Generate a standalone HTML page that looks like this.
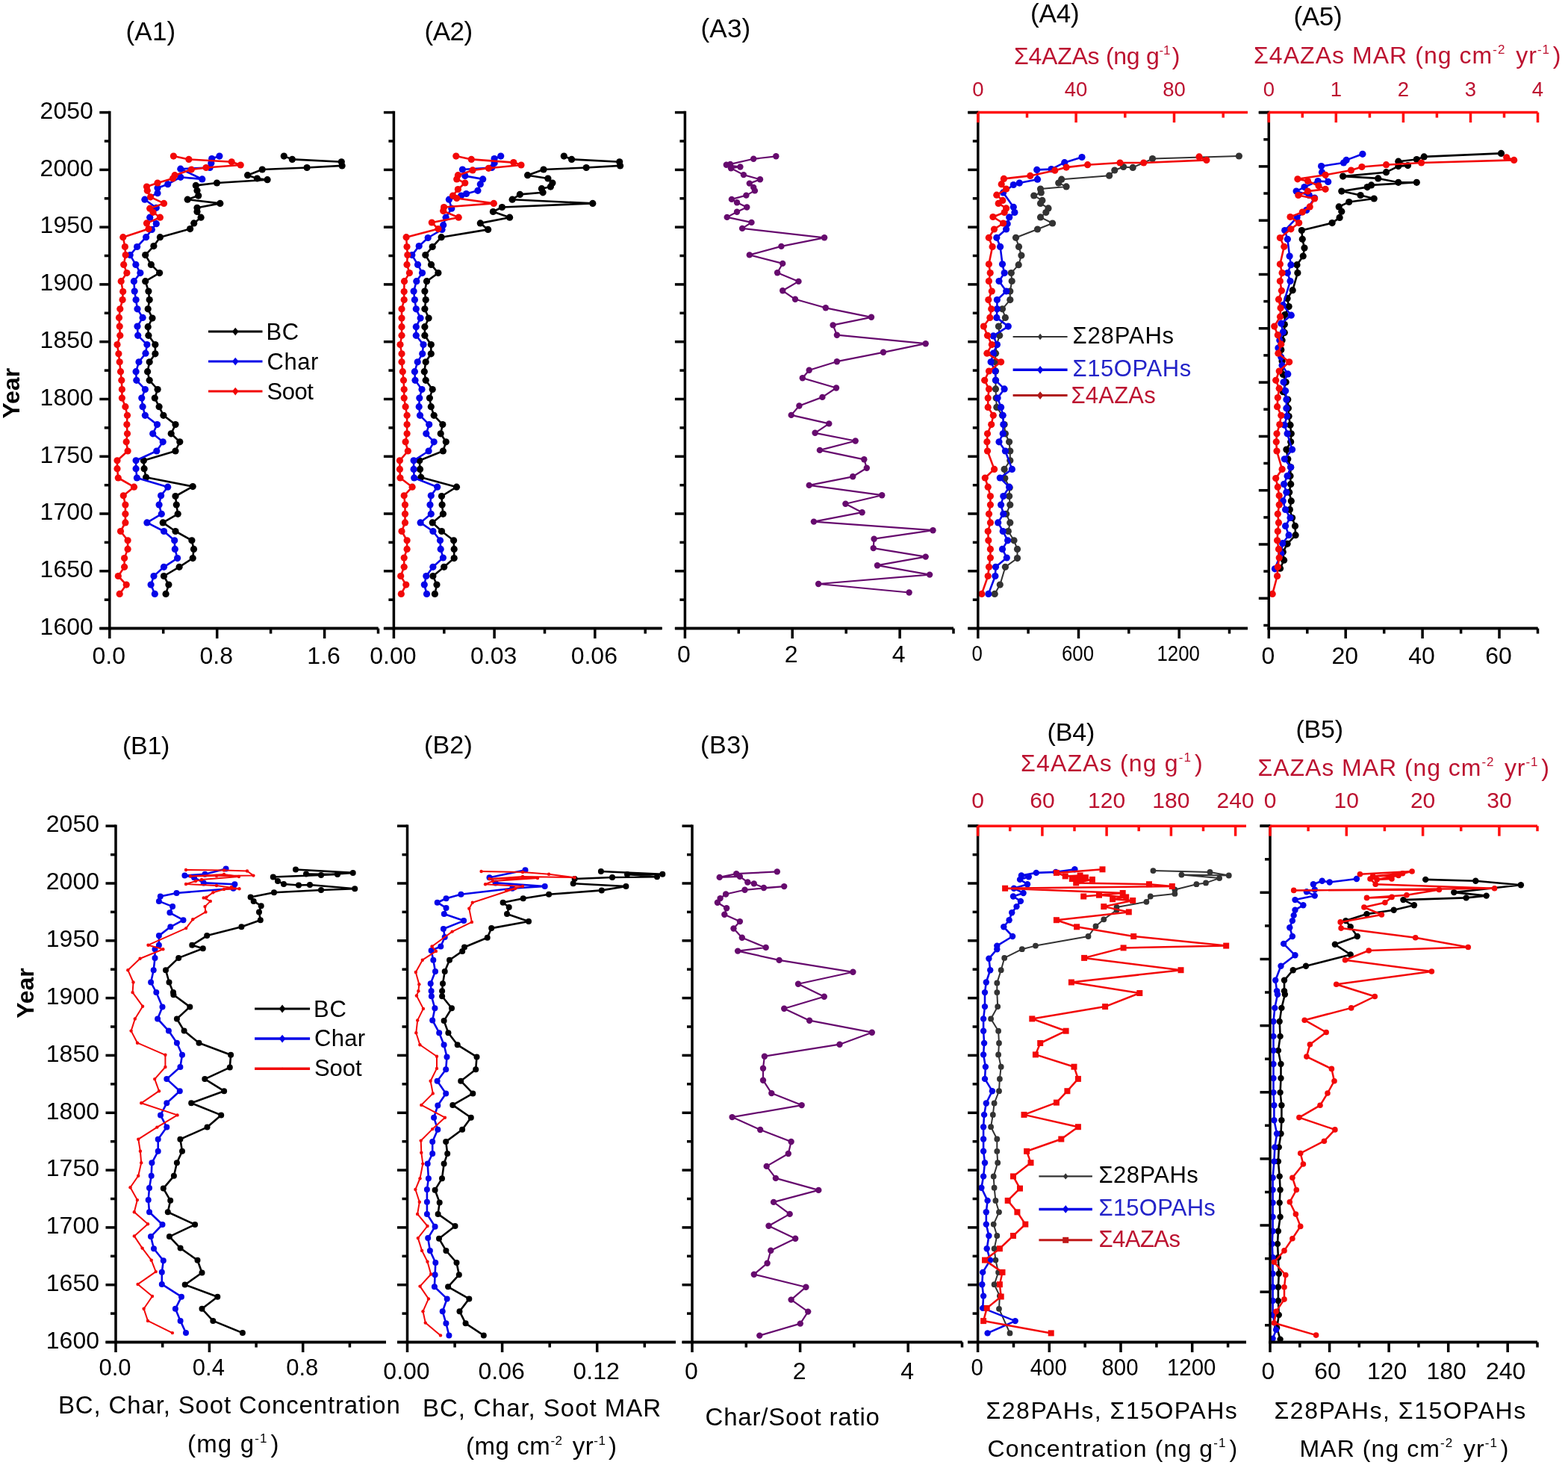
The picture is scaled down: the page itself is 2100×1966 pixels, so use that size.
<!DOCTYPE html>
<html><head><meta charset="utf-8"><title>Figure</title>
<style>html,body{margin:0;padding:0;background:#fff;} svg{display:block;}</style></head>
<body><svg width="2100" height="1966" viewBox="0 0 2100 1966" font-family="'Liberation Sans', Arial, sans-serif">
<rect width="2100" height="1966" fill="#fff"/>
<polyline points="380.3,209.1 391.4,213.4 457.3,216.8 458.1,221.9 411.1,224.5 351.2,227.0 331.6,234.7 344.4,239.0 358.1,240.7 290.5,245.0 262.3,248.4 264.0,255.3 265.7,262.1 251.2,267.2 294.8,272.4 264.0,278.3 264.0,283.5 269.1,291.2 259.7,298.9 254.6,306.6 214.4,317.7 205.9,329.6 194.7,341.6 202.4,354.4 213.6,365.6 194.7,376.7 198.9,390.0 200.2,401.6 198.2,413.8 204.0,426.1 198.2,437.7 198.9,449.3 207.9,461.6 207.9,473.8 200.2,484.8 197.6,497.7 200.2,509.3 211.1,521.5 207.3,533.1 213.1,544.7 218.9,556.3 235.0,568.6 229.2,580.8 240.8,591.8 235.0,604.0 192.4,616.8 193.1,627.7 195.6,639.3 258.2,651.6 235.0,664.5 236.3,676.1 238.2,688.3 218.2,699.9 235.0,711.5 256.9,723.8 259.5,735.4 258.2,747.6 240.1,759.3 219.5,771.5 225.9,783.1 222.1,795.4" fill="none" stroke="#000000" stroke-width="2.6" stroke-linejoin="round"/>
<circle cx="380.3" cy="209.1" r="4.6" fill="#000000"/>
<circle cx="391.4" cy="213.4" r="4.6" fill="#000000"/>
<circle cx="457.3" cy="216.8" r="4.6" fill="#000000"/>
<circle cx="458.1" cy="221.9" r="4.6" fill="#000000"/>
<circle cx="411.1" cy="224.5" r="4.6" fill="#000000"/>
<circle cx="351.2" cy="227.0" r="4.6" fill="#000000"/>
<circle cx="331.6" cy="234.7" r="4.6" fill="#000000"/>
<circle cx="344.4" cy="239.0" r="4.6" fill="#000000"/>
<circle cx="358.1" cy="240.7" r="4.6" fill="#000000"/>
<circle cx="290.5" cy="245.0" r="4.6" fill="#000000"/>
<circle cx="262.3" cy="248.4" r="4.6" fill="#000000"/>
<circle cx="264.0" cy="255.3" r="4.6" fill="#000000"/>
<circle cx="265.7" cy="262.1" r="4.6" fill="#000000"/>
<circle cx="251.2" cy="267.2" r="4.6" fill="#000000"/>
<circle cx="294.8" cy="272.4" r="4.6" fill="#000000"/>
<circle cx="264.0" cy="278.3" r="4.6" fill="#000000"/>
<circle cx="264.0" cy="283.5" r="4.6" fill="#000000"/>
<circle cx="269.1" cy="291.2" r="4.6" fill="#000000"/>
<circle cx="259.7" cy="298.9" r="4.6" fill="#000000"/>
<circle cx="254.6" cy="306.6" r="4.6" fill="#000000"/>
<circle cx="214.4" cy="317.7" r="4.6" fill="#000000"/>
<circle cx="205.9" cy="329.6" r="4.6" fill="#000000"/>
<circle cx="194.7" cy="341.6" r="4.6" fill="#000000"/>
<circle cx="202.4" cy="354.4" r="4.6" fill="#000000"/>
<circle cx="213.6" cy="365.6" r="4.6" fill="#000000"/>
<circle cx="194.7" cy="376.7" r="4.6" fill="#000000"/>
<circle cx="198.9" cy="390.0" r="4.6" fill="#000000"/>
<circle cx="200.2" cy="401.6" r="4.6" fill="#000000"/>
<circle cx="198.2" cy="413.8" r="4.6" fill="#000000"/>
<circle cx="204.0" cy="426.1" r="4.6" fill="#000000"/>
<circle cx="198.2" cy="437.7" r="4.6" fill="#000000"/>
<circle cx="198.9" cy="449.3" r="4.6" fill="#000000"/>
<circle cx="207.9" cy="461.6" r="4.6" fill="#000000"/>
<circle cx="207.9" cy="473.8" r="4.6" fill="#000000"/>
<circle cx="200.2" cy="484.8" r="4.6" fill="#000000"/>
<circle cx="197.6" cy="497.7" r="4.6" fill="#000000"/>
<circle cx="200.2" cy="509.3" r="4.6" fill="#000000"/>
<circle cx="211.1" cy="521.5" r="4.6" fill="#000000"/>
<circle cx="207.3" cy="533.1" r="4.6" fill="#000000"/>
<circle cx="213.1" cy="544.7" r="4.6" fill="#000000"/>
<circle cx="218.9" cy="556.3" r="4.6" fill="#000000"/>
<circle cx="235.0" cy="568.6" r="4.6" fill="#000000"/>
<circle cx="229.2" cy="580.8" r="4.6" fill="#000000"/>
<circle cx="240.8" cy="591.8" r="4.6" fill="#000000"/>
<circle cx="235.0" cy="604.0" r="4.6" fill="#000000"/>
<circle cx="192.4" cy="616.8" r="4.6" fill="#000000"/>
<circle cx="193.1" cy="627.7" r="4.6" fill="#000000"/>
<circle cx="195.6" cy="639.3" r="4.6" fill="#000000"/>
<circle cx="258.2" cy="651.6" r="4.6" fill="#000000"/>
<circle cx="235.0" cy="664.5" r="4.6" fill="#000000"/>
<circle cx="236.3" cy="676.1" r="4.6" fill="#000000"/>
<circle cx="238.2" cy="688.3" r="4.6" fill="#000000"/>
<circle cx="218.2" cy="699.9" r="4.6" fill="#000000"/>
<circle cx="235.0" cy="711.5" r="4.6" fill="#000000"/>
<circle cx="256.9" cy="723.8" r="4.6" fill="#000000"/>
<circle cx="259.5" cy="735.4" r="4.6" fill="#000000"/>
<circle cx="258.2" cy="747.6" r="4.6" fill="#000000"/>
<circle cx="240.1" cy="759.3" r="4.6" fill="#000000"/>
<circle cx="219.5" cy="771.5" r="4.6" fill="#000000"/>
<circle cx="225.9" cy="783.1" r="4.6" fill="#000000"/>
<circle cx="222.1" cy="795.4" r="4.6" fill="#000000"/>
<polyline points="293.9,209.1 283.7,212.5 282.8,218.5 281.1,224.5 241.8,226.2 270.8,239.9 241.8,237.3 224.7,246.7 211.0,251.8 211.0,258.7 193.9,267.2 209.3,278.3 200.7,291.2 209.3,299.7 203.3,307.4 195.6,317.7 183.6,330.5 174.2,341.6 181.9,354.4 187.9,365.6 179.4,376.7 180.2,390.0 182.1,401.6 184.0,413.8 191.1,425.4 184.0,437.1 184.7,449.3 196.9,461.6 195.0,473.2 186.0,484.8 182.1,497.7 182.8,509.3 194.4,521.5 189.8,533.1 191.1,544.7 194.4,556.3 210.5,568.6 204.7,580.8 218.2,591.8 209.8,604.0 182.1,616.8 182.1,627.7 183.4,640.0 224.7,652.2 215.6,663.8 213.1,676.1 216.3,688.3 196.9,699.9 219.5,711.5 233.7,723.8 234.3,735.4 237.6,747.6 219.5,759.3 206.0,771.5 202.1,783.1 207.3,795.4" fill="none" stroke="#0505e8" stroke-width="2.6" stroke-linejoin="round"/>
<circle cx="293.9" cy="209.1" r="4.6" fill="#0505e8"/>
<circle cx="283.7" cy="212.5" r="4.6" fill="#0505e8"/>
<circle cx="282.8" cy="218.5" r="4.6" fill="#0505e8"/>
<circle cx="281.1" cy="224.5" r="4.6" fill="#0505e8"/>
<circle cx="241.8" cy="226.2" r="4.6" fill="#0505e8"/>
<circle cx="270.8" cy="239.9" r="4.6" fill="#0505e8"/>
<circle cx="241.8" cy="237.3" r="4.6" fill="#0505e8"/>
<circle cx="224.7" cy="246.7" r="4.6" fill="#0505e8"/>
<circle cx="211.0" cy="251.8" r="4.6" fill="#0505e8"/>
<circle cx="211.0" cy="258.7" r="4.6" fill="#0505e8"/>
<circle cx="193.9" cy="267.2" r="4.6" fill="#0505e8"/>
<circle cx="209.3" cy="278.3" r="4.6" fill="#0505e8"/>
<circle cx="200.7" cy="291.2" r="4.6" fill="#0505e8"/>
<circle cx="209.3" cy="299.7" r="4.6" fill="#0505e8"/>
<circle cx="203.3" cy="307.4" r="4.6" fill="#0505e8"/>
<circle cx="195.6" cy="317.7" r="4.6" fill="#0505e8"/>
<circle cx="183.6" cy="330.5" r="4.6" fill="#0505e8"/>
<circle cx="174.2" cy="341.6" r="4.6" fill="#0505e8"/>
<circle cx="181.9" cy="354.4" r="4.6" fill="#0505e8"/>
<circle cx="187.9" cy="365.6" r="4.6" fill="#0505e8"/>
<circle cx="179.4" cy="376.7" r="4.6" fill="#0505e8"/>
<circle cx="180.2" cy="390.0" r="4.6" fill="#0505e8"/>
<circle cx="182.1" cy="401.6" r="4.6" fill="#0505e8"/>
<circle cx="184.0" cy="413.8" r="4.6" fill="#0505e8"/>
<circle cx="191.1" cy="425.4" r="4.6" fill="#0505e8"/>
<circle cx="184.0" cy="437.1" r="4.6" fill="#0505e8"/>
<circle cx="184.7" cy="449.3" r="4.6" fill="#0505e8"/>
<circle cx="196.9" cy="461.6" r="4.6" fill="#0505e8"/>
<circle cx="195.0" cy="473.2" r="4.6" fill="#0505e8"/>
<circle cx="186.0" cy="484.8" r="4.6" fill="#0505e8"/>
<circle cx="182.1" cy="497.7" r="4.6" fill="#0505e8"/>
<circle cx="182.8" cy="509.3" r="4.6" fill="#0505e8"/>
<circle cx="194.4" cy="521.5" r="4.6" fill="#0505e8"/>
<circle cx="189.8" cy="533.1" r="4.6" fill="#0505e8"/>
<circle cx="191.1" cy="544.7" r="4.6" fill="#0505e8"/>
<circle cx="194.4" cy="556.3" r="4.6" fill="#0505e8"/>
<circle cx="210.5" cy="568.6" r="4.6" fill="#0505e8"/>
<circle cx="204.7" cy="580.8" r="4.6" fill="#0505e8"/>
<circle cx="218.2" cy="591.8" r="4.6" fill="#0505e8"/>
<circle cx="209.8" cy="604.0" r="4.6" fill="#0505e8"/>
<circle cx="182.1" cy="616.8" r="4.6" fill="#0505e8"/>
<circle cx="182.1" cy="627.7" r="4.6" fill="#0505e8"/>
<circle cx="183.4" cy="640.0" r="4.6" fill="#0505e8"/>
<circle cx="224.7" cy="652.2" r="4.6" fill="#0505e8"/>
<circle cx="215.6" cy="663.8" r="4.6" fill="#0505e8"/>
<circle cx="213.1" cy="676.1" r="4.6" fill="#0505e8"/>
<circle cx="216.3" cy="688.3" r="4.6" fill="#0505e8"/>
<circle cx="196.9" cy="699.9" r="4.6" fill="#0505e8"/>
<circle cx="219.5" cy="711.5" r="4.6" fill="#0505e8"/>
<circle cx="233.7" cy="723.8" r="4.6" fill="#0505e8"/>
<circle cx="234.3" cy="735.4" r="4.6" fill="#0505e8"/>
<circle cx="237.6" cy="747.6" r="4.6" fill="#0505e8"/>
<circle cx="219.5" cy="759.3" r="4.6" fill="#0505e8"/>
<circle cx="206.0" cy="771.5" r="4.6" fill="#0505e8"/>
<circle cx="202.1" cy="783.1" r="4.6" fill="#0505e8"/>
<circle cx="207.3" cy="795.4" r="4.6" fill="#0505e8"/>
<polyline points="232.4,209.1 252.9,213.4 310.2,216.8 322.2,221.0 276.0,224.5 256.3,227.0 234.1,234.7 231.5,239.0 211.0,245.0 196.5,250.1 197.3,255.3 201.6,263.8 219.5,272.4 200.7,279.2 205.0,284.3 214.4,291.2 196.5,298.9 199.0,306.6 164.8,317.7 167.4,330.5 168.2,341.6 165.7,354.4 169.9,365.6 162.2,376.7 164.7,390.6 164.1,401.6 160.8,413.8 159.5,425.4 160.2,437.1 160.8,449.3 157.0,461.6 158.9,473.8 160.2,484.8 161.5,497.7 162.8,509.3 163.4,521.5 163.4,533.1 167.9,544.7 170.5,556.3 169.9,568.6 170.5,580.8 169.2,591.8 171.1,604.0 157.0,616.8 157.0,627.7 158.3,640.0 179.5,652.2 165.3,663.8 167.9,676.1 167.9,688.3 167.9,699.9 161.5,711.5 171.1,723.8 171.1,735.4 166.6,747.6 166.6,759.3 158.3,771.5 169.2,783.1 160.2,795.4" fill="none" stroke="#f20808" stroke-width="2.6" stroke-linejoin="round"/>
<circle cx="232.4" cy="209.1" r="4.6" fill="#f20808"/>
<circle cx="252.9" cy="213.4" r="4.6" fill="#f20808"/>
<circle cx="310.2" cy="216.8" r="4.6" fill="#f20808"/>
<circle cx="322.2" cy="221.0" r="4.6" fill="#f20808"/>
<circle cx="276.0" cy="224.5" r="4.6" fill="#f20808"/>
<circle cx="256.3" cy="227.0" r="4.6" fill="#f20808"/>
<circle cx="234.1" cy="234.7" r="4.6" fill="#f20808"/>
<circle cx="231.5" cy="239.0" r="4.6" fill="#f20808"/>
<circle cx="211.0" cy="245.0" r="4.6" fill="#f20808"/>
<circle cx="196.5" cy="250.1" r="4.6" fill="#f20808"/>
<circle cx="197.3" cy="255.3" r="4.6" fill="#f20808"/>
<circle cx="201.6" cy="263.8" r="4.6" fill="#f20808"/>
<circle cx="219.5" cy="272.4" r="4.6" fill="#f20808"/>
<circle cx="200.7" cy="279.2" r="4.6" fill="#f20808"/>
<circle cx="205.0" cy="284.3" r="4.6" fill="#f20808"/>
<circle cx="214.4" cy="291.2" r="4.6" fill="#f20808"/>
<circle cx="196.5" cy="298.9" r="4.6" fill="#f20808"/>
<circle cx="199.0" cy="306.6" r="4.6" fill="#f20808"/>
<circle cx="164.8" cy="317.7" r="4.6" fill="#f20808"/>
<circle cx="167.4" cy="330.5" r="4.6" fill="#f20808"/>
<circle cx="168.2" cy="341.6" r="4.6" fill="#f20808"/>
<circle cx="165.7" cy="354.4" r="4.6" fill="#f20808"/>
<circle cx="169.9" cy="365.6" r="4.6" fill="#f20808"/>
<circle cx="162.2" cy="376.7" r="4.6" fill="#f20808"/>
<circle cx="164.7" cy="390.6" r="4.6" fill="#f20808"/>
<circle cx="164.1" cy="401.6" r="4.6" fill="#f20808"/>
<circle cx="160.8" cy="413.8" r="4.6" fill="#f20808"/>
<circle cx="159.5" cy="425.4" r="4.6" fill="#f20808"/>
<circle cx="160.2" cy="437.1" r="4.6" fill="#f20808"/>
<circle cx="160.8" cy="449.3" r="4.6" fill="#f20808"/>
<circle cx="157.0" cy="461.6" r="4.6" fill="#f20808"/>
<circle cx="158.9" cy="473.8" r="4.6" fill="#f20808"/>
<circle cx="160.2" cy="484.8" r="4.6" fill="#f20808"/>
<circle cx="161.5" cy="497.7" r="4.6" fill="#f20808"/>
<circle cx="162.8" cy="509.3" r="4.6" fill="#f20808"/>
<circle cx="163.4" cy="521.5" r="4.6" fill="#f20808"/>
<circle cx="163.4" cy="533.1" r="4.6" fill="#f20808"/>
<circle cx="167.9" cy="544.7" r="4.6" fill="#f20808"/>
<circle cx="170.5" cy="556.3" r="4.6" fill="#f20808"/>
<circle cx="169.9" cy="568.6" r="4.6" fill="#f20808"/>
<circle cx="170.5" cy="580.8" r="4.6" fill="#f20808"/>
<circle cx="169.2" cy="591.8" r="4.6" fill="#f20808"/>
<circle cx="171.1" cy="604.0" r="4.6" fill="#f20808"/>
<circle cx="157.0" cy="616.8" r="4.6" fill="#f20808"/>
<circle cx="157.0" cy="627.7" r="4.6" fill="#f20808"/>
<circle cx="158.3" cy="640.0" r="4.6" fill="#f20808"/>
<circle cx="179.5" cy="652.2" r="4.6" fill="#f20808"/>
<circle cx="165.3" cy="663.8" r="4.6" fill="#f20808"/>
<circle cx="167.9" cy="676.1" r="4.6" fill="#f20808"/>
<circle cx="167.9" cy="688.3" r="4.6" fill="#f20808"/>
<circle cx="167.9" cy="699.9" r="4.6" fill="#f20808"/>
<circle cx="161.5" cy="711.5" r="4.6" fill="#f20808"/>
<circle cx="171.1" cy="723.8" r="4.6" fill="#f20808"/>
<circle cx="171.1" cy="735.4" r="4.6" fill="#f20808"/>
<circle cx="166.6" cy="747.6" r="4.6" fill="#f20808"/>
<circle cx="166.6" cy="759.3" r="4.6" fill="#f20808"/>
<circle cx="158.3" cy="771.5" r="4.6" fill="#f20808"/>
<circle cx="169.2" cy="783.1" r="4.6" fill="#f20808"/>
<circle cx="160.2" cy="795.4" r="4.6" fill="#f20808"/>
<polyline points="755.3,209.1 765.6,213.4 829.7,216.8 830.6,221.9 785.2,224.5 728.0,227.0 706.6,234.7 733.9,239.0 739.9,245.0 737.4,250.1 725.4,252.7 727.1,257.8 696.3,260.4 686.1,267.2 793.8,272.4 672.4,277.5 660.4,283.5 682.6,291.2 643.3,298.9 653.6,307.4 591.1,317.7 579.2,330.5 569.8,341.6 577.5,354.4 586.9,365.6 571.5,376.7 568.9,390.0 570.2,401.6 568.9,413.8 574.1,426.1 568.9,437.7 568.9,449.3 577.3,461.6 577.3,473.8 570.2,484.8 568.3,497.7 570.2,509.3 579.2,521.5 575.4,533.1 577.3,544.7 581.2,556.3 592.8,568.6 590.2,580.8 597.3,591.8 593.4,604.0 561.8,616.8 562.5,628.4 563.8,639.3 611.5,652.2 591.5,664.5 592.1,676.1 593.4,688.3 579.2,699.9 591.5,711.5 607.6,723.8 608.2,735.4 608.2,747.6 594.7,759.3 579.9,771.5 585.0,783.1 582.4,795.4" fill="none" stroke="#000000" stroke-width="2.6" stroke-linejoin="round"/>
<circle cx="755.3" cy="209.1" r="4.6" fill="#000000"/>
<circle cx="765.6" cy="213.4" r="4.6" fill="#000000"/>
<circle cx="829.7" cy="216.8" r="4.6" fill="#000000"/>
<circle cx="830.6" cy="221.9" r="4.6" fill="#000000"/>
<circle cx="785.2" cy="224.5" r="4.6" fill="#000000"/>
<circle cx="728.0" cy="227.0" r="4.6" fill="#000000"/>
<circle cx="706.6" cy="234.7" r="4.6" fill="#000000"/>
<circle cx="733.9" cy="239.0" r="4.6" fill="#000000"/>
<circle cx="739.9" cy="245.0" r="4.6" fill="#000000"/>
<circle cx="737.4" cy="250.1" r="4.6" fill="#000000"/>
<circle cx="725.4" cy="252.7" r="4.6" fill="#000000"/>
<circle cx="727.1" cy="257.8" r="4.6" fill="#000000"/>
<circle cx="696.3" cy="260.4" r="4.6" fill="#000000"/>
<circle cx="686.1" cy="267.2" r="4.6" fill="#000000"/>
<circle cx="793.8" cy="272.4" r="4.6" fill="#000000"/>
<circle cx="672.4" cy="277.5" r="4.6" fill="#000000"/>
<circle cx="660.4" cy="283.5" r="4.6" fill="#000000"/>
<circle cx="682.6" cy="291.2" r="4.6" fill="#000000"/>
<circle cx="643.3" cy="298.9" r="4.6" fill="#000000"/>
<circle cx="653.6" cy="307.4" r="4.6" fill="#000000"/>
<circle cx="591.1" cy="317.7" r="4.6" fill="#000000"/>
<circle cx="579.2" cy="330.5" r="4.6" fill="#000000"/>
<circle cx="569.8" cy="341.6" r="4.6" fill="#000000"/>
<circle cx="577.5" cy="354.4" r="4.6" fill="#000000"/>
<circle cx="586.9" cy="365.6" r="4.6" fill="#000000"/>
<circle cx="571.5" cy="376.7" r="4.6" fill="#000000"/>
<circle cx="568.9" cy="390.0" r="4.6" fill="#000000"/>
<circle cx="570.2" cy="401.6" r="4.6" fill="#000000"/>
<circle cx="568.9" cy="413.8" r="4.6" fill="#000000"/>
<circle cx="574.1" cy="426.1" r="4.6" fill="#000000"/>
<circle cx="568.9" cy="437.7" r="4.6" fill="#000000"/>
<circle cx="568.9" cy="449.3" r="4.6" fill="#000000"/>
<circle cx="577.3" cy="461.6" r="4.6" fill="#000000"/>
<circle cx="577.3" cy="473.8" r="4.6" fill="#000000"/>
<circle cx="570.2" cy="484.8" r="4.6" fill="#000000"/>
<circle cx="568.3" cy="497.7" r="4.6" fill="#000000"/>
<circle cx="570.2" cy="509.3" r="4.6" fill="#000000"/>
<circle cx="579.2" cy="521.5" r="4.6" fill="#000000"/>
<circle cx="575.4" cy="533.1" r="4.6" fill="#000000"/>
<circle cx="577.3" cy="544.7" r="4.6" fill="#000000"/>
<circle cx="581.2" cy="556.3" r="4.6" fill="#000000"/>
<circle cx="592.8" cy="568.6" r="4.6" fill="#000000"/>
<circle cx="590.2" cy="580.8" r="4.6" fill="#000000"/>
<circle cx="597.3" cy="591.8" r="4.6" fill="#000000"/>
<circle cx="593.4" cy="604.0" r="4.6" fill="#000000"/>
<circle cx="561.8" cy="616.8" r="4.6" fill="#000000"/>
<circle cx="562.5" cy="628.4" r="4.6" fill="#000000"/>
<circle cx="563.8" cy="639.3" r="4.6" fill="#000000"/>
<circle cx="611.5" cy="652.2" r="4.6" fill="#000000"/>
<circle cx="591.5" cy="664.5" r="4.6" fill="#000000"/>
<circle cx="592.1" cy="676.1" r="4.6" fill="#000000"/>
<circle cx="593.4" cy="688.3" r="4.6" fill="#000000"/>
<circle cx="579.2" cy="699.9" r="4.6" fill="#000000"/>
<circle cx="591.5" cy="711.5" r="4.6" fill="#000000"/>
<circle cx="607.6" cy="723.8" r="4.6" fill="#000000"/>
<circle cx="608.2" cy="735.4" r="4.6" fill="#000000"/>
<circle cx="608.2" cy="747.6" r="4.6" fill="#000000"/>
<circle cx="594.7" cy="759.3" r="4.6" fill="#000000"/>
<circle cx="579.9" cy="771.5" r="4.6" fill="#000000"/>
<circle cx="585.0" cy="783.1" r="4.6" fill="#000000"/>
<circle cx="582.4" cy="795.4" r="4.6" fill="#000000"/>
<polyline points="670.7,209.1 662.1,212.5 662.1,218.5 658.7,224.5 619.4,227.0 622.8,235.6 646.7,239.9 643.3,246.7 639.9,255.3 624.5,259.5 617.6,262.1 601.4,267.2 604.8,279.2 597.1,291.2 593.7,301.4 592.0,307.4 573.2,318.5 561.2,329.6 551.8,341.6 559.5,354.4 565.5,365.6 557.8,376.7 554.1,390.0 555.4,401.6 557.3,413.8 563.1,426.1 557.3,437.7 557.3,449.3 567.0,461.6 565.7,473.8 559.2,484.8 555.4,497.7 556.0,509.3 565.0,521.5 561.8,533.1 561.2,544.7 562.5,556.3 574.7,568.6 570.8,580.8 581.2,591.8 574.1,604.0 554.1,616.8 554.1,628.4 554.7,640.0 585.7,652.2 577.3,663.8 576.0,676.1 577.3,688.3 563.1,699.9 579.9,711.5 589.5,723.8 590.2,735.4 593.4,747.0 579.9,759.3 570.8,771.5 568.3,783.1 571.5,795.4" fill="none" stroke="#0505e8" stroke-width="2.6" stroke-linejoin="round"/>
<circle cx="670.7" cy="209.1" r="4.6" fill="#0505e8"/>
<circle cx="662.1" cy="212.5" r="4.6" fill="#0505e8"/>
<circle cx="662.1" cy="218.5" r="4.6" fill="#0505e8"/>
<circle cx="658.7" cy="224.5" r="4.6" fill="#0505e8"/>
<circle cx="619.4" cy="227.0" r="4.6" fill="#0505e8"/>
<circle cx="622.8" cy="235.6" r="4.6" fill="#0505e8"/>
<circle cx="646.7" cy="239.9" r="4.6" fill="#0505e8"/>
<circle cx="643.3" cy="246.7" r="4.6" fill="#0505e8"/>
<circle cx="639.9" cy="255.3" r="4.6" fill="#0505e8"/>
<circle cx="624.5" cy="259.5" r="4.6" fill="#0505e8"/>
<circle cx="617.6" cy="262.1" r="4.6" fill="#0505e8"/>
<circle cx="601.4" cy="267.2" r="4.6" fill="#0505e8"/>
<circle cx="604.8" cy="279.2" r="4.6" fill="#0505e8"/>
<circle cx="597.1" cy="291.2" r="4.6" fill="#0505e8"/>
<circle cx="593.7" cy="301.4" r="4.6" fill="#0505e8"/>
<circle cx="592.0" cy="307.4" r="4.6" fill="#0505e8"/>
<circle cx="573.2" cy="318.5" r="4.6" fill="#0505e8"/>
<circle cx="561.2" cy="329.6" r="4.6" fill="#0505e8"/>
<circle cx="551.8" cy="341.6" r="4.6" fill="#0505e8"/>
<circle cx="559.5" cy="354.4" r="4.6" fill="#0505e8"/>
<circle cx="565.5" cy="365.6" r="4.6" fill="#0505e8"/>
<circle cx="557.8" cy="376.7" r="4.6" fill="#0505e8"/>
<circle cx="554.1" cy="390.0" r="4.6" fill="#0505e8"/>
<circle cx="555.4" cy="401.6" r="4.6" fill="#0505e8"/>
<circle cx="557.3" cy="413.8" r="4.6" fill="#0505e8"/>
<circle cx="563.1" cy="426.1" r="4.6" fill="#0505e8"/>
<circle cx="557.3" cy="437.7" r="4.6" fill="#0505e8"/>
<circle cx="557.3" cy="449.3" r="4.6" fill="#0505e8"/>
<circle cx="567.0" cy="461.6" r="4.6" fill="#0505e8"/>
<circle cx="565.7" cy="473.8" r="4.6" fill="#0505e8"/>
<circle cx="559.2" cy="484.8" r="4.6" fill="#0505e8"/>
<circle cx="555.4" cy="497.7" r="4.6" fill="#0505e8"/>
<circle cx="556.0" cy="509.3" r="4.6" fill="#0505e8"/>
<circle cx="565.0" cy="521.5" r="4.6" fill="#0505e8"/>
<circle cx="561.8" cy="533.1" r="4.6" fill="#0505e8"/>
<circle cx="561.2" cy="544.7" r="4.6" fill="#0505e8"/>
<circle cx="562.5" cy="556.3" r="4.6" fill="#0505e8"/>
<circle cx="574.7" cy="568.6" r="4.6" fill="#0505e8"/>
<circle cx="570.8" cy="580.8" r="4.6" fill="#0505e8"/>
<circle cx="581.2" cy="591.8" r="4.6" fill="#0505e8"/>
<circle cx="574.1" cy="604.0" r="4.6" fill="#0505e8"/>
<circle cx="554.1" cy="616.8" r="4.6" fill="#0505e8"/>
<circle cx="554.1" cy="628.4" r="4.6" fill="#0505e8"/>
<circle cx="554.7" cy="640.0" r="4.6" fill="#0505e8"/>
<circle cx="585.7" cy="652.2" r="4.6" fill="#0505e8"/>
<circle cx="577.3" cy="663.8" r="4.6" fill="#0505e8"/>
<circle cx="576.0" cy="676.1" r="4.6" fill="#0505e8"/>
<circle cx="577.3" cy="688.3" r="4.6" fill="#0505e8"/>
<circle cx="563.1" cy="699.9" r="4.6" fill="#0505e8"/>
<circle cx="579.9" cy="711.5" r="4.6" fill="#0505e8"/>
<circle cx="589.5" cy="723.8" r="4.6" fill="#0505e8"/>
<circle cx="590.2" cy="735.4" r="4.6" fill="#0505e8"/>
<circle cx="593.4" cy="747.0" r="4.6" fill="#0505e8"/>
<circle cx="579.9" cy="759.3" r="4.6" fill="#0505e8"/>
<circle cx="570.8" cy="771.5" r="4.6" fill="#0505e8"/>
<circle cx="568.3" cy="783.1" r="4.6" fill="#0505e8"/>
<circle cx="571.5" cy="795.4" r="4.6" fill="#0505e8"/>
<polyline points="610.8,209.1 631.3,213.4 687.8,217.6 698.0,221.0 654.4,225.3 633.0,227.9 613.4,234.7 611.7,239.9 622.8,245.0 613.4,253.5 606.5,262.1 611.7,265.5 661.3,272.4 594.6,277.5 593.7,282.6 614.2,291.2 578.3,298.0 586.9,306.6 544.1,317.7 545.0,330.5 545.8,341.6 545.0,354.4 548.4,365.6 541.5,376.7 541.2,390.6 541.2,401.6 538.0,413.8 538.0,426.1 538.0,437.7 538.0,449.3 536.0,461.6 538.0,473.8 538.0,484.8 539.3,497.7 540.5,509.3 541.2,521.5 541.2,533.1 543.1,544.7 545.1,556.3 545.1,568.6 545.1,580.8 543.1,591.8 546.3,604.0 535.4,616.8 535.4,628.4 536.0,640.0 552.1,652.2 541.2,663.8 542.5,676.1 542.5,688.3 542.5,699.9 538.0,711.5 545.1,723.8 545.1,735.4 541.2,747.0 541.2,759.3 536.7,771.5 543.8,783.1 537.3,795.4" fill="none" stroke="#f20808" stroke-width="2.6" stroke-linejoin="round"/>
<circle cx="610.8" cy="209.1" r="4.6" fill="#f20808"/>
<circle cx="631.3" cy="213.4" r="4.6" fill="#f20808"/>
<circle cx="687.8" cy="217.6" r="4.6" fill="#f20808"/>
<circle cx="698.0" cy="221.0" r="4.6" fill="#f20808"/>
<circle cx="654.4" cy="225.3" r="4.6" fill="#f20808"/>
<circle cx="633.0" cy="227.9" r="4.6" fill="#f20808"/>
<circle cx="613.4" cy="234.7" r="4.6" fill="#f20808"/>
<circle cx="611.7" cy="239.9" r="4.6" fill="#f20808"/>
<circle cx="622.8" cy="245.0" r="4.6" fill="#f20808"/>
<circle cx="613.4" cy="253.5" r="4.6" fill="#f20808"/>
<circle cx="606.5" cy="262.1" r="4.6" fill="#f20808"/>
<circle cx="611.7" cy="265.5" r="4.6" fill="#f20808"/>
<circle cx="661.3" cy="272.4" r="4.6" fill="#f20808"/>
<circle cx="594.6" cy="277.5" r="4.6" fill="#f20808"/>
<circle cx="593.7" cy="282.6" r="4.6" fill="#f20808"/>
<circle cx="614.2" cy="291.2" r="4.6" fill="#f20808"/>
<circle cx="578.3" cy="298.0" r="4.6" fill="#f20808"/>
<circle cx="586.9" cy="306.6" r="4.6" fill="#f20808"/>
<circle cx="544.1" cy="317.7" r="4.6" fill="#f20808"/>
<circle cx="545.0" cy="330.5" r="4.6" fill="#f20808"/>
<circle cx="545.8" cy="341.6" r="4.6" fill="#f20808"/>
<circle cx="545.0" cy="354.4" r="4.6" fill="#f20808"/>
<circle cx="548.4" cy="365.6" r="4.6" fill="#f20808"/>
<circle cx="541.5" cy="376.7" r="4.6" fill="#f20808"/>
<circle cx="541.2" cy="390.6" r="4.6" fill="#f20808"/>
<circle cx="541.2" cy="401.6" r="4.6" fill="#f20808"/>
<circle cx="538.0" cy="413.8" r="4.6" fill="#f20808"/>
<circle cx="538.0" cy="426.1" r="4.6" fill="#f20808"/>
<circle cx="538.0" cy="437.7" r="4.6" fill="#f20808"/>
<circle cx="538.0" cy="449.3" r="4.6" fill="#f20808"/>
<circle cx="536.0" cy="461.6" r="4.6" fill="#f20808"/>
<circle cx="538.0" cy="473.8" r="4.6" fill="#f20808"/>
<circle cx="538.0" cy="484.8" r="4.6" fill="#f20808"/>
<circle cx="539.3" cy="497.7" r="4.6" fill="#f20808"/>
<circle cx="540.5" cy="509.3" r="4.6" fill="#f20808"/>
<circle cx="541.2" cy="521.5" r="4.6" fill="#f20808"/>
<circle cx="541.2" cy="533.1" r="4.6" fill="#f20808"/>
<circle cx="543.1" cy="544.7" r="4.6" fill="#f20808"/>
<circle cx="545.1" cy="556.3" r="4.6" fill="#f20808"/>
<circle cx="545.1" cy="568.6" r="4.6" fill="#f20808"/>
<circle cx="545.1" cy="580.8" r="4.6" fill="#f20808"/>
<circle cx="543.1" cy="591.8" r="4.6" fill="#f20808"/>
<circle cx="546.3" cy="604.0" r="4.6" fill="#f20808"/>
<circle cx="535.4" cy="616.8" r="4.6" fill="#f20808"/>
<circle cx="535.4" cy="628.4" r="4.6" fill="#f20808"/>
<circle cx="536.0" cy="640.0" r="4.6" fill="#f20808"/>
<circle cx="552.1" cy="652.2" r="4.6" fill="#f20808"/>
<circle cx="541.2" cy="663.8" r="4.6" fill="#f20808"/>
<circle cx="542.5" cy="676.1" r="4.6" fill="#f20808"/>
<circle cx="542.5" cy="688.3" r="4.6" fill="#f20808"/>
<circle cx="542.5" cy="699.9" r="4.6" fill="#f20808"/>
<circle cx="538.0" cy="711.5" r="4.6" fill="#f20808"/>
<circle cx="545.1" cy="723.8" r="4.6" fill="#f20808"/>
<circle cx="545.1" cy="735.4" r="4.6" fill="#f20808"/>
<circle cx="541.2" cy="747.0" r="4.6" fill="#f20808"/>
<circle cx="541.2" cy="759.3" r="4.6" fill="#f20808"/>
<circle cx="536.7" cy="771.5" r="4.6" fill="#f20808"/>
<circle cx="543.8" cy="783.1" r="4.6" fill="#f20808"/>
<circle cx="537.3" cy="795.4" r="4.6" fill="#f20808"/>
<polyline points="1039.3,209.3 1009.2,212.8 978.1,219.9 972.8,220.8 991.4,223.5 979.0,225.2 995.9,234.1 1018.0,240.3 1003.8,245.6 1009.2,250.9 1010.9,255.4 999.4,261.6 979.9,266.9 987.0,271.3 1000.3,277.5 987.0,283.8 973.7,290.9 1006.5,297.9 994.1,305.9 1104.1,318.3 1046.4,329.9 1003.8,341.4 1048.2,352.9 1041.1,365.3 1069.5,376.9 1048.2,389.3 1065.0,400.8 1105.8,412.3 1167.0,424.8 1115.6,435.4 1120.9,448.7 1239.7,460.2 1183.0,471.8 1120.9,484.2 1083.7,495.7 1074.8,506.3 1120.0,519.5 1101.4,531.9 1070.4,543.5 1059.7,555.9 1110.3,567.4 1091.6,579.8 1145.7,590.5 1097.9,602.9 1157.3,615.3 1160.8,626.8 1142.2,638.3 1083.7,649.9 1181.2,663.2 1132.4,674.7 1154.6,686.2 1089.9,698.6 1249.5,710.2 1170.6,721.7 1169.7,734.1 1239.7,745.6 1175.0,757.2 1245.1,769.6 1096.1,782.0 1217.6,793.5" fill="none" stroke="#660a6e" stroke-width="2.2" stroke-linejoin="round"/>
<circle cx="1039.3" cy="209.3" r="4.2" fill="#660a6e"/>
<circle cx="1009.2" cy="212.8" r="4.2" fill="#660a6e"/>
<circle cx="978.1" cy="219.9" r="4.2" fill="#660a6e"/>
<circle cx="972.8" cy="220.8" r="4.2" fill="#660a6e"/>
<circle cx="991.4" cy="223.5" r="4.2" fill="#660a6e"/>
<circle cx="979.0" cy="225.2" r="4.2" fill="#660a6e"/>
<circle cx="995.9" cy="234.1" r="4.2" fill="#660a6e"/>
<circle cx="1018.0" cy="240.3" r="4.2" fill="#660a6e"/>
<circle cx="1003.8" cy="245.6" r="4.2" fill="#660a6e"/>
<circle cx="1009.2" cy="250.9" r="4.2" fill="#660a6e"/>
<circle cx="1010.9" cy="255.4" r="4.2" fill="#660a6e"/>
<circle cx="999.4" cy="261.6" r="4.2" fill="#660a6e"/>
<circle cx="979.9" cy="266.9" r="4.2" fill="#660a6e"/>
<circle cx="987.0" cy="271.3" r="4.2" fill="#660a6e"/>
<circle cx="1000.3" cy="277.5" r="4.2" fill="#660a6e"/>
<circle cx="987.0" cy="283.8" r="4.2" fill="#660a6e"/>
<circle cx="973.7" cy="290.9" r="4.2" fill="#660a6e"/>
<circle cx="1006.5" cy="297.9" r="4.2" fill="#660a6e"/>
<circle cx="994.1" cy="305.9" r="4.2" fill="#660a6e"/>
<circle cx="1104.1" cy="318.3" r="4.2" fill="#660a6e"/>
<circle cx="1046.4" cy="329.9" r="4.2" fill="#660a6e"/>
<circle cx="1003.8" cy="341.4" r="4.2" fill="#660a6e"/>
<circle cx="1048.2" cy="352.9" r="4.2" fill="#660a6e"/>
<circle cx="1041.1" cy="365.3" r="4.2" fill="#660a6e"/>
<circle cx="1069.5" cy="376.9" r="4.2" fill="#660a6e"/>
<circle cx="1048.2" cy="389.3" r="4.2" fill="#660a6e"/>
<circle cx="1065.0" cy="400.8" r="4.2" fill="#660a6e"/>
<circle cx="1105.8" cy="412.3" r="4.2" fill="#660a6e"/>
<circle cx="1167.0" cy="424.8" r="4.2" fill="#660a6e"/>
<circle cx="1115.6" cy="435.4" r="4.2" fill="#660a6e"/>
<circle cx="1120.9" cy="448.7" r="4.2" fill="#660a6e"/>
<circle cx="1239.7" cy="460.2" r="4.2" fill="#660a6e"/>
<circle cx="1183.0" cy="471.8" r="4.2" fill="#660a6e"/>
<circle cx="1120.9" cy="484.2" r="4.2" fill="#660a6e"/>
<circle cx="1083.7" cy="495.7" r="4.2" fill="#660a6e"/>
<circle cx="1074.8" cy="506.3" r="4.2" fill="#660a6e"/>
<circle cx="1120.0" cy="519.5" r="4.2" fill="#660a6e"/>
<circle cx="1101.4" cy="531.9" r="4.2" fill="#660a6e"/>
<circle cx="1070.4" cy="543.5" r="4.2" fill="#660a6e"/>
<circle cx="1059.7" cy="555.9" r="4.2" fill="#660a6e"/>
<circle cx="1110.3" cy="567.4" r="4.2" fill="#660a6e"/>
<circle cx="1091.6" cy="579.8" r="4.2" fill="#660a6e"/>
<circle cx="1145.7" cy="590.5" r="4.2" fill="#660a6e"/>
<circle cx="1097.9" cy="602.9" r="4.2" fill="#660a6e"/>
<circle cx="1157.3" cy="615.3" r="4.2" fill="#660a6e"/>
<circle cx="1160.8" cy="626.8" r="4.2" fill="#660a6e"/>
<circle cx="1142.2" cy="638.3" r="4.2" fill="#660a6e"/>
<circle cx="1083.7" cy="649.9" r="4.2" fill="#660a6e"/>
<circle cx="1181.2" cy="663.2" r="4.2" fill="#660a6e"/>
<circle cx="1132.4" cy="674.7" r="4.2" fill="#660a6e"/>
<circle cx="1154.6" cy="686.2" r="4.2" fill="#660a6e"/>
<circle cx="1089.9" cy="698.6" r="4.2" fill="#660a6e"/>
<circle cx="1249.5" cy="710.2" r="4.2" fill="#660a6e"/>
<circle cx="1170.6" cy="721.7" r="4.2" fill="#660a6e"/>
<circle cx="1169.7" cy="734.1" r="4.2" fill="#660a6e"/>
<circle cx="1239.7" cy="745.6" r="4.2" fill="#660a6e"/>
<circle cx="1175.0" cy="757.2" r="4.2" fill="#660a6e"/>
<circle cx="1245.1" cy="769.6" r="4.2" fill="#660a6e"/>
<circle cx="1096.1" cy="782.0" r="4.2" fill="#660a6e"/>
<circle cx="1217.6" cy="793.5" r="4.2" fill="#660a6e"/>
<polyline points="1659.4,209.0 1543.5,212.6 1517.2,224.4 1504.6,223.5 1492.8,228.0 1485.6,235.2 1421.7,240.2 1417.7,245.1 1428.1,249.9 1393.5,253.1 1394.3,257.9 1384.7,262.0 1395.9,268.4 1393.5,272.4 1404.0,278.9 1400.8,284.5 1393.5,290.9 1409.6,299.0 1389.5,307.0 1360.5,318.3 1364.5,330.4 1367.9,342.1 1364.2,354.7 1354.3,365.6 1355.2,376.5 1352.8,390.0 1352.8,401.6 1342.5,413.8 1346.4,425.4 1337.4,437.1 1338.7,449.3 1334.8,461.6 1333.5,473.2 1332.9,484.8 1333.5,497.0 1333.5,509.3 1333.5,520.9 1334.1,533.1 1334.8,545.4 1342.5,556.3 1345.1,568.6 1346.4,580.8 1351.6,591.8 1352.8,604.0 1352.8,616.8 1345.1,628.4 1345.8,640.6 1352.2,652.9 1351.6,664.5 1352.8,676.1 1347.7,688.3 1352.8,699.9 1350.3,711.5 1358.0,723.8 1362.5,735.4 1362.5,747.6 1346.4,759.3 1339.3,783.1 1332.2,795.4" fill="none" stroke="#333333" stroke-width="2.0" stroke-linejoin="round"/>
<circle cx="1659.4" cy="209.0" r="4.6" fill="#333333"/>
<circle cx="1543.5" cy="212.6" r="4.6" fill="#333333"/>
<circle cx="1517.2" cy="224.4" r="4.6" fill="#333333"/>
<circle cx="1504.6" cy="223.5" r="4.6" fill="#333333"/>
<circle cx="1492.8" cy="228.0" r="4.6" fill="#333333"/>
<circle cx="1485.6" cy="235.2" r="4.6" fill="#333333"/>
<circle cx="1421.7" cy="240.2" r="4.6" fill="#333333"/>
<circle cx="1417.7" cy="245.1" r="4.6" fill="#333333"/>
<circle cx="1428.1" cy="249.9" r="4.6" fill="#333333"/>
<circle cx="1393.5" cy="253.1" r="4.6" fill="#333333"/>
<circle cx="1394.3" cy="257.9" r="4.6" fill="#333333"/>
<circle cx="1384.7" cy="262.0" r="4.6" fill="#333333"/>
<circle cx="1395.9" cy="268.4" r="4.6" fill="#333333"/>
<circle cx="1393.5" cy="272.4" r="4.6" fill="#333333"/>
<circle cx="1404.0" cy="278.9" r="4.6" fill="#333333"/>
<circle cx="1400.8" cy="284.5" r="4.6" fill="#333333"/>
<circle cx="1393.5" cy="290.9" r="4.6" fill="#333333"/>
<circle cx="1409.6" cy="299.0" r="4.6" fill="#333333"/>
<circle cx="1389.5" cy="307.0" r="4.6" fill="#333333"/>
<circle cx="1360.5" cy="318.3" r="4.6" fill="#333333"/>
<circle cx="1364.5" cy="330.4" r="4.6" fill="#333333"/>
<circle cx="1367.9" cy="342.1" r="4.6" fill="#333333"/>
<circle cx="1364.2" cy="354.7" r="4.6" fill="#333333"/>
<circle cx="1354.3" cy="365.6" r="4.6" fill="#333333"/>
<circle cx="1355.2" cy="376.5" r="4.6" fill="#333333"/>
<circle cx="1352.8" cy="390.0" r="4.6" fill="#333333"/>
<circle cx="1352.8" cy="401.6" r="4.6" fill="#333333"/>
<circle cx="1342.5" cy="413.8" r="4.6" fill="#333333"/>
<circle cx="1346.4" cy="425.4" r="4.6" fill="#333333"/>
<circle cx="1337.4" cy="437.1" r="4.6" fill="#333333"/>
<circle cx="1338.7" cy="449.3" r="4.6" fill="#333333"/>
<circle cx="1334.8" cy="461.6" r="4.6" fill="#333333"/>
<circle cx="1333.5" cy="473.2" r="4.6" fill="#333333"/>
<circle cx="1332.9" cy="484.8" r="4.6" fill="#333333"/>
<circle cx="1333.5" cy="497.0" r="4.6" fill="#333333"/>
<circle cx="1333.5" cy="509.3" r="4.6" fill="#333333"/>
<circle cx="1333.5" cy="520.9" r="4.6" fill="#333333"/>
<circle cx="1334.1" cy="533.1" r="4.6" fill="#333333"/>
<circle cx="1334.8" cy="545.4" r="4.6" fill="#333333"/>
<circle cx="1342.5" cy="556.3" r="4.6" fill="#333333"/>
<circle cx="1345.1" cy="568.6" r="4.6" fill="#333333"/>
<circle cx="1346.4" cy="580.8" r="4.6" fill="#333333"/>
<circle cx="1351.6" cy="591.8" r="4.6" fill="#333333"/>
<circle cx="1352.8" cy="604.0" r="4.6" fill="#333333"/>
<circle cx="1352.8" cy="616.8" r="4.6" fill="#333333"/>
<circle cx="1345.1" cy="628.4" r="4.6" fill="#333333"/>
<circle cx="1345.8" cy="640.6" r="4.6" fill="#333333"/>
<circle cx="1352.2" cy="652.9" r="4.6" fill="#333333"/>
<circle cx="1351.6" cy="664.5" r="4.6" fill="#333333"/>
<circle cx="1352.8" cy="676.1" r="4.6" fill="#333333"/>
<circle cx="1347.7" cy="688.3" r="4.6" fill="#333333"/>
<circle cx="1352.8" cy="699.9" r="4.6" fill="#333333"/>
<circle cx="1350.3" cy="711.5" r="4.6" fill="#333333"/>
<circle cx="1358.0" cy="723.8" r="4.6" fill="#333333"/>
<circle cx="1362.5" cy="735.4" r="4.6" fill="#333333"/>
<circle cx="1362.5" cy="747.6" r="4.6" fill="#333333"/>
<circle cx="1346.4" cy="759.3" r="4.6" fill="#333333"/>
<circle cx="1339.3" cy="783.1" r="4.6" fill="#333333"/>
<circle cx="1332.2" cy="795.4" r="4.6" fill="#333333"/>
<polyline points="1449.0,210.5 1425.7,217.7 1408.0,226.6 1388.7,227.4 1389.5,240.2 1365.3,245.1 1357.3,247.5 1343.6,257.9 1357.3,277.3 1358.9,284.5 1351.7,290.9 1349.2,299.8 1347.6,307.0 1334.8,318.3 1339.6,330.4 1342.5,353.8 1345.2,365.6 1338.0,376.5 1347.7,390.0 1335.4,401.6 1335.4,413.8 1334.8,425.4 1350.3,437.1 1330.3,449.9 1335.4,461.6 1330.3,473.2 1327.1,484.8 1332.9,497.0 1333.5,509.3 1345.1,520.9 1336.1,533.1 1340.6,545.4 1343.2,556.3 1343.8,568.6 1343.2,580.8 1338.0,591.8 1346.4,604.0 1355.4,628.4 1339.3,640.0 1351.6,652.2 1343.8,664.5 1340.6,676.1 1343.8,688.3 1336.7,699.9 1343.2,711.5 1349.6,723.8 1342.5,735.4 1348.3,747.0 1333.5,759.3 1332.9,771.5 1323.8,795.4" fill="none" stroke="#0505e8" stroke-width="2.6" stroke-linejoin="round"/>
<circle cx="1449.0" cy="210.5" r="4.6" fill="#0505e8"/>
<circle cx="1425.7" cy="217.7" r="4.6" fill="#0505e8"/>
<circle cx="1408.0" cy="226.6" r="4.6" fill="#0505e8"/>
<circle cx="1388.7" cy="227.4" r="4.6" fill="#0505e8"/>
<circle cx="1389.5" cy="240.2" r="4.6" fill="#0505e8"/>
<circle cx="1365.3" cy="245.1" r="4.6" fill="#0505e8"/>
<circle cx="1357.3" cy="247.5" r="4.6" fill="#0505e8"/>
<circle cx="1343.6" cy="257.9" r="4.6" fill="#0505e8"/>
<circle cx="1357.3" cy="277.3" r="4.6" fill="#0505e8"/>
<circle cx="1358.9" cy="284.5" r="4.6" fill="#0505e8"/>
<circle cx="1351.7" cy="290.9" r="4.6" fill="#0505e8"/>
<circle cx="1349.2" cy="299.8" r="4.6" fill="#0505e8"/>
<circle cx="1347.6" cy="307.0" r="4.6" fill="#0505e8"/>
<circle cx="1334.8" cy="318.3" r="4.6" fill="#0505e8"/>
<circle cx="1339.6" cy="330.4" r="4.6" fill="#0505e8"/>
<circle cx="1342.5" cy="353.8" r="4.6" fill="#0505e8"/>
<circle cx="1345.2" cy="365.6" r="4.6" fill="#0505e8"/>
<circle cx="1338.0" cy="376.5" r="4.6" fill="#0505e8"/>
<circle cx="1347.7" cy="390.0" r="4.6" fill="#0505e8"/>
<circle cx="1335.4" cy="401.6" r="4.6" fill="#0505e8"/>
<circle cx="1335.4" cy="413.8" r="4.6" fill="#0505e8"/>
<circle cx="1334.8" cy="425.4" r="4.6" fill="#0505e8"/>
<circle cx="1350.3" cy="437.1" r="4.6" fill="#0505e8"/>
<circle cx="1330.3" cy="449.9" r="4.6" fill="#0505e8"/>
<circle cx="1335.4" cy="461.6" r="4.6" fill="#0505e8"/>
<circle cx="1330.3" cy="473.2" r="4.6" fill="#0505e8"/>
<circle cx="1327.1" cy="484.8" r="4.6" fill="#0505e8"/>
<circle cx="1332.9" cy="497.0" r="4.6" fill="#0505e8"/>
<circle cx="1333.5" cy="509.3" r="4.6" fill="#0505e8"/>
<circle cx="1345.1" cy="520.9" r="4.6" fill="#0505e8"/>
<circle cx="1336.1" cy="533.1" r="4.6" fill="#0505e8"/>
<circle cx="1340.6" cy="545.4" r="4.6" fill="#0505e8"/>
<circle cx="1343.2" cy="556.3" r="4.6" fill="#0505e8"/>
<circle cx="1343.8" cy="568.6" r="4.6" fill="#0505e8"/>
<circle cx="1343.2" cy="580.8" r="4.6" fill="#0505e8"/>
<circle cx="1338.0" cy="591.8" r="4.6" fill="#0505e8"/>
<circle cx="1346.4" cy="604.0" r="4.6" fill="#0505e8"/>
<circle cx="1355.4" cy="628.4" r="4.6" fill="#0505e8"/>
<circle cx="1339.3" cy="640.0" r="4.6" fill="#0505e8"/>
<circle cx="1351.6" cy="652.2" r="4.6" fill="#0505e8"/>
<circle cx="1343.8" cy="664.5" r="4.6" fill="#0505e8"/>
<circle cx="1340.6" cy="676.1" r="4.6" fill="#0505e8"/>
<circle cx="1343.8" cy="688.3" r="4.6" fill="#0505e8"/>
<circle cx="1336.7" cy="699.9" r="4.6" fill="#0505e8"/>
<circle cx="1343.2" cy="711.5" r="4.6" fill="#0505e8"/>
<circle cx="1349.6" cy="723.8" r="4.6" fill="#0505e8"/>
<circle cx="1342.5" cy="735.4" r="4.6" fill="#0505e8"/>
<circle cx="1348.3" cy="747.0" r="4.6" fill="#0505e8"/>
<circle cx="1333.5" cy="759.3" r="4.6" fill="#0505e8"/>
<circle cx="1332.9" cy="771.5" r="4.6" fill="#0505e8"/>
<circle cx="1323.8" cy="795.4" r="4.6" fill="#0505e8"/>
<polyline points="1606.0,209.9 1615.9,214.4 1531.7,218.0 1500.0,218.0 1456.6,220.7 1428.1,224.1 1412.8,228.2 1379.8,235.4 1344.4,239.4 1341.2,246.7 1347.6,253.1 1334.8,261.2 1342.8,268.4 1337.2,272.4 1347.6,278.9 1345.2,284.5 1329.9,290.5 1343.6,299.0 1331.5,307.0 1324.3,318.3 1329.1,330.4 1324.4,353.8 1326.2,365.6 1324.4,376.5 1328.3,390.0 1323.8,401.6 1327.7,413.8 1325.8,425.4 1317.4,437.1 1322.5,449.3 1328.3,461.6 1321.9,473.2 1340.6,484.8 1324.5,497.0 1318.7,509.3 1324.5,520.9 1323.2,533.1 1323.2,545.4 1330.3,556.3 1327.7,568.6 1322.5,580.8 1321.9,591.8 1322.5,604.0 1331.6,628.4 1319.3,640.0 1323.2,652.2 1326.4,664.5 1326.4,676.1 1324.5,688.3 1326.4,699.9 1323.2,711.5 1323.8,723.8 1326.4,735.4 1326.4,747.0 1324.5,759.3 1323.2,771.5 1314.8,795.4" fill="none" stroke="#f20808" stroke-width="2.6" stroke-linejoin="round"/>
<circle cx="1606.0" cy="209.9" r="4.6" fill="#f20808"/>
<circle cx="1615.9" cy="214.4" r="4.6" fill="#f20808"/>
<circle cx="1531.7" cy="218.0" r="4.6" fill="#f20808"/>
<circle cx="1500.0" cy="218.0" r="4.6" fill="#f20808"/>
<circle cx="1456.6" cy="220.7" r="4.6" fill="#f20808"/>
<circle cx="1428.1" cy="224.1" r="4.6" fill="#f20808"/>
<circle cx="1412.8" cy="228.2" r="4.6" fill="#f20808"/>
<circle cx="1379.8" cy="235.4" r="4.6" fill="#f20808"/>
<circle cx="1344.4" cy="239.4" r="4.6" fill="#f20808"/>
<circle cx="1341.2" cy="246.7" r="4.6" fill="#f20808"/>
<circle cx="1347.6" cy="253.1" r="4.6" fill="#f20808"/>
<circle cx="1334.8" cy="261.2" r="4.6" fill="#f20808"/>
<circle cx="1342.8" cy="268.4" r="4.6" fill="#f20808"/>
<circle cx="1337.2" cy="272.4" r="4.6" fill="#f20808"/>
<circle cx="1347.6" cy="278.9" r="4.6" fill="#f20808"/>
<circle cx="1345.2" cy="284.5" r="4.6" fill="#f20808"/>
<circle cx="1329.9" cy="290.5" r="4.6" fill="#f20808"/>
<circle cx="1343.6" cy="299.0" r="4.6" fill="#f20808"/>
<circle cx="1331.5" cy="307.0" r="4.6" fill="#f20808"/>
<circle cx="1324.3" cy="318.3" r="4.6" fill="#f20808"/>
<circle cx="1329.1" cy="330.4" r="4.6" fill="#f20808"/>
<circle cx="1324.4" cy="353.8" r="4.6" fill="#f20808"/>
<circle cx="1326.2" cy="365.6" r="4.6" fill="#f20808"/>
<circle cx="1324.4" cy="376.5" r="4.6" fill="#f20808"/>
<circle cx="1328.3" cy="390.0" r="4.6" fill="#f20808"/>
<circle cx="1323.8" cy="401.6" r="4.6" fill="#f20808"/>
<circle cx="1327.7" cy="413.8" r="4.6" fill="#f20808"/>
<circle cx="1325.8" cy="425.4" r="4.6" fill="#f20808"/>
<circle cx="1317.4" cy="437.1" r="4.6" fill="#f20808"/>
<circle cx="1322.5" cy="449.3" r="4.6" fill="#f20808"/>
<circle cx="1328.3" cy="461.6" r="4.6" fill="#f20808"/>
<circle cx="1321.9" cy="473.2" r="4.6" fill="#f20808"/>
<circle cx="1340.6" cy="484.8" r="4.6" fill="#f20808"/>
<circle cx="1324.5" cy="497.0" r="4.6" fill="#f20808"/>
<circle cx="1318.7" cy="509.3" r="4.6" fill="#f20808"/>
<circle cx="1324.5" cy="520.9" r="4.6" fill="#f20808"/>
<circle cx="1323.2" cy="533.1" r="4.6" fill="#f20808"/>
<circle cx="1323.2" cy="545.4" r="4.6" fill="#f20808"/>
<circle cx="1330.3" cy="556.3" r="4.6" fill="#f20808"/>
<circle cx="1327.7" cy="568.6" r="4.6" fill="#f20808"/>
<circle cx="1322.5" cy="580.8" r="4.6" fill="#f20808"/>
<circle cx="1321.9" cy="591.8" r="4.6" fill="#f20808"/>
<circle cx="1322.5" cy="604.0" r="4.6" fill="#f20808"/>
<circle cx="1331.6" cy="628.4" r="4.6" fill="#f20808"/>
<circle cx="1319.3" cy="640.0" r="4.6" fill="#f20808"/>
<circle cx="1323.2" cy="652.2" r="4.6" fill="#f20808"/>
<circle cx="1326.4" cy="664.5" r="4.6" fill="#f20808"/>
<circle cx="1326.4" cy="676.1" r="4.6" fill="#f20808"/>
<circle cx="1324.5" cy="688.3" r="4.6" fill="#f20808"/>
<circle cx="1326.4" cy="699.9" r="4.6" fill="#f20808"/>
<circle cx="1323.2" cy="711.5" r="4.6" fill="#f20808"/>
<circle cx="1323.8" cy="723.8" r="4.6" fill="#f20808"/>
<circle cx="1326.4" cy="735.4" r="4.6" fill="#f20808"/>
<circle cx="1326.4" cy="747.0" r="4.6" fill="#f20808"/>
<circle cx="1324.5" cy="759.3" r="4.6" fill="#f20808"/>
<circle cx="1323.2" cy="771.5" r="4.6" fill="#f20808"/>
<circle cx="1314.8" cy="795.4" r="4.6" fill="#f20808"/>
<polyline points="2010.5,205.4 1907.2,209.9 1897.3,213.5 1872.8,216.2 1885.5,221.6 1872.8,222.6 1856.5,230.7 1798.6,236.1 1845.7,238.9 1872.8,244.3 1897.3,244.3 1836.6,247.9 1831.2,250.6 1796.8,256.1 1822.1,261.5 1840.2,266.0 1806.7,270.5 1793.2,276.9 1796.8,283.2 1794.1,291.4 1784.1,298.6 1743.4,308.6 1744.3,320.3 1747.0,332.1 1745.2,343.0 1737.0,354.7 1737.9,365.6 1731.2,388.7 1724.1,399.7 1726.1,410.6 1720.9,421.6 1720.3,434.5 1720.3,445.4 1717.1,455.8 1715.8,468.6 1717.1,483.5 1718.3,501.5 1722.2,511.8 1718.3,524.7 1724.8,535.1 1725.4,546.7 1726.1,557.6 1728.0,569.2 1729.3,580.8 1728.7,591.8 1722.9,602.1 1724.8,614.8 1728.7,625.8 1728.0,637.4 1728.7,648.4 1726.7,659.3 1729.3,670.9 1727.4,682.5 1730.6,693.5 1734.5,704.4 1735.1,716.7 1724.1,728.3 1718.3,739.3 1719.6,750.2 1714.5,761.2" fill="none" stroke="#000000" stroke-width="2.6" stroke-linejoin="round"/>
<circle cx="2010.5" cy="205.4" r="4.6" fill="#000000"/>
<circle cx="1907.2" cy="209.9" r="4.6" fill="#000000"/>
<circle cx="1897.3" cy="213.5" r="4.6" fill="#000000"/>
<circle cx="1872.8" cy="216.2" r="4.6" fill="#000000"/>
<circle cx="1885.5" cy="221.6" r="4.6" fill="#000000"/>
<circle cx="1872.8" cy="222.6" r="4.6" fill="#000000"/>
<circle cx="1856.5" cy="230.7" r="4.6" fill="#000000"/>
<circle cx="1798.6" cy="236.1" r="4.6" fill="#000000"/>
<circle cx="1845.7" cy="238.9" r="4.6" fill="#000000"/>
<circle cx="1872.8" cy="244.3" r="4.6" fill="#000000"/>
<circle cx="1897.3" cy="244.3" r="4.6" fill="#000000"/>
<circle cx="1836.6" cy="247.9" r="4.6" fill="#000000"/>
<circle cx="1831.2" cy="250.6" r="4.6" fill="#000000"/>
<circle cx="1796.8" cy="256.1" r="4.6" fill="#000000"/>
<circle cx="1822.1" cy="261.5" r="4.6" fill="#000000"/>
<circle cx="1840.2" cy="266.0" r="4.6" fill="#000000"/>
<circle cx="1806.7" cy="270.5" r="4.6" fill="#000000"/>
<circle cx="1793.2" cy="276.9" r="4.6" fill="#000000"/>
<circle cx="1796.8" cy="283.2" r="4.6" fill="#000000"/>
<circle cx="1794.1" cy="291.4" r="4.6" fill="#000000"/>
<circle cx="1784.1" cy="298.6" r="4.6" fill="#000000"/>
<circle cx="1743.4" cy="308.6" r="4.6" fill="#000000"/>
<circle cx="1744.3" cy="320.3" r="4.6" fill="#000000"/>
<circle cx="1747.0" cy="332.1" r="4.6" fill="#000000"/>
<circle cx="1745.2" cy="343.0" r="4.6" fill="#000000"/>
<circle cx="1737.0" cy="354.7" r="4.6" fill="#000000"/>
<circle cx="1737.9" cy="365.6" r="4.6" fill="#000000"/>
<circle cx="1731.2" cy="388.7" r="4.6" fill="#000000"/>
<circle cx="1724.1" cy="399.7" r="4.6" fill="#000000"/>
<circle cx="1726.1" cy="410.6" r="4.6" fill="#000000"/>
<circle cx="1720.9" cy="421.6" r="4.6" fill="#000000"/>
<circle cx="1720.3" cy="434.5" r="4.6" fill="#000000"/>
<circle cx="1720.3" cy="445.4" r="4.6" fill="#000000"/>
<circle cx="1717.1" cy="455.8" r="4.6" fill="#000000"/>
<circle cx="1715.8" cy="468.6" r="4.6" fill="#000000"/>
<circle cx="1717.1" cy="483.5" r="4.6" fill="#000000"/>
<circle cx="1718.3" cy="501.5" r="4.6" fill="#000000"/>
<circle cx="1722.2" cy="511.8" r="4.6" fill="#000000"/>
<circle cx="1718.3" cy="524.7" r="4.6" fill="#000000"/>
<circle cx="1724.8" cy="535.1" r="4.6" fill="#000000"/>
<circle cx="1725.4" cy="546.7" r="4.6" fill="#000000"/>
<circle cx="1726.1" cy="557.6" r="4.6" fill="#000000"/>
<circle cx="1728.0" cy="569.2" r="4.6" fill="#000000"/>
<circle cx="1729.3" cy="580.8" r="4.6" fill="#000000"/>
<circle cx="1728.7" cy="591.8" r="4.6" fill="#000000"/>
<circle cx="1722.9" cy="602.1" r="4.6" fill="#000000"/>
<circle cx="1724.8" cy="614.8" r="4.6" fill="#000000"/>
<circle cx="1728.7" cy="625.8" r="4.6" fill="#000000"/>
<circle cx="1728.0" cy="637.4" r="4.6" fill="#000000"/>
<circle cx="1728.7" cy="648.4" r="4.6" fill="#000000"/>
<circle cx="1726.7" cy="659.3" r="4.6" fill="#000000"/>
<circle cx="1729.3" cy="670.9" r="4.6" fill="#000000"/>
<circle cx="1727.4" cy="682.5" r="4.6" fill="#000000"/>
<circle cx="1730.6" cy="693.5" r="4.6" fill="#000000"/>
<circle cx="1734.5" cy="704.4" r="4.6" fill="#000000"/>
<circle cx="1735.1" cy="716.7" r="4.6" fill="#000000"/>
<circle cx="1724.1" cy="728.3" r="4.6" fill="#000000"/>
<circle cx="1718.3" cy="739.3" r="4.6" fill="#000000"/>
<circle cx="1719.6" cy="750.2" r="4.6" fill="#000000"/>
<circle cx="1714.5" cy="761.2" r="4.6" fill="#000000"/>
<polyline points="1824.9,206.3 1803.1,214.4 1799.5,218.0 1769.6,222.6 1770.5,230.7 1778.7,243.4 1765.1,242.5 1747.0,250.6 1736.1,256.1 1753.3,261.5 1760.6,265.1 1749.7,281.4 1737.0,291.4 1720.7,308.6 1724.4,320.3 1727.1,343.0 1728.9,354.7 1724.4,365.6 1728.0,376.5 1718.3,408.7 1729.3,422.2 1715.8,433.2 1718.3,444.8 1713.8,455.8 1711.9,466.1 1715.8,478.3 1717.1,489.3 1724.8,500.9 1719.0,511.8 1721.6,523.4 1722.9,535.1 1722.9,546.7 1723.5,557.6 1720.3,569.2 1724.1,580.8 1730.6,602.1 1720.3,614.8 1728.7,625.8 1724.1,637.4 1719.6,648.4 1722.9,659.3 1718.3,670.9 1721.6,682.5 1728.0,693.5 1721.6,704.4 1726.1,716.7 1717.7,727.7 1715.8,741.2 1707.4,761.8" fill="none" stroke="#0505e8" stroke-width="2.6" stroke-linejoin="round"/>
<circle cx="1824.9" cy="206.3" r="4.6" fill="#0505e8"/>
<circle cx="1803.1" cy="214.4" r="4.6" fill="#0505e8"/>
<circle cx="1799.5" cy="218.0" r="4.6" fill="#0505e8"/>
<circle cx="1769.6" cy="222.6" r="4.6" fill="#0505e8"/>
<circle cx="1770.5" cy="230.7" r="4.6" fill="#0505e8"/>
<circle cx="1778.7" cy="243.4" r="4.6" fill="#0505e8"/>
<circle cx="1765.1" cy="242.5" r="4.6" fill="#0505e8"/>
<circle cx="1747.0" cy="250.6" r="4.6" fill="#0505e8"/>
<circle cx="1736.1" cy="256.1" r="4.6" fill="#0505e8"/>
<circle cx="1753.3" cy="261.5" r="4.6" fill="#0505e8"/>
<circle cx="1760.6" cy="265.1" r="4.6" fill="#0505e8"/>
<circle cx="1749.7" cy="281.4" r="4.6" fill="#0505e8"/>
<circle cx="1737.0" cy="291.4" r="4.6" fill="#0505e8"/>
<circle cx="1720.7" cy="308.6" r="4.6" fill="#0505e8"/>
<circle cx="1724.4" cy="320.3" r="4.6" fill="#0505e8"/>
<circle cx="1727.1" cy="343.0" r="4.6" fill="#0505e8"/>
<circle cx="1728.9" cy="354.7" r="4.6" fill="#0505e8"/>
<circle cx="1724.4" cy="365.6" r="4.6" fill="#0505e8"/>
<circle cx="1728.0" cy="376.5" r="4.6" fill="#0505e8"/>
<circle cx="1718.3" cy="408.7" r="4.6" fill="#0505e8"/>
<circle cx="1729.3" cy="422.2" r="4.6" fill="#0505e8"/>
<circle cx="1715.8" cy="433.2" r="4.6" fill="#0505e8"/>
<circle cx="1718.3" cy="444.8" r="4.6" fill="#0505e8"/>
<circle cx="1713.8" cy="455.8" r="4.6" fill="#0505e8"/>
<circle cx="1711.9" cy="466.1" r="4.6" fill="#0505e8"/>
<circle cx="1715.8" cy="478.3" r="4.6" fill="#0505e8"/>
<circle cx="1717.1" cy="489.3" r="4.6" fill="#0505e8"/>
<circle cx="1724.8" cy="500.9" r="4.6" fill="#0505e8"/>
<circle cx="1719.0" cy="511.8" r="4.6" fill="#0505e8"/>
<circle cx="1721.6" cy="523.4" r="4.6" fill="#0505e8"/>
<circle cx="1722.9" cy="535.1" r="4.6" fill="#0505e8"/>
<circle cx="1722.9" cy="546.7" r="4.6" fill="#0505e8"/>
<circle cx="1723.5" cy="557.6" r="4.6" fill="#0505e8"/>
<circle cx="1720.3" cy="569.2" r="4.6" fill="#0505e8"/>
<circle cx="1724.1" cy="580.8" r="4.6" fill="#0505e8"/>
<circle cx="1730.6" cy="602.1" r="4.6" fill="#0505e8"/>
<circle cx="1720.3" cy="614.8" r="4.6" fill="#0505e8"/>
<circle cx="1728.7" cy="625.8" r="4.6" fill="#0505e8"/>
<circle cx="1724.1" cy="637.4" r="4.6" fill="#0505e8"/>
<circle cx="1719.6" cy="648.4" r="4.6" fill="#0505e8"/>
<circle cx="1722.9" cy="659.3" r="4.6" fill="#0505e8"/>
<circle cx="1718.3" cy="670.9" r="4.6" fill="#0505e8"/>
<circle cx="1721.6" cy="682.5" r="4.6" fill="#0505e8"/>
<circle cx="1728.0" cy="693.5" r="4.6" fill="#0505e8"/>
<circle cx="1721.6" cy="704.4" r="4.6" fill="#0505e8"/>
<circle cx="1726.1" cy="716.7" r="4.6" fill="#0505e8"/>
<circle cx="1717.7" cy="727.7" r="4.6" fill="#0505e8"/>
<circle cx="1715.8" cy="741.2" r="4.6" fill="#0505e8"/>
<circle cx="1707.4" cy="761.8" r="4.6" fill="#0505e8"/>
<polyline points="2017.7,210.8 2027.7,214.4 1903.6,218.0 1856.5,220.7 1823.9,223.5 1809.5,228.0 1775.1,234.3 1737.9,239.8 1751.5,242.5 1766.0,248.8 1775.1,253.3 1751.5,256.1 1738.8,261.5 1760.6,266.0 1754.2,276.9 1744.3,284.1 1728.0,290.5 1739.7,298.6 1728.9,306.8 1714.4,318.5 1719.8,330.3 1714.4,353.8 1717.1,365.6 1714.4,376.5 1716.4,389.3 1712.5,400.9 1715.1,412.6 1714.5,424.2 1706.7,437.1 1711.3,448.7 1715.8,460.9 1711.9,473.2 1726.7,484.8 1713.2,497.0 1708.7,509.3 1713.2,520.2 1711.3,532.5 1710.6,544.7 1715.8,556.3 1713.8,568.6 1710.0,580.8 1709.3,591.8 1710.0,604.0 1717.1,628.4 1708.7,640.6 1711.3,652.2 1713.2,663.8 1713.2,676.1 1711.3,688.3 1712.5,699.9 1711.3,711.5 1710.6,723.8 1712.5,735.4 1713.2,747.0 1711.3,759.3 1710.6,771.5 1704.2,795.4" fill="none" stroke="#f20808" stroke-width="2.6" stroke-linejoin="round"/>
<circle cx="2017.7" cy="210.8" r="4.6" fill="#f20808"/>
<circle cx="2027.7" cy="214.4" r="4.6" fill="#f20808"/>
<circle cx="1903.6" cy="218.0" r="4.6" fill="#f20808"/>
<circle cx="1856.5" cy="220.7" r="4.6" fill="#f20808"/>
<circle cx="1823.9" cy="223.5" r="4.6" fill="#f20808"/>
<circle cx="1809.5" cy="228.0" r="4.6" fill="#f20808"/>
<circle cx="1775.1" cy="234.3" r="4.6" fill="#f20808"/>
<circle cx="1737.9" cy="239.8" r="4.6" fill="#f20808"/>
<circle cx="1751.5" cy="242.5" r="4.6" fill="#f20808"/>
<circle cx="1766.0" cy="248.8" r="4.6" fill="#f20808"/>
<circle cx="1775.1" cy="253.3" r="4.6" fill="#f20808"/>
<circle cx="1751.5" cy="256.1" r="4.6" fill="#f20808"/>
<circle cx="1738.8" cy="261.5" r="4.6" fill="#f20808"/>
<circle cx="1760.6" cy="266.0" r="4.6" fill="#f20808"/>
<circle cx="1754.2" cy="276.9" r="4.6" fill="#f20808"/>
<circle cx="1744.3" cy="284.1" r="4.6" fill="#f20808"/>
<circle cx="1728.0" cy="290.5" r="4.6" fill="#f20808"/>
<circle cx="1739.7" cy="298.6" r="4.6" fill="#f20808"/>
<circle cx="1728.9" cy="306.8" r="4.6" fill="#f20808"/>
<circle cx="1714.4" cy="318.5" r="4.6" fill="#f20808"/>
<circle cx="1719.8" cy="330.3" r="4.6" fill="#f20808"/>
<circle cx="1714.4" cy="353.8" r="4.6" fill="#f20808"/>
<circle cx="1717.1" cy="365.6" r="4.6" fill="#f20808"/>
<circle cx="1714.4" cy="376.5" r="4.6" fill="#f20808"/>
<circle cx="1716.4" cy="389.3" r="4.6" fill="#f20808"/>
<circle cx="1712.5" cy="400.9" r="4.6" fill="#f20808"/>
<circle cx="1715.1" cy="412.6" r="4.6" fill="#f20808"/>
<circle cx="1714.5" cy="424.2" r="4.6" fill="#f20808"/>
<circle cx="1706.7" cy="437.1" r="4.6" fill="#f20808"/>
<circle cx="1711.3" cy="448.7" r="4.6" fill="#f20808"/>
<circle cx="1715.8" cy="460.9" r="4.6" fill="#f20808"/>
<circle cx="1711.9" cy="473.2" r="4.6" fill="#f20808"/>
<circle cx="1726.7" cy="484.8" r="4.6" fill="#f20808"/>
<circle cx="1713.2" cy="497.0" r="4.6" fill="#f20808"/>
<circle cx="1708.7" cy="509.3" r="4.6" fill="#f20808"/>
<circle cx="1713.2" cy="520.2" r="4.6" fill="#f20808"/>
<circle cx="1711.3" cy="532.5" r="4.6" fill="#f20808"/>
<circle cx="1710.6" cy="544.7" r="4.6" fill="#f20808"/>
<circle cx="1715.8" cy="556.3" r="4.6" fill="#f20808"/>
<circle cx="1713.8" cy="568.6" r="4.6" fill="#f20808"/>
<circle cx="1710.0" cy="580.8" r="4.6" fill="#f20808"/>
<circle cx="1709.3" cy="591.8" r="4.6" fill="#f20808"/>
<circle cx="1710.0" cy="604.0" r="4.6" fill="#f20808"/>
<circle cx="1717.1" cy="628.4" r="4.6" fill="#f20808"/>
<circle cx="1708.7" cy="640.6" r="4.6" fill="#f20808"/>
<circle cx="1711.3" cy="652.2" r="4.6" fill="#f20808"/>
<circle cx="1713.2" cy="663.8" r="4.6" fill="#f20808"/>
<circle cx="1713.2" cy="676.1" r="4.6" fill="#f20808"/>
<circle cx="1711.3" cy="688.3" r="4.6" fill="#f20808"/>
<circle cx="1712.5" cy="699.9" r="4.6" fill="#f20808"/>
<circle cx="1711.3" cy="711.5" r="4.6" fill="#f20808"/>
<circle cx="1710.6" cy="723.8" r="4.6" fill="#f20808"/>
<circle cx="1712.5" cy="735.4" r="4.6" fill="#f20808"/>
<circle cx="1713.2" cy="747.0" r="4.6" fill="#f20808"/>
<circle cx="1711.3" cy="759.3" r="4.6" fill="#f20808"/>
<circle cx="1710.6" cy="771.5" r="4.6" fill="#f20808"/>
<circle cx="1704.2" cy="795.4" r="4.6" fill="#f20808"/>
<polyline points="396.0,1164.5 472.7,1168.9 430.0,1172.0 410.0,1170.5 452.0,1171.0 365.8,1174.5 372.0,1180.0 380.0,1184.0 400.0,1185.5 415.0,1185.0 475.2,1190.2 430.0,1192.0 367.0,1195.3 335.6,1201.6 339.7,1206.9 349.7,1213.2 347.0,1221.4 348.8,1232.2 323.4,1241.3 277.2,1253.1 257.3,1265.7 271.8,1270.3 239.2,1282.9 222.0,1299.2 226.5,1315.5 232.0,1329.1 232.4,1332.3 254.3,1348.4 236.9,1364.5 246.6,1380.6 266.5,1396.7 309.1,1412.8 307.8,1429.6 274.3,1445.1 300.1,1461.2 256.2,1477.3 296.2,1493.4 277.5,1509.6 241.4,1525.7 244.0,1541.8 236.9,1557.3 232.9,1574.8 218.8,1591.6 228.2,1607.8 224.8,1623.2 261.1,1640.0 226.9,1656.1 241.6,1671.6 264.5,1687.7 270.5,1704.5 247.7,1720.6 291.3,1736.7 270.5,1752.8 285.3,1768.9 324.9,1785.1" fill="none" stroke="#000000" stroke-width="2.6" stroke-linejoin="round"/>
<circle cx="396.0" cy="1164.5" r="4.0" fill="#000000"/>
<circle cx="472.7" cy="1168.9" r="4.0" fill="#000000"/>
<circle cx="430.0" cy="1172.0" r="4.0" fill="#000000"/>
<circle cx="410.0" cy="1170.5" r="4.0" fill="#000000"/>
<circle cx="452.0" cy="1171.0" r="4.0" fill="#000000"/>
<circle cx="365.8" cy="1174.5" r="4.0" fill="#000000"/>
<circle cx="372.0" cy="1180.0" r="4.0" fill="#000000"/>
<circle cx="380.0" cy="1184.0" r="4.0" fill="#000000"/>
<circle cx="400.0" cy="1185.5" r="4.0" fill="#000000"/>
<circle cx="415.0" cy="1185.0" r="4.0" fill="#000000"/>
<circle cx="475.2" cy="1190.2" r="4.0" fill="#000000"/>
<circle cx="430.0" cy="1192.0" r="4.0" fill="#000000"/>
<circle cx="367.0" cy="1195.3" r="4.0" fill="#000000"/>
<circle cx="335.6" cy="1201.6" r="4.0" fill="#000000"/>
<circle cx="339.7" cy="1206.9" r="4.0" fill="#000000"/>
<circle cx="349.7" cy="1213.2" r="4.0" fill="#000000"/>
<circle cx="347.0" cy="1221.4" r="4.0" fill="#000000"/>
<circle cx="348.8" cy="1232.2" r="4.0" fill="#000000"/>
<circle cx="323.4" cy="1241.3" r="4.0" fill="#000000"/>
<circle cx="277.2" cy="1253.1" r="4.0" fill="#000000"/>
<circle cx="257.3" cy="1265.7" r="4.0" fill="#000000"/>
<circle cx="271.8" cy="1270.3" r="4.0" fill="#000000"/>
<circle cx="239.2" cy="1282.9" r="4.0" fill="#000000"/>
<circle cx="222.0" cy="1299.2" r="4.0" fill="#000000"/>
<circle cx="226.5" cy="1315.5" r="4.0" fill="#000000"/>
<circle cx="232.0" cy="1329.1" r="4.0" fill="#000000"/>
<circle cx="232.4" cy="1332.3" r="4.0" fill="#000000"/>
<circle cx="254.3" cy="1348.4" r="4.0" fill="#000000"/>
<circle cx="236.9" cy="1364.5" r="4.0" fill="#000000"/>
<circle cx="246.6" cy="1380.6" r="4.0" fill="#000000"/>
<circle cx="266.5" cy="1396.7" r="4.0" fill="#000000"/>
<circle cx="309.1" cy="1412.8" r="4.0" fill="#000000"/>
<circle cx="307.8" cy="1429.6" r="4.0" fill="#000000"/>
<circle cx="274.3" cy="1445.1" r="4.0" fill="#000000"/>
<circle cx="300.1" cy="1461.2" r="4.0" fill="#000000"/>
<circle cx="256.2" cy="1477.3" r="4.0" fill="#000000"/>
<circle cx="296.2" cy="1493.4" r="4.0" fill="#000000"/>
<circle cx="277.5" cy="1509.6" r="4.0" fill="#000000"/>
<circle cx="241.4" cy="1525.7" r="4.0" fill="#000000"/>
<circle cx="244.0" cy="1541.8" r="4.0" fill="#000000"/>
<circle cx="236.9" cy="1557.3" r="4.0" fill="#000000"/>
<circle cx="232.9" cy="1574.8" r="4.0" fill="#000000"/>
<circle cx="218.8" cy="1591.6" r="4.0" fill="#000000"/>
<circle cx="228.2" cy="1607.8" r="4.0" fill="#000000"/>
<circle cx="224.8" cy="1623.2" r="4.0" fill="#000000"/>
<circle cx="261.1" cy="1640.0" r="4.0" fill="#000000"/>
<circle cx="226.9" cy="1656.1" r="4.0" fill="#000000"/>
<circle cx="241.6" cy="1671.6" r="4.0" fill="#000000"/>
<circle cx="264.5" cy="1687.7" r="4.0" fill="#000000"/>
<circle cx="270.5" cy="1704.5" r="4.0" fill="#000000"/>
<circle cx="247.7" cy="1720.6" r="4.0" fill="#000000"/>
<circle cx="291.3" cy="1736.7" r="4.0" fill="#000000"/>
<circle cx="270.5" cy="1752.8" r="4.0" fill="#000000"/>
<circle cx="285.3" cy="1768.9" r="4.0" fill="#000000"/>
<circle cx="324.9" cy="1785.1" r="4.0" fill="#000000"/>
<polyline points="302.6,1163.4 274.5,1170.7 247.4,1172.5 260.0,1175.2 272.7,1182.4 314.4,1184.2 312.5,1189.7 236.5,1196.0 214.8,1200.5 212.9,1206.9 231.1,1214.1 227.4,1222.3 245.5,1232.2 228.3,1241.3 212.9,1253.1 212.9,1265.7 207.5,1271.2 207.5,1282.9 205.7,1299.2 202.1,1315.5 209.3,1329.1 217.5,1348.4 211.1,1364.5 225.9,1380.6 236.9,1396.7 244.0,1412.8 241.4,1429.0 223.3,1445.1 240.8,1461.2 223.3,1477.3 215.0,1493.4 223.3,1509.6 211.7,1525.7 211.7,1541.8 203.4,1557.3 202.7,1574.8 200.0,1591.0 198.7,1607.1 200.0,1623.2 217.5,1640.0 202.0,1656.1 206.0,1672.2 218.8,1688.3 216.8,1703.8 216.8,1719.9 243.0,1736.7 234.9,1752.8 241.6,1768.9 249.0,1785.1" fill="none" stroke="#0505e8" stroke-width="2.6" stroke-linejoin="round"/>
<circle cx="302.6" cy="1163.4" r="4.0" fill="#0505e8"/>
<circle cx="274.5" cy="1170.7" r="4.0" fill="#0505e8"/>
<circle cx="247.4" cy="1172.5" r="4.0" fill="#0505e8"/>
<circle cx="260.0" cy="1175.2" r="4.0" fill="#0505e8"/>
<circle cx="272.7" cy="1182.4" r="4.0" fill="#0505e8"/>
<circle cx="314.4" cy="1184.2" r="4.0" fill="#0505e8"/>
<circle cx="312.5" cy="1189.7" r="4.0" fill="#0505e8"/>
<circle cx="236.5" cy="1196.0" r="4.0" fill="#0505e8"/>
<circle cx="214.8" cy="1200.5" r="4.0" fill="#0505e8"/>
<circle cx="212.9" cy="1206.9" r="4.0" fill="#0505e8"/>
<circle cx="231.1" cy="1214.1" r="4.0" fill="#0505e8"/>
<circle cx="227.4" cy="1222.3" r="4.0" fill="#0505e8"/>
<circle cx="245.5" cy="1232.2" r="4.0" fill="#0505e8"/>
<circle cx="228.3" cy="1241.3" r="4.0" fill="#0505e8"/>
<circle cx="212.9" cy="1253.1" r="4.0" fill="#0505e8"/>
<circle cx="212.9" cy="1265.7" r="4.0" fill="#0505e8"/>
<circle cx="207.5" cy="1271.2" r="4.0" fill="#0505e8"/>
<circle cx="207.5" cy="1282.9" r="4.0" fill="#0505e8"/>
<circle cx="205.7" cy="1299.2" r="4.0" fill="#0505e8"/>
<circle cx="202.1" cy="1315.5" r="4.0" fill="#0505e8"/>
<circle cx="209.3" cy="1329.1" r="4.0" fill="#0505e8"/>
<circle cx="217.5" cy="1348.4" r="4.0" fill="#0505e8"/>
<circle cx="211.1" cy="1364.5" r="4.0" fill="#0505e8"/>
<circle cx="225.9" cy="1380.6" r="4.0" fill="#0505e8"/>
<circle cx="236.9" cy="1396.7" r="4.0" fill="#0505e8"/>
<circle cx="244.0" cy="1412.8" r="4.0" fill="#0505e8"/>
<circle cx="241.4" cy="1429.0" r="4.0" fill="#0505e8"/>
<circle cx="223.3" cy="1445.1" r="4.0" fill="#0505e8"/>
<circle cx="240.8" cy="1461.2" r="4.0" fill="#0505e8"/>
<circle cx="223.3" cy="1477.3" r="4.0" fill="#0505e8"/>
<circle cx="215.0" cy="1493.4" r="4.0" fill="#0505e8"/>
<circle cx="223.3" cy="1509.6" r="4.0" fill="#0505e8"/>
<circle cx="211.7" cy="1525.7" r="4.0" fill="#0505e8"/>
<circle cx="211.7" cy="1541.8" r="4.0" fill="#0505e8"/>
<circle cx="203.4" cy="1557.3" r="4.0" fill="#0505e8"/>
<circle cx="202.7" cy="1574.8" r="4.0" fill="#0505e8"/>
<circle cx="200.0" cy="1591.0" r="4.0" fill="#0505e8"/>
<circle cx="198.7" cy="1607.1" r="4.0" fill="#0505e8"/>
<circle cx="200.0" cy="1623.2" r="4.0" fill="#0505e8"/>
<circle cx="217.5" cy="1640.0" r="4.0" fill="#0505e8"/>
<circle cx="202.0" cy="1656.1" r="4.0" fill="#0505e8"/>
<circle cx="206.0" cy="1672.2" r="4.0" fill="#0505e8"/>
<circle cx="218.8" cy="1688.3" r="4.0" fill="#0505e8"/>
<circle cx="216.8" cy="1703.8" r="4.0" fill="#0505e8"/>
<circle cx="216.8" cy="1719.9" r="4.0" fill="#0505e8"/>
<circle cx="243.0" cy="1736.7" r="4.0" fill="#0505e8"/>
<circle cx="234.9" cy="1752.8" r="4.0" fill="#0505e8"/>
<circle cx="241.6" cy="1768.9" r="4.0" fill="#0505e8"/>
<circle cx="249.0" cy="1785.1" r="4.0" fill="#0505e8"/>
<polyline points="249.0,1165.0 300.0,1165.5 331.0,1166.5 339.4,1172.6 290.0,1173.0 255.0,1173.5 300.0,1171.0 320.0,1174.0 270.0,1178.0 262.0,1180.0 249.0,1184.0 290.0,1186.0 320.5,1190.2 300.0,1191.0 310.0,1188.0 285.3,1195.3 276.5,1201.6 272.7,1202.4 281.8,1206.9 274.5,1214.1 275.4,1221.4 258.2,1231.3 249.2,1243.1 198.5,1265.7 218.4,1271.2 187.6,1283.8 171.3,1299.2 178.5,1315.5 177.6,1329.1 191.1,1347.7 180.8,1364.5 175.6,1380.6 184.0,1396.7 221.4,1412.8 221.4,1429.0 207.2,1445.1 213.0,1461.2 189.2,1477.3 237.5,1493.4 210.4,1509.6 185.3,1525.7 187.9,1541.8 189.2,1557.3 185.2,1574.8 174.5,1590.3 183.9,1607.1 179.8,1623.2 198.0,1639.3 179.8,1655.4 190.6,1671.6 202.7,1687.7 208.7,1703.1 184.6,1719.9 204.0,1736.0 192.6,1752.8 198.0,1768.9 230.9,1785.1" fill="none" stroke="#f20808" stroke-width="2.0" stroke-linejoin="round"/>
<circle cx="249.0" cy="1165.0" r="2.2" fill="#f20808"/>
<circle cx="300.0" cy="1165.5" r="2.2" fill="#f20808"/>
<circle cx="331.0" cy="1166.5" r="2.2" fill="#f20808"/>
<circle cx="339.4" cy="1172.6" r="2.2" fill="#f20808"/>
<circle cx="290.0" cy="1173.0" r="2.2" fill="#f20808"/>
<circle cx="255.0" cy="1173.5" r="2.2" fill="#f20808"/>
<circle cx="300.0" cy="1171.0" r="2.2" fill="#f20808"/>
<circle cx="320.0" cy="1174.0" r="2.2" fill="#f20808"/>
<circle cx="270.0" cy="1178.0" r="2.2" fill="#f20808"/>
<circle cx="262.0" cy="1180.0" r="2.2" fill="#f20808"/>
<circle cx="249.0" cy="1184.0" r="2.2" fill="#f20808"/>
<circle cx="290.0" cy="1186.0" r="2.2" fill="#f20808"/>
<circle cx="320.5" cy="1190.2" r="2.2" fill="#f20808"/>
<circle cx="300.0" cy="1191.0" r="2.2" fill="#f20808"/>
<circle cx="310.0" cy="1188.0" r="2.2" fill="#f20808"/>
<circle cx="285.3" cy="1195.3" r="2.2" fill="#f20808"/>
<circle cx="276.5" cy="1201.6" r="2.2" fill="#f20808"/>
<circle cx="272.7" cy="1202.4" r="2.2" fill="#f20808"/>
<circle cx="281.8" cy="1206.9" r="2.2" fill="#f20808"/>
<circle cx="274.5" cy="1214.1" r="2.2" fill="#f20808"/>
<circle cx="275.4" cy="1221.4" r="2.2" fill="#f20808"/>
<circle cx="258.2" cy="1231.3" r="2.2" fill="#f20808"/>
<circle cx="249.2" cy="1243.1" r="2.2" fill="#f20808"/>
<circle cx="198.5" cy="1265.7" r="2.2" fill="#f20808"/>
<circle cx="218.4" cy="1271.2" r="2.2" fill="#f20808"/>
<circle cx="187.6" cy="1283.8" r="2.2" fill="#f20808"/>
<circle cx="171.3" cy="1299.2" r="2.2" fill="#f20808"/>
<circle cx="178.5" cy="1315.5" r="2.2" fill="#f20808"/>
<circle cx="177.6" cy="1329.1" r="2.2" fill="#f20808"/>
<circle cx="191.1" cy="1347.7" r="2.2" fill="#f20808"/>
<circle cx="180.8" cy="1364.5" r="2.2" fill="#f20808"/>
<circle cx="175.6" cy="1380.6" r="2.2" fill="#f20808"/>
<circle cx="184.0" cy="1396.7" r="2.2" fill="#f20808"/>
<circle cx="221.4" cy="1412.8" r="2.2" fill="#f20808"/>
<circle cx="221.4" cy="1429.0" r="2.2" fill="#f20808"/>
<circle cx="207.2" cy="1445.1" r="2.2" fill="#f20808"/>
<circle cx="213.0" cy="1461.2" r="2.2" fill="#f20808"/>
<circle cx="189.2" cy="1477.3" r="2.2" fill="#f20808"/>
<circle cx="237.5" cy="1493.4" r="2.2" fill="#f20808"/>
<circle cx="210.4" cy="1509.6" r="2.2" fill="#f20808"/>
<circle cx="185.3" cy="1525.7" r="2.2" fill="#f20808"/>
<circle cx="187.9" cy="1541.8" r="2.2" fill="#f20808"/>
<circle cx="189.2" cy="1557.3" r="2.2" fill="#f20808"/>
<circle cx="185.2" cy="1574.8" r="2.2" fill="#f20808"/>
<circle cx="174.5" cy="1590.3" r="2.2" fill="#f20808"/>
<circle cx="183.9" cy="1607.1" r="2.2" fill="#f20808"/>
<circle cx="179.8" cy="1623.2" r="2.2" fill="#f20808"/>
<circle cx="198.0" cy="1639.3" r="2.2" fill="#f20808"/>
<circle cx="179.8" cy="1655.4" r="2.2" fill="#f20808"/>
<circle cx="190.6" cy="1671.6" r="2.2" fill="#f20808"/>
<circle cx="202.7" cy="1687.7" r="2.2" fill="#f20808"/>
<circle cx="208.7" cy="1703.1" r="2.2" fill="#f20808"/>
<circle cx="184.6" cy="1719.9" r="2.2" fill="#f20808"/>
<circle cx="204.0" cy="1736.0" r="2.2" fill="#f20808"/>
<circle cx="192.6" cy="1752.8" r="2.2" fill="#f20808"/>
<circle cx="198.0" cy="1768.9" r="2.2" fill="#f20808"/>
<circle cx="230.9" cy="1785.1" r="2.2" fill="#f20808"/>
<polyline points="804.9,1167.0 887.3,1170.7 840.0,1171.0 880.0,1174.3 820.0,1175.0 769.6,1177.0 767.7,1183.3 838.4,1187.0 805.8,1192.4 735.1,1197.8 700.7,1203.3 673.6,1208.7 681.7,1215.0 679.0,1224.1 708.0,1234.0 658.2,1243.1 652.7,1255.8 622.0,1268.5 619.2,1273.9 602.0,1285.7 595.7,1301.0 593.0,1317.3 592.1,1327.3 592.1,1334.2 605.0,1350.3 594.6,1367.1 600.4,1383.2 612.7,1399.3 638.5,1415.4 637.2,1432.2 617.2,1447.7 633.3,1464.4 606.3,1479.9 630.8,1496.7 619.1,1512.8 597.2,1528.9 599.2,1545.0 594.6,1558.6 592.0,1578.2 582.6,1593.7 588.7,1610.4 586.6,1625.9 609.5,1642.0 588.0,1658.8 597.4,1674.9 611.5,1691.0 614.8,1707.2 600.1,1723.3 628.3,1739.4 615.5,1756.2 623.6,1772.3 647.8,1788.4" fill="none" stroke="#000000" stroke-width="2.6" stroke-linejoin="round"/>
<circle cx="804.9" cy="1167.0" r="4.0" fill="#000000"/>
<circle cx="887.3" cy="1170.7" r="4.0" fill="#000000"/>
<circle cx="840.0" cy="1171.0" r="4.0" fill="#000000"/>
<circle cx="880.0" cy="1174.3" r="4.0" fill="#000000"/>
<circle cx="820.0" cy="1175.0" r="4.0" fill="#000000"/>
<circle cx="769.6" cy="1177.0" r="4.0" fill="#000000"/>
<circle cx="767.7" cy="1183.3" r="4.0" fill="#000000"/>
<circle cx="838.4" cy="1187.0" r="4.0" fill="#000000"/>
<circle cx="805.8" cy="1192.4" r="4.0" fill="#000000"/>
<circle cx="735.1" cy="1197.8" r="4.0" fill="#000000"/>
<circle cx="700.7" cy="1203.3" r="4.0" fill="#000000"/>
<circle cx="673.6" cy="1208.7" r="4.0" fill="#000000"/>
<circle cx="681.7" cy="1215.0" r="4.0" fill="#000000"/>
<circle cx="679.0" cy="1224.1" r="4.0" fill="#000000"/>
<circle cx="708.0" cy="1234.0" r="4.0" fill="#000000"/>
<circle cx="658.2" cy="1243.1" r="4.0" fill="#000000"/>
<circle cx="652.7" cy="1255.8" r="4.0" fill="#000000"/>
<circle cx="622.0" cy="1268.5" r="4.0" fill="#000000"/>
<circle cx="619.2" cy="1273.9" r="4.0" fill="#000000"/>
<circle cx="602.0" cy="1285.7" r="4.0" fill="#000000"/>
<circle cx="595.7" cy="1301.0" r="4.0" fill="#000000"/>
<circle cx="593.0" cy="1317.3" r="4.0" fill="#000000"/>
<circle cx="592.1" cy="1327.3" r="4.0" fill="#000000"/>
<circle cx="592.1" cy="1334.2" r="4.0" fill="#000000"/>
<circle cx="605.0" cy="1350.3" r="4.0" fill="#000000"/>
<circle cx="594.6" cy="1367.1" r="4.0" fill="#000000"/>
<circle cx="600.4" cy="1383.2" r="4.0" fill="#000000"/>
<circle cx="612.7" cy="1399.3" r="4.0" fill="#000000"/>
<circle cx="638.5" cy="1415.4" r="4.0" fill="#000000"/>
<circle cx="637.2" cy="1432.2" r="4.0" fill="#000000"/>
<circle cx="617.2" cy="1447.7" r="4.0" fill="#000000"/>
<circle cx="633.3" cy="1464.4" r="4.0" fill="#000000"/>
<circle cx="606.3" cy="1479.9" r="4.0" fill="#000000"/>
<circle cx="630.8" cy="1496.7" r="4.0" fill="#000000"/>
<circle cx="619.1" cy="1512.8" r="4.0" fill="#000000"/>
<circle cx="597.2" cy="1528.9" r="4.0" fill="#000000"/>
<circle cx="599.2" cy="1545.0" r="4.0" fill="#000000"/>
<circle cx="594.6" cy="1558.6" r="4.0" fill="#000000"/>
<circle cx="592.0" cy="1578.2" r="4.0" fill="#000000"/>
<circle cx="582.6" cy="1593.7" r="4.0" fill="#000000"/>
<circle cx="588.7" cy="1610.4" r="4.0" fill="#000000"/>
<circle cx="586.6" cy="1625.9" r="4.0" fill="#000000"/>
<circle cx="609.5" cy="1642.0" r="4.0" fill="#000000"/>
<circle cx="588.0" cy="1658.8" r="4.0" fill="#000000"/>
<circle cx="597.4" cy="1674.9" r="4.0" fill="#000000"/>
<circle cx="611.5" cy="1691.0" r="4.0" fill="#000000"/>
<circle cx="614.8" cy="1707.2" r="4.0" fill="#000000"/>
<circle cx="600.1" cy="1723.3" r="4.0" fill="#000000"/>
<circle cx="628.3" cy="1739.4" r="4.0" fill="#000000"/>
<circle cx="615.5" cy="1756.2" r="4.0" fill="#000000"/>
<circle cx="623.6" cy="1772.3" r="4.0" fill="#000000"/>
<circle cx="647.8" cy="1788.4" r="4.0" fill="#000000"/>
<polyline points="703.5,1165.2 655.5,1175.2 663.6,1182.4 729.7,1187.0 686.2,1189.7 617.4,1197.8 597.5,1203.3 585.7,1208.7 597.5,1215.9 594.8,1224.1 621.1,1233.1 593.9,1244.0 595.7,1254.9 590.3,1267.5 577.6,1273.0 580.3,1285.7 583.0,1301.0 576.7,1317.3 577.6,1327.3 577.9,1334.2 582.4,1350.3 579.2,1366.4 588.2,1383.2 594.6,1399.3 598.5,1415.4 597.2,1432.2 585.6,1447.7 597.2,1464.4 586.3,1480.5 581.1,1496.7 586.3,1512.8 579.2,1528.9 579.2,1545.0 572.7,1558.6 573.9,1578.2 571.9,1593.0 571.9,1609.8 571.9,1625.9 582.6,1642.7 573.2,1658.1 575.9,1674.9 583.3,1691.0 582.6,1707.2 581.9,1723.3 598.7,1739.4 592.7,1756.2 597.4,1772.3 601.4,1788.4" fill="none" stroke="#0505e8" stroke-width="2.6" stroke-linejoin="round"/>
<circle cx="703.5" cy="1165.2" r="4.0" fill="#0505e8"/>
<circle cx="655.5" cy="1175.2" r="4.0" fill="#0505e8"/>
<circle cx="663.6" cy="1182.4" r="4.0" fill="#0505e8"/>
<circle cx="729.7" cy="1187.0" r="4.0" fill="#0505e8"/>
<circle cx="686.2" cy="1189.7" r="4.0" fill="#0505e8"/>
<circle cx="617.4" cy="1197.8" r="4.0" fill="#0505e8"/>
<circle cx="597.5" cy="1203.3" r="4.0" fill="#0505e8"/>
<circle cx="585.7" cy="1208.7" r="4.0" fill="#0505e8"/>
<circle cx="597.5" cy="1215.9" r="4.0" fill="#0505e8"/>
<circle cx="594.8" cy="1224.1" r="4.0" fill="#0505e8"/>
<circle cx="621.1" cy="1233.1" r="4.0" fill="#0505e8"/>
<circle cx="593.9" cy="1244.0" r="4.0" fill="#0505e8"/>
<circle cx="595.7" cy="1254.9" r="4.0" fill="#0505e8"/>
<circle cx="590.3" cy="1267.5" r="4.0" fill="#0505e8"/>
<circle cx="577.6" cy="1273.0" r="4.0" fill="#0505e8"/>
<circle cx="580.3" cy="1285.7" r="4.0" fill="#0505e8"/>
<circle cx="583.0" cy="1301.0" r="4.0" fill="#0505e8"/>
<circle cx="576.7" cy="1317.3" r="4.0" fill="#0505e8"/>
<circle cx="577.6" cy="1327.3" r="4.0" fill="#0505e8"/>
<circle cx="577.9" cy="1334.2" r="4.0" fill="#0505e8"/>
<circle cx="582.4" cy="1350.3" r="4.0" fill="#0505e8"/>
<circle cx="579.2" cy="1366.4" r="4.0" fill="#0505e8"/>
<circle cx="588.2" cy="1383.2" r="4.0" fill="#0505e8"/>
<circle cx="594.6" cy="1399.3" r="4.0" fill="#0505e8"/>
<circle cx="598.5" cy="1415.4" r="4.0" fill="#0505e8"/>
<circle cx="597.2" cy="1432.2" r="4.0" fill="#0505e8"/>
<circle cx="585.6" cy="1447.7" r="4.0" fill="#0505e8"/>
<circle cx="597.2" cy="1464.4" r="4.0" fill="#0505e8"/>
<circle cx="586.3" cy="1480.5" r="4.0" fill="#0505e8"/>
<circle cx="581.1" cy="1496.7" r="4.0" fill="#0505e8"/>
<circle cx="586.3" cy="1512.8" r="4.0" fill="#0505e8"/>
<circle cx="579.2" cy="1528.9" r="4.0" fill="#0505e8"/>
<circle cx="579.2" cy="1545.0" r="4.0" fill="#0505e8"/>
<circle cx="572.7" cy="1558.6" r="4.0" fill="#0505e8"/>
<circle cx="573.9" cy="1578.2" r="4.0" fill="#0505e8"/>
<circle cx="571.9" cy="1593.0" r="4.0" fill="#0505e8"/>
<circle cx="571.9" cy="1609.8" r="4.0" fill="#0505e8"/>
<circle cx="571.9" cy="1625.9" r="4.0" fill="#0505e8"/>
<circle cx="582.6" cy="1642.7" r="4.0" fill="#0505e8"/>
<circle cx="573.2" cy="1658.1" r="4.0" fill="#0505e8"/>
<circle cx="575.9" cy="1674.9" r="4.0" fill="#0505e8"/>
<circle cx="583.3" cy="1691.0" r="4.0" fill="#0505e8"/>
<circle cx="582.6" cy="1707.2" r="4.0" fill="#0505e8"/>
<circle cx="581.9" cy="1723.3" r="4.0" fill="#0505e8"/>
<circle cx="598.7" cy="1739.4" r="4.0" fill="#0505e8"/>
<circle cx="592.7" cy="1756.2" r="4.0" fill="#0505e8"/>
<circle cx="597.4" cy="1772.3" r="4.0" fill="#0505e8"/>
<circle cx="601.4" cy="1788.4" r="4.0" fill="#0505e8"/>
<polyline points="644.6,1167.0 700.0,1168.0 735.1,1170.7 769.6,1175.2 700.0,1174.0 655.5,1177.0 720.0,1176.0 660.0,1180.0 650.0,1184.2 700.0,1187.0 678.1,1192.4 690.0,1190.0 632.8,1208.7 628.3,1216.8 631.9,1234.9 605.7,1247.6 578.5,1267.5 583.9,1273.9 565.8,1285.7 556.8,1302.0 561.3,1318.2 560.4,1327.3 557.9,1333.5 566.9,1350.9 559.2,1366.4 557.3,1383.2 562.4,1399.3 585.0,1414.8 585.0,1430.9 576.6,1447.7 579.8,1464.4 564.3,1479.9 595.9,1496.7 579.2,1512.1 563.7,1527.6 564.3,1543.7 566.3,1558.6 562.5,1578.2 556.4,1593.0 561.8,1609.8 559.1,1625.9 572.5,1642.0 559.8,1658.1 565.1,1674.9 572.5,1689.7 577.2,1706.5 562.5,1722.6 573.9,1739.4 566.5,1756.2 569.8,1771.6 590.0,1788.4" fill="none" stroke="#f20808" stroke-width="2.0" stroke-linejoin="round"/>
<circle cx="644.6" cy="1167.0" r="2.2" fill="#f20808"/>
<circle cx="700.0" cy="1168.0" r="2.2" fill="#f20808"/>
<circle cx="735.1" cy="1170.7" r="2.2" fill="#f20808"/>
<circle cx="769.6" cy="1175.2" r="2.2" fill="#f20808"/>
<circle cx="700.0" cy="1174.0" r="2.2" fill="#f20808"/>
<circle cx="655.5" cy="1177.0" r="2.2" fill="#f20808"/>
<circle cx="720.0" cy="1176.0" r="2.2" fill="#f20808"/>
<circle cx="660.0" cy="1180.0" r="2.2" fill="#f20808"/>
<circle cx="650.0" cy="1184.2" r="2.2" fill="#f20808"/>
<circle cx="700.0" cy="1187.0" r="2.2" fill="#f20808"/>
<circle cx="678.1" cy="1192.4" r="2.2" fill="#f20808"/>
<circle cx="690.0" cy="1190.0" r="2.2" fill="#f20808"/>
<circle cx="632.8" cy="1208.7" r="2.2" fill="#f20808"/>
<circle cx="628.3" cy="1216.8" r="2.2" fill="#f20808"/>
<circle cx="631.9" cy="1234.9" r="2.2" fill="#f20808"/>
<circle cx="605.7" cy="1247.6" r="2.2" fill="#f20808"/>
<circle cx="578.5" cy="1267.5" r="2.2" fill="#f20808"/>
<circle cx="583.9" cy="1273.9" r="2.2" fill="#f20808"/>
<circle cx="565.8" cy="1285.7" r="2.2" fill="#f20808"/>
<circle cx="556.8" cy="1302.0" r="2.2" fill="#f20808"/>
<circle cx="561.3" cy="1318.2" r="2.2" fill="#f20808"/>
<circle cx="560.4" cy="1327.3" r="2.2" fill="#f20808"/>
<circle cx="557.9" cy="1333.5" r="2.2" fill="#f20808"/>
<circle cx="566.9" cy="1350.9" r="2.2" fill="#f20808"/>
<circle cx="559.2" cy="1366.4" r="2.2" fill="#f20808"/>
<circle cx="557.3" cy="1383.2" r="2.2" fill="#f20808"/>
<circle cx="562.4" cy="1399.3" r="2.2" fill="#f20808"/>
<circle cx="585.0" cy="1414.8" r="2.2" fill="#f20808"/>
<circle cx="585.0" cy="1430.9" r="2.2" fill="#f20808"/>
<circle cx="576.6" cy="1447.7" r="2.2" fill="#f20808"/>
<circle cx="579.8" cy="1464.4" r="2.2" fill="#f20808"/>
<circle cx="564.3" cy="1479.9" r="2.2" fill="#f20808"/>
<circle cx="595.9" cy="1496.7" r="2.2" fill="#f20808"/>
<circle cx="579.2" cy="1512.1" r="2.2" fill="#f20808"/>
<circle cx="563.7" cy="1527.6" r="2.2" fill="#f20808"/>
<circle cx="564.3" cy="1543.7" r="2.2" fill="#f20808"/>
<circle cx="566.3" cy="1558.6" r="2.2" fill="#f20808"/>
<circle cx="562.5" cy="1578.2" r="2.2" fill="#f20808"/>
<circle cx="556.4" cy="1593.0" r="2.2" fill="#f20808"/>
<circle cx="561.8" cy="1609.8" r="2.2" fill="#f20808"/>
<circle cx="559.1" cy="1625.9" r="2.2" fill="#f20808"/>
<circle cx="572.5" cy="1642.0" r="2.2" fill="#f20808"/>
<circle cx="559.8" cy="1658.1" r="2.2" fill="#f20808"/>
<circle cx="565.1" cy="1674.9" r="2.2" fill="#f20808"/>
<circle cx="572.5" cy="1689.7" r="2.2" fill="#f20808"/>
<circle cx="577.2" cy="1706.5" r="2.2" fill="#f20808"/>
<circle cx="562.5" cy="1722.6" r="2.2" fill="#f20808"/>
<circle cx="573.9" cy="1739.4" r="2.2" fill="#f20808"/>
<circle cx="566.5" cy="1756.2" r="2.2" fill="#f20808"/>
<circle cx="569.8" cy="1771.6" r="2.2" fill="#f20808"/>
<circle cx="590.0" cy="1788.4" r="2.2" fill="#f20808"/>
<polyline points="1040.8,1167.4 986.2,1170.2 963.7,1174.9 990.9,1173.9 1001.3,1181.5 1009.8,1183.4 1022.9,1189.0 1050.2,1187.1 997.5,1191.8 972.1,1197.5 964.6,1203.1 960.9,1208.7 973.1,1216.3 970.3,1224.7 990.9,1234.1 982.5,1243.5 993.8,1255.8 1025.7,1268.9 988.1,1273.6 1043.6,1285.9 1142.4,1301.8 1069.0,1317.8 1103.8,1334.8 1050.2,1350.8 1084.1,1366.7 1167.8,1382.7 1124.5,1398.7 1023.9,1414.7 1022.0,1430.7 1022.0,1446.7 1033.3,1464.1 1073.7,1480.1 980.6,1496.1 1018.2,1513.0 1059.6,1529.0 1055.8,1545.0 1026.7,1561.9 1038.9,1577.9 1096.3,1593.9 1036.1,1609.9 1057.7,1625.9 1029.5,1641.8 1065.2,1658.8 1032.3,1674.8 1027.6,1691.7 1009.8,1706.7 1079.4,1723.7 1059.6,1740.6 1082.2,1756.6 1071.8,1772.6 1017.3,1788.6" fill="none" stroke="#660a6e" stroke-width="2.2" stroke-linejoin="round"/>
<circle cx="1040.8" cy="1167.4" r="4.2" fill="#660a6e"/>
<circle cx="986.2" cy="1170.2" r="4.2" fill="#660a6e"/>
<circle cx="963.7" cy="1174.9" r="4.2" fill="#660a6e"/>
<circle cx="990.9" cy="1173.9" r="4.2" fill="#660a6e"/>
<circle cx="1001.3" cy="1181.5" r="4.2" fill="#660a6e"/>
<circle cx="1009.8" cy="1183.4" r="4.2" fill="#660a6e"/>
<circle cx="1022.9" cy="1189.0" r="4.2" fill="#660a6e"/>
<circle cx="1050.2" cy="1187.1" r="4.2" fill="#660a6e"/>
<circle cx="997.5" cy="1191.8" r="4.2" fill="#660a6e"/>
<circle cx="972.1" cy="1197.5" r="4.2" fill="#660a6e"/>
<circle cx="964.6" cy="1203.1" r="4.2" fill="#660a6e"/>
<circle cx="960.9" cy="1208.7" r="4.2" fill="#660a6e"/>
<circle cx="973.1" cy="1216.3" r="4.2" fill="#660a6e"/>
<circle cx="970.3" cy="1224.7" r="4.2" fill="#660a6e"/>
<circle cx="990.9" cy="1234.1" r="4.2" fill="#660a6e"/>
<circle cx="982.5" cy="1243.5" r="4.2" fill="#660a6e"/>
<circle cx="993.8" cy="1255.8" r="4.2" fill="#660a6e"/>
<circle cx="1025.7" cy="1268.9" r="4.2" fill="#660a6e"/>
<circle cx="988.1" cy="1273.6" r="4.2" fill="#660a6e"/>
<circle cx="1043.6" cy="1285.9" r="4.2" fill="#660a6e"/>
<circle cx="1142.4" cy="1301.8" r="4.2" fill="#660a6e"/>
<circle cx="1069.0" cy="1317.8" r="4.2" fill="#660a6e"/>
<circle cx="1103.8" cy="1334.8" r="4.2" fill="#660a6e"/>
<circle cx="1050.2" cy="1350.8" r="4.2" fill="#660a6e"/>
<circle cx="1084.1" cy="1366.7" r="4.2" fill="#660a6e"/>
<circle cx="1167.8" cy="1382.7" r="4.2" fill="#660a6e"/>
<circle cx="1124.5" cy="1398.7" r="4.2" fill="#660a6e"/>
<circle cx="1023.9" cy="1414.7" r="4.2" fill="#660a6e"/>
<circle cx="1022.0" cy="1430.7" r="4.2" fill="#660a6e"/>
<circle cx="1022.0" cy="1446.7" r="4.2" fill="#660a6e"/>
<circle cx="1033.3" cy="1464.1" r="4.2" fill="#660a6e"/>
<circle cx="1073.7" cy="1480.1" r="4.2" fill="#660a6e"/>
<circle cx="980.6" cy="1496.1" r="4.2" fill="#660a6e"/>
<circle cx="1018.2" cy="1513.0" r="4.2" fill="#660a6e"/>
<circle cx="1059.6" cy="1529.0" r="4.2" fill="#660a6e"/>
<circle cx="1055.8" cy="1545.0" r="4.2" fill="#660a6e"/>
<circle cx="1026.7" cy="1561.9" r="4.2" fill="#660a6e"/>
<circle cx="1038.9" cy="1577.9" r="4.2" fill="#660a6e"/>
<circle cx="1096.3" cy="1593.9" r="4.2" fill="#660a6e"/>
<circle cx="1036.1" cy="1609.9" r="4.2" fill="#660a6e"/>
<circle cx="1057.7" cy="1625.9" r="4.2" fill="#660a6e"/>
<circle cx="1029.5" cy="1641.8" r="4.2" fill="#660a6e"/>
<circle cx="1065.2" cy="1658.8" r="4.2" fill="#660a6e"/>
<circle cx="1032.3" cy="1674.8" r="4.2" fill="#660a6e"/>
<circle cx="1027.6" cy="1691.7" r="4.2" fill="#660a6e"/>
<circle cx="1009.8" cy="1706.7" r="4.2" fill="#660a6e"/>
<circle cx="1079.4" cy="1723.7" r="4.2" fill="#660a6e"/>
<circle cx="1059.6" cy="1740.6" r="4.2" fill="#660a6e"/>
<circle cx="1082.2" cy="1756.6" r="4.2" fill="#660a6e"/>
<circle cx="1071.8" cy="1772.6" r="4.2" fill="#660a6e"/>
<circle cx="1017.3" cy="1788.6" r="4.2" fill="#660a6e"/>
<polyline points="1544.4,1166.1 1620.5,1167.9 1645.8,1172.5 1582.4,1171.6 1633.1,1176.1 1615.0,1182.4 1602.4,1184.2 1573.4,1191.5 1573.4,1196.9 1540.8,1200.5 1535.4,1207.8 1495.5,1215.0 1495.5,1218.7 1478.3,1231.3 1467.5,1240.4 1457.5,1254.0 1386.9,1266.6 1368.8,1271.2 1345.2,1282.9 1340.7,1299.2 1335.3,1316.4 1335.3,1329.1 1336.2,1348.1 1327.1,1364.4 1337.1,1380.7 1338.0,1397.0 1337.1,1412.4 1340.7,1428.7 1338.9,1444.9 1338.0,1461.2 1331.6,1477.5 1329.8,1492.9 1327.1,1509.2 1335.3,1525.5 1335.3,1541.8 1336.2,1557.2 1330.7,1575.4 1331.6,1590.7 1333.4,1607.9 1338.0,1623.3 1330.7,1639.6 1335.3,1655.0 1331.6,1672.2 1333.4,1687.6 1337.1,1703.9 1331.6,1720.2 1338.9,1735.6 1338.0,1752.8 1352.5,1785.4" fill="none" stroke="#333333" stroke-width="2.0" stroke-linejoin="round"/>
<circle cx="1544.4" cy="1166.1" r="3.9" fill="#333333"/>
<circle cx="1620.5" cy="1167.9" r="3.9" fill="#333333"/>
<circle cx="1645.8" cy="1172.5" r="3.9" fill="#333333"/>
<circle cx="1582.4" cy="1171.6" r="3.9" fill="#333333"/>
<circle cx="1633.1" cy="1176.1" r="3.9" fill="#333333"/>
<circle cx="1615.0" cy="1182.4" r="3.9" fill="#333333"/>
<circle cx="1602.4" cy="1184.2" r="3.9" fill="#333333"/>
<circle cx="1573.4" cy="1191.5" r="3.9" fill="#333333"/>
<circle cx="1573.4" cy="1196.9" r="3.9" fill="#333333"/>
<circle cx="1540.8" cy="1200.5" r="3.9" fill="#333333"/>
<circle cx="1535.4" cy="1207.8" r="3.9" fill="#333333"/>
<circle cx="1495.5" cy="1215.0" r="3.9" fill="#333333"/>
<circle cx="1495.5" cy="1218.7" r="3.9" fill="#333333"/>
<circle cx="1478.3" cy="1231.3" r="3.9" fill="#333333"/>
<circle cx="1467.5" cy="1240.4" r="3.9" fill="#333333"/>
<circle cx="1457.5" cy="1254.0" r="3.9" fill="#333333"/>
<circle cx="1386.9" cy="1266.6" r="3.9" fill="#333333"/>
<circle cx="1368.8" cy="1271.2" r="3.9" fill="#333333"/>
<circle cx="1345.2" cy="1282.9" r="3.9" fill="#333333"/>
<circle cx="1340.7" cy="1299.2" r="3.9" fill="#333333"/>
<circle cx="1335.3" cy="1316.4" r="3.9" fill="#333333"/>
<circle cx="1335.3" cy="1329.1" r="3.9" fill="#333333"/>
<circle cx="1336.2" cy="1348.1" r="3.9" fill="#333333"/>
<circle cx="1327.1" cy="1364.4" r="3.9" fill="#333333"/>
<circle cx="1337.1" cy="1380.7" r="3.9" fill="#333333"/>
<circle cx="1338.0" cy="1397.0" r="3.9" fill="#333333"/>
<circle cx="1337.1" cy="1412.4" r="3.9" fill="#333333"/>
<circle cx="1340.7" cy="1428.7" r="3.9" fill="#333333"/>
<circle cx="1338.9" cy="1444.9" r="3.9" fill="#333333"/>
<circle cx="1338.0" cy="1461.2" r="3.9" fill="#333333"/>
<circle cx="1331.6" cy="1477.5" r="3.9" fill="#333333"/>
<circle cx="1329.8" cy="1492.9" r="3.9" fill="#333333"/>
<circle cx="1327.1" cy="1509.2" r="3.9" fill="#333333"/>
<circle cx="1335.3" cy="1525.5" r="3.9" fill="#333333"/>
<circle cx="1335.3" cy="1541.8" r="3.9" fill="#333333"/>
<circle cx="1336.2" cy="1557.2" r="3.9" fill="#333333"/>
<circle cx="1330.7" cy="1575.4" r="3.9" fill="#333333"/>
<circle cx="1331.6" cy="1590.7" r="3.9" fill="#333333"/>
<circle cx="1333.4" cy="1607.9" r="3.9" fill="#333333"/>
<circle cx="1338.0" cy="1623.3" r="3.9" fill="#333333"/>
<circle cx="1330.7" cy="1639.6" r="3.9" fill="#333333"/>
<circle cx="1335.3" cy="1655.0" r="3.9" fill="#333333"/>
<circle cx="1331.6" cy="1672.2" r="3.9" fill="#333333"/>
<circle cx="1333.4" cy="1687.6" r="3.9" fill="#333333"/>
<circle cx="1337.1" cy="1703.9" r="3.9" fill="#333333"/>
<circle cx="1331.6" cy="1720.2" r="3.9" fill="#333333"/>
<circle cx="1338.9" cy="1735.6" r="3.9" fill="#333333"/>
<circle cx="1338.0" cy="1752.8" r="3.9" fill="#333333"/>
<circle cx="1352.5" cy="1785.4" r="3.9" fill="#333333"/>
<polyline points="1439.4,1164.3 1414.0,1167.9 1387.8,1168.9 1367.9,1172.5 1377.8,1174.3 1366.0,1177.9 1376.0,1184.2 1357.9,1189.7 1370.6,1196.0 1357.0,1200.5 1366.9,1206.9 1361.5,1214.1 1355.2,1222.3 1351.6,1232.2 1344.3,1241.3 1356.1,1254.0 1335.3,1266.6 1335.3,1271.2 1324.4,1283.8 1326.2,1299.2 1320.8,1315.5 1319.0,1329.1 1319.0,1348.1 1317.1,1364.4 1317.1,1380.7 1318.1,1397.0 1317.1,1412.4 1319.9,1428.7 1319.0,1444.9 1328.9,1461.2 1320.8,1477.5 1318.1,1492.9 1317.1,1509.2 1317.1,1525.5 1317.1,1541.8 1319.0,1557.2 1317.1,1575.4 1314.4,1590.7 1322.6,1607.9 1320.8,1623.3 1320.8,1639.6 1324.4,1655.0 1321.7,1672.2 1326.2,1687.6 1316.2,1703.9 1315.3,1720.2 1317.1,1735.6 1316.2,1751.9 1359.7,1769.1 1322.6,1785.4" fill="none" stroke="#0505e8" stroke-width="2.6" stroke-linejoin="round"/>
<circle cx="1439.4" cy="1164.3" r="4.2" fill="#0505e8"/>
<circle cx="1414.0" cy="1167.9" r="4.2" fill="#0505e8"/>
<circle cx="1387.8" cy="1168.9" r="4.2" fill="#0505e8"/>
<circle cx="1367.9" cy="1172.5" r="4.2" fill="#0505e8"/>
<circle cx="1377.8" cy="1174.3" r="4.2" fill="#0505e8"/>
<circle cx="1366.0" cy="1177.9" r="4.2" fill="#0505e8"/>
<circle cx="1376.0" cy="1184.2" r="4.2" fill="#0505e8"/>
<circle cx="1357.9" cy="1189.7" r="4.2" fill="#0505e8"/>
<circle cx="1370.6" cy="1196.0" r="4.2" fill="#0505e8"/>
<circle cx="1357.0" cy="1200.5" r="4.2" fill="#0505e8"/>
<circle cx="1366.9" cy="1206.9" r="4.2" fill="#0505e8"/>
<circle cx="1361.5" cy="1214.1" r="4.2" fill="#0505e8"/>
<circle cx="1355.2" cy="1222.3" r="4.2" fill="#0505e8"/>
<circle cx="1351.6" cy="1232.2" r="4.2" fill="#0505e8"/>
<circle cx="1344.3" cy="1241.3" r="4.2" fill="#0505e8"/>
<circle cx="1356.1" cy="1254.0" r="4.2" fill="#0505e8"/>
<circle cx="1335.3" cy="1266.6" r="4.2" fill="#0505e8"/>
<circle cx="1335.3" cy="1271.2" r="4.2" fill="#0505e8"/>
<circle cx="1324.4" cy="1283.8" r="4.2" fill="#0505e8"/>
<circle cx="1326.2" cy="1299.2" r="4.2" fill="#0505e8"/>
<circle cx="1320.8" cy="1315.5" r="4.2" fill="#0505e8"/>
<circle cx="1319.0" cy="1329.1" r="4.2" fill="#0505e8"/>
<circle cx="1319.0" cy="1348.1" r="4.2" fill="#0505e8"/>
<circle cx="1317.1" cy="1364.4" r="4.2" fill="#0505e8"/>
<circle cx="1317.1" cy="1380.7" r="4.2" fill="#0505e8"/>
<circle cx="1318.1" cy="1397.0" r="4.2" fill="#0505e8"/>
<circle cx="1317.1" cy="1412.4" r="4.2" fill="#0505e8"/>
<circle cx="1319.9" cy="1428.7" r="4.2" fill="#0505e8"/>
<circle cx="1319.0" cy="1444.9" r="4.2" fill="#0505e8"/>
<circle cx="1328.9" cy="1461.2" r="4.2" fill="#0505e8"/>
<circle cx="1320.8" cy="1477.5" r="4.2" fill="#0505e8"/>
<circle cx="1318.1" cy="1492.9" r="4.2" fill="#0505e8"/>
<circle cx="1317.1" cy="1509.2" r="4.2" fill="#0505e8"/>
<circle cx="1317.1" cy="1525.5" r="4.2" fill="#0505e8"/>
<circle cx="1317.1" cy="1541.8" r="4.2" fill="#0505e8"/>
<circle cx="1319.0" cy="1557.2" r="4.2" fill="#0505e8"/>
<circle cx="1317.1" cy="1575.4" r="4.2" fill="#0505e8"/>
<circle cx="1314.4" cy="1590.7" r="4.2" fill="#0505e8"/>
<circle cx="1322.6" cy="1607.9" r="4.2" fill="#0505e8"/>
<circle cx="1320.8" cy="1623.3" r="4.2" fill="#0505e8"/>
<circle cx="1320.8" cy="1639.6" r="4.2" fill="#0505e8"/>
<circle cx="1324.4" cy="1655.0" r="4.2" fill="#0505e8"/>
<circle cx="1321.7" cy="1672.2" r="4.2" fill="#0505e8"/>
<circle cx="1326.2" cy="1687.6" r="4.2" fill="#0505e8"/>
<circle cx="1316.2" cy="1703.9" r="4.2" fill="#0505e8"/>
<circle cx="1315.3" cy="1720.2" r="4.2" fill="#0505e8"/>
<circle cx="1317.1" cy="1735.6" r="4.2" fill="#0505e8"/>
<circle cx="1316.2" cy="1751.9" r="4.2" fill="#0505e8"/>
<circle cx="1359.7" cy="1769.1" r="4.2" fill="#0505e8"/>
<circle cx="1322.6" cy="1785.4" r="4.2" fill="#0505e8"/>
<polyline points="1476.5,1164.3 1414.9,1168.9 1426.7,1173.4 1446.6,1172.5 1435.8,1177.0 1453.9,1175.2 1443.0,1179.7 1462.9,1177.9 1441.2,1182.4 1539.0,1184.2 1569.8,1187.0 1346.1,1189.7 1503.7,1196.0 1451.2,1200.5 1472.0,1198.7 1508.2,1201.4 1490.1,1204.2 1517.2,1206.0 1478.3,1214.1 1511.8,1221.4 1414.9,1232.2 1442.1,1241.3 1518.2,1254.0 1642.2,1266.6 1504.6,1269.4 1452.1,1282.9 1581.5,1299.2 1434.9,1315.5 1526.3,1330.0 1480.1,1348.1 1382.3,1364.4 1427.6,1380.7 1393.2,1397.0 1386.9,1412.4 1438.5,1428.7 1443.9,1444.9 1429.4,1461.2 1414.9,1476.6 1371.5,1492.9 1443.9,1509.2 1421.3,1525.5 1375.1,1541.8 1380.5,1557.2 1357.0,1575.4 1366.0,1591.6 1349.7,1607.9 1362.4,1623.3 1373.3,1639.6 1357.0,1655.0 1338.9,1672.2 1319.0,1687.6 1342.5,1703.9 1338.9,1720.2 1340.7,1736.5 1321.7,1751.9 1317.1,1769.1 1407.7,1785.4" fill="none" stroke="#f20808" stroke-width="2.5" stroke-linejoin="round"/>
<rect x="1472.5" y="1160.3" width="8.0" height="8.0" fill="#f20808"/>
<rect x="1410.9" y="1164.9" width="8.0" height="8.0" fill="#f20808"/>
<rect x="1422.7" y="1169.4" width="8.0" height="8.0" fill="#f20808"/>
<rect x="1442.6" y="1168.5" width="8.0" height="8.0" fill="#f20808"/>
<rect x="1431.8" y="1173.0" width="8.0" height="8.0" fill="#f20808"/>
<rect x="1449.9" y="1171.2" width="8.0" height="8.0" fill="#f20808"/>
<rect x="1439.0" y="1175.7" width="8.0" height="8.0" fill="#f20808"/>
<rect x="1458.9" y="1173.9" width="8.0" height="8.0" fill="#f20808"/>
<rect x="1437.2" y="1178.4" width="8.0" height="8.0" fill="#f20808"/>
<rect x="1535.0" y="1180.2" width="8.0" height="8.0" fill="#f20808"/>
<rect x="1565.8" y="1183.0" width="8.0" height="8.0" fill="#f20808"/>
<rect x="1342.1" y="1185.7" width="8.0" height="8.0" fill="#f20808"/>
<rect x="1499.7" y="1192.0" width="8.0" height="8.0" fill="#f20808"/>
<rect x="1447.2" y="1196.5" width="8.0" height="8.0" fill="#f20808"/>
<rect x="1468.0" y="1194.7" width="8.0" height="8.0" fill="#f20808"/>
<rect x="1504.2" y="1197.4" width="8.0" height="8.0" fill="#f20808"/>
<rect x="1486.1" y="1200.2" width="8.0" height="8.0" fill="#f20808"/>
<rect x="1513.2" y="1202.0" width="8.0" height="8.0" fill="#f20808"/>
<rect x="1474.3" y="1210.1" width="8.0" height="8.0" fill="#f20808"/>
<rect x="1507.8" y="1217.4" width="8.0" height="8.0" fill="#f20808"/>
<rect x="1410.9" y="1228.2" width="8.0" height="8.0" fill="#f20808"/>
<rect x="1438.1" y="1237.3" width="8.0" height="8.0" fill="#f20808"/>
<rect x="1514.2" y="1250.0" width="8.0" height="8.0" fill="#f20808"/>
<rect x="1638.2" y="1262.6" width="8.0" height="8.0" fill="#f20808"/>
<rect x="1500.6" y="1265.4" width="8.0" height="8.0" fill="#f20808"/>
<rect x="1448.1" y="1278.9" width="8.0" height="8.0" fill="#f20808"/>
<rect x="1577.5" y="1295.2" width="8.0" height="8.0" fill="#f20808"/>
<rect x="1430.9" y="1311.5" width="8.0" height="8.0" fill="#f20808"/>
<rect x="1522.3" y="1326.0" width="8.0" height="8.0" fill="#f20808"/>
<rect x="1476.1" y="1344.1" width="8.0" height="8.0" fill="#f20808"/>
<rect x="1378.3" y="1360.4" width="8.0" height="8.0" fill="#f20808"/>
<rect x="1423.6" y="1376.7" width="8.0" height="8.0" fill="#f20808"/>
<rect x="1389.2" y="1393.0" width="8.0" height="8.0" fill="#f20808"/>
<rect x="1382.9" y="1408.4" width="8.0" height="8.0" fill="#f20808"/>
<rect x="1434.5" y="1424.7" width="8.0" height="8.0" fill="#f20808"/>
<rect x="1439.9" y="1440.9" width="8.0" height="8.0" fill="#f20808"/>
<rect x="1425.4" y="1457.2" width="8.0" height="8.0" fill="#f20808"/>
<rect x="1410.9" y="1472.6" width="8.0" height="8.0" fill="#f20808"/>
<rect x="1367.5" y="1488.9" width="8.0" height="8.0" fill="#f20808"/>
<rect x="1439.9" y="1505.2" width="8.0" height="8.0" fill="#f20808"/>
<rect x="1417.3" y="1521.5" width="8.0" height="8.0" fill="#f20808"/>
<rect x="1371.1" y="1537.8" width="8.0" height="8.0" fill="#f20808"/>
<rect x="1376.5" y="1553.2" width="8.0" height="8.0" fill="#f20808"/>
<rect x="1353.0" y="1571.4" width="8.0" height="8.0" fill="#f20808"/>
<rect x="1362.0" y="1587.6" width="8.0" height="8.0" fill="#f20808"/>
<rect x="1345.7" y="1603.9" width="8.0" height="8.0" fill="#f20808"/>
<rect x="1358.4" y="1619.3" width="8.0" height="8.0" fill="#f20808"/>
<rect x="1369.3" y="1635.6" width="8.0" height="8.0" fill="#f20808"/>
<rect x="1353.0" y="1651.0" width="8.0" height="8.0" fill="#f20808"/>
<rect x="1334.9" y="1668.2" width="8.0" height="8.0" fill="#f20808"/>
<rect x="1315.0" y="1683.6" width="8.0" height="8.0" fill="#f20808"/>
<rect x="1338.5" y="1699.9" width="8.0" height="8.0" fill="#f20808"/>
<rect x="1334.9" y="1716.2" width="8.0" height="8.0" fill="#f20808"/>
<rect x="1336.7" y="1732.5" width="8.0" height="8.0" fill="#f20808"/>
<rect x="1317.7" y="1747.9" width="8.0" height="8.0" fill="#f20808"/>
<rect x="1313.1" y="1765.1" width="8.0" height="8.0" fill="#f20808"/>
<rect x="1403.7" y="1781.4" width="8.0" height="8.0" fill="#f20808"/>
<polyline points="1909.2,1177.9 1976.3,1179.7 2036.9,1185.2 1947.3,1195.1 1990.7,1199.6 1963.6,1202.4 1879.4,1205.1 1893.9,1212.3 1866.7,1218.7 1830.5,1224.1 1802.4,1233.1 1808.7,1241.3 1817.8,1254.0 1787.9,1264.8 1808.7,1278.4 1749.0,1293.8 1731.8,1299.2 1720.0,1312.8 1720.0,1327.3 1720.9,1331.8 1716.4,1349.9 1713.7,1368.0 1714.6,1387.9 1711.9,1406.9 1715.5,1425.0 1715.5,1444.0 1714.6,1463.1 1716.4,1480.3 1716.4,1500.2 1715.5,1518.3 1712.8,1536.4 1711.9,1555.4 1713.7,1575.4 1714.6,1593.5 1713.7,1610.7 1714.6,1629.7 1711.9,1648.7 1711.0,1665.9 1711.9,1684.0 1712.8,1705.7 1711.9,1723.8 1711.9,1742.0 1712.8,1761.0 1710.1,1778.2 1714.6,1793.6" fill="none" stroke="#000000" stroke-width="2.6" stroke-linejoin="round"/>
<circle cx="1909.2" cy="1177.9" r="4.2" fill="#000000"/>
<circle cx="1976.3" cy="1179.7" r="4.2" fill="#000000"/>
<circle cx="2036.9" cy="1185.2" r="4.2" fill="#000000"/>
<circle cx="1947.3" cy="1195.1" r="4.2" fill="#000000"/>
<circle cx="1990.7" cy="1199.6" r="4.2" fill="#000000"/>
<circle cx="1963.6" cy="1202.4" r="4.2" fill="#000000"/>
<circle cx="1879.4" cy="1205.1" r="4.2" fill="#000000"/>
<circle cx="1893.9" cy="1212.3" r="4.2" fill="#000000"/>
<circle cx="1866.7" cy="1218.7" r="4.2" fill="#000000"/>
<circle cx="1830.5" cy="1224.1" r="4.2" fill="#000000"/>
<circle cx="1802.4" cy="1233.1" r="4.2" fill="#000000"/>
<circle cx="1808.7" cy="1241.3" r="4.2" fill="#000000"/>
<circle cx="1817.8" cy="1254.0" r="4.2" fill="#000000"/>
<circle cx="1787.9" cy="1264.8" r="4.2" fill="#000000"/>
<circle cx="1808.7" cy="1278.4" r="4.2" fill="#000000"/>
<circle cx="1749.0" cy="1293.8" r="4.2" fill="#000000"/>
<circle cx="1731.8" cy="1299.2" r="4.2" fill="#000000"/>
<circle cx="1720.0" cy="1312.8" r="4.2" fill="#000000"/>
<circle cx="1720.0" cy="1327.3" r="4.2" fill="#000000"/>
<circle cx="1720.9" cy="1331.8" r="4.2" fill="#000000"/>
<circle cx="1716.4" cy="1349.9" r="4.2" fill="#000000"/>
<circle cx="1713.7" cy="1368.0" r="4.2" fill="#000000"/>
<circle cx="1714.6" cy="1387.9" r="4.2" fill="#000000"/>
<circle cx="1711.9" cy="1406.9" r="4.2" fill="#000000"/>
<circle cx="1715.5" cy="1425.0" r="4.2" fill="#000000"/>
<circle cx="1715.5" cy="1444.0" r="4.2" fill="#000000"/>
<circle cx="1714.6" cy="1463.1" r="4.2" fill="#000000"/>
<circle cx="1716.4" cy="1480.3" r="4.2" fill="#000000"/>
<circle cx="1716.4" cy="1500.2" r="4.2" fill="#000000"/>
<circle cx="1715.5" cy="1518.3" r="4.2" fill="#000000"/>
<circle cx="1712.8" cy="1536.4" r="4.2" fill="#000000"/>
<circle cx="1711.9" cy="1555.4" r="4.2" fill="#000000"/>
<circle cx="1713.7" cy="1575.4" r="4.2" fill="#000000"/>
<circle cx="1714.6" cy="1593.5" r="4.2" fill="#000000"/>
<circle cx="1713.7" cy="1610.7" r="4.2" fill="#000000"/>
<circle cx="1714.6" cy="1629.7" r="4.2" fill="#000000"/>
<circle cx="1711.9" cy="1648.7" r="4.2" fill="#000000"/>
<circle cx="1711.0" cy="1665.9" r="4.2" fill="#000000"/>
<circle cx="1711.9" cy="1684.0" r="4.2" fill="#000000"/>
<circle cx="1712.8" cy="1705.7" r="4.2" fill="#000000"/>
<circle cx="1711.9" cy="1723.8" r="4.2" fill="#000000"/>
<circle cx="1711.9" cy="1742.0" r="4.2" fill="#000000"/>
<circle cx="1712.8" cy="1761.0" r="4.2" fill="#000000"/>
<circle cx="1710.1" cy="1778.2" r="4.2" fill="#000000"/>
<circle cx="1714.6" cy="1793.6" r="4.2" fill="#000000"/>
<polyline points="1816.9,1177.0 1780.7,1181.5 1770.7,1179.7 1758.9,1184.2 1760.8,1191.5 1749.9,1194.2 1760.8,1199.6 1734.5,1205.1 1745.4,1212.3 1734.5,1218.7 1732.7,1225.9 1730.9,1233.1 1727.3,1242.2 1730.9,1254.0 1719.1,1263.9 1734.5,1279.3 1715.5,1293.8 1708.2,1312.8 1710.1,1327.3 1711.0,1331.8 1707.3,1349.9 1705.5,1368.0 1705.5,1387.9 1705.5,1406.9 1705.5,1425.0 1705.5,1444.0 1705.5,1463.1 1706.4,1480.3 1706.4,1500.2 1710.1,1518.3 1707.3,1536.4 1706.4,1555.4 1704.6,1577.2 1704.6,1593.5 1704.6,1610.7 1704.6,1629.7 1704.6,1648.7 1703.7,1665.9 1704.6,1684.0 1704.6,1705.7 1704.6,1723.8 1704.6,1742.0 1704.6,1761.0 1709.1,1780.9 1704.6,1792.7" fill="none" stroke="#0505e8" stroke-width="2.6" stroke-linejoin="round"/>
<circle cx="1816.9" cy="1177.0" r="4.2" fill="#0505e8"/>
<circle cx="1780.7" cy="1181.5" r="4.2" fill="#0505e8"/>
<circle cx="1770.7" cy="1179.7" r="4.2" fill="#0505e8"/>
<circle cx="1758.9" cy="1184.2" r="4.2" fill="#0505e8"/>
<circle cx="1760.8" cy="1191.5" r="4.2" fill="#0505e8"/>
<circle cx="1749.9" cy="1194.2" r="4.2" fill="#0505e8"/>
<circle cx="1760.8" cy="1199.6" r="4.2" fill="#0505e8"/>
<circle cx="1734.5" cy="1205.1" r="4.2" fill="#0505e8"/>
<circle cx="1745.4" cy="1212.3" r="4.2" fill="#0505e8"/>
<circle cx="1734.5" cy="1218.7" r="4.2" fill="#0505e8"/>
<circle cx="1732.7" cy="1225.9" r="4.2" fill="#0505e8"/>
<circle cx="1730.9" cy="1233.1" r="4.2" fill="#0505e8"/>
<circle cx="1727.3" cy="1242.2" r="4.2" fill="#0505e8"/>
<circle cx="1730.9" cy="1254.0" r="4.2" fill="#0505e8"/>
<circle cx="1719.1" cy="1263.9" r="4.2" fill="#0505e8"/>
<circle cx="1734.5" cy="1279.3" r="4.2" fill="#0505e8"/>
<circle cx="1715.5" cy="1293.8" r="4.2" fill="#0505e8"/>
<circle cx="1708.2" cy="1312.8" r="4.2" fill="#0505e8"/>
<circle cx="1710.1" cy="1327.3" r="4.2" fill="#0505e8"/>
<circle cx="1711.0" cy="1331.8" r="4.2" fill="#0505e8"/>
<circle cx="1707.3" cy="1349.9" r="4.2" fill="#0505e8"/>
<circle cx="1705.5" cy="1368.0" r="4.2" fill="#0505e8"/>
<circle cx="1705.5" cy="1387.9" r="4.2" fill="#0505e8"/>
<circle cx="1705.5" cy="1406.9" r="4.2" fill="#0505e8"/>
<circle cx="1705.5" cy="1425.0" r="4.2" fill="#0505e8"/>
<circle cx="1705.5" cy="1444.0" r="4.2" fill="#0505e8"/>
<circle cx="1705.5" cy="1463.1" r="4.2" fill="#0505e8"/>
<circle cx="1706.4" cy="1480.3" r="4.2" fill="#0505e8"/>
<circle cx="1706.4" cy="1500.2" r="4.2" fill="#0505e8"/>
<circle cx="1710.1" cy="1518.3" r="4.2" fill="#0505e8"/>
<circle cx="1707.3" cy="1536.4" r="4.2" fill="#0505e8"/>
<circle cx="1706.4" cy="1555.4" r="4.2" fill="#0505e8"/>
<circle cx="1704.6" cy="1577.2" r="4.2" fill="#0505e8"/>
<circle cx="1704.6" cy="1593.5" r="4.2" fill="#0505e8"/>
<circle cx="1704.6" cy="1610.7" r="4.2" fill="#0505e8"/>
<circle cx="1704.6" cy="1629.7" r="4.2" fill="#0505e8"/>
<circle cx="1704.6" cy="1648.7" r="4.2" fill="#0505e8"/>
<circle cx="1703.7" cy="1665.9" r="4.2" fill="#0505e8"/>
<circle cx="1704.6" cy="1684.0" r="4.2" fill="#0505e8"/>
<circle cx="1704.6" cy="1705.7" r="4.2" fill="#0505e8"/>
<circle cx="1704.6" cy="1723.8" r="4.2" fill="#0505e8"/>
<circle cx="1704.6" cy="1742.0" r="4.2" fill="#0505e8"/>
<circle cx="1704.6" cy="1761.0" r="4.2" fill="#0505e8"/>
<circle cx="1709.1" cy="1780.9" r="4.2" fill="#0505e8"/>
<circle cx="1704.6" cy="1792.7" r="4.2" fill="#0505e8"/>
<polyline points="1821.4,1170.7 1891.1,1167.0 1878.5,1169.8 1838.6,1173.4 1873.0,1172.5 1844.1,1177.9 1864.0,1177.0 1835.0,1177.0 1842.2,1184.2 2001.6,1189.7 1732.7,1192.4 1927.4,1191.5 1883.9,1198.7 1830.5,1202.4 1864.0,1201.4 1854.9,1208.7 1826.9,1215.0 1850.4,1225.0 1795.2,1234.9 1796.1,1243.1 1895.7,1255.8 1966.3,1268.5 1833.2,1273.0 1801.5,1285.7 1917.4,1301.0 1789.7,1318.2 1841.3,1334.5 1809.7,1349.9 1747.2,1366.2 1776.2,1382.5 1754.4,1398.8 1749.9,1415.1 1783.4,1431.4 1787.0,1447.7 1778.0,1464.0 1768.0,1480.3 1739.9,1496.6 1787.9,1512.9 1773.4,1528.2 1741.7,1544.5 1745.4,1559.0 1730.9,1577.2 1736.3,1593.5 1727.3,1609.8 1735.4,1626.1 1741.7,1642.4 1730.9,1658.7 1720.0,1674.9 1706.4,1690.3 1721.8,1707.5 1720.0,1723.8 1720.0,1740.1 1709.1,1756.4 1706.4,1771.8 1762.6,1788.1" fill="none" stroke="#f20808" stroke-width="2.5" stroke-linejoin="round"/>
<circle cx="1821.4" cy="1170.7" r="3.8" fill="#f20808"/>
<circle cx="1891.1" cy="1167.0" r="3.8" fill="#f20808"/>
<circle cx="1878.5" cy="1169.8" r="3.8" fill="#f20808"/>
<circle cx="1838.6" cy="1173.4" r="3.8" fill="#f20808"/>
<circle cx="1873.0" cy="1172.5" r="3.8" fill="#f20808"/>
<circle cx="1844.1" cy="1177.9" r="3.8" fill="#f20808"/>
<circle cx="1864.0" cy="1177.0" r="3.8" fill="#f20808"/>
<circle cx="1835.0" cy="1177.0" r="3.8" fill="#f20808"/>
<circle cx="1842.2" cy="1184.2" r="3.8" fill="#f20808"/>
<circle cx="2001.6" cy="1189.7" r="3.8" fill="#f20808"/>
<circle cx="1732.7" cy="1192.4" r="3.8" fill="#f20808"/>
<circle cx="1927.4" cy="1191.5" r="3.8" fill="#f20808"/>
<circle cx="1883.9" cy="1198.7" r="3.8" fill="#f20808"/>
<circle cx="1830.5" cy="1202.4" r="3.8" fill="#f20808"/>
<circle cx="1864.0" cy="1201.4" r="3.8" fill="#f20808"/>
<circle cx="1854.9" cy="1208.7" r="3.8" fill="#f20808"/>
<circle cx="1826.9" cy="1215.0" r="3.8" fill="#f20808"/>
<circle cx="1850.4" cy="1225.0" r="3.8" fill="#f20808"/>
<circle cx="1795.2" cy="1234.9" r="3.8" fill="#f20808"/>
<circle cx="1796.1" cy="1243.1" r="3.8" fill="#f20808"/>
<circle cx="1895.7" cy="1255.8" r="3.8" fill="#f20808"/>
<circle cx="1966.3" cy="1268.5" r="3.8" fill="#f20808"/>
<circle cx="1833.2" cy="1273.0" r="3.8" fill="#f20808"/>
<circle cx="1801.5" cy="1285.7" r="3.8" fill="#f20808"/>
<circle cx="1917.4" cy="1301.0" r="3.8" fill="#f20808"/>
<circle cx="1789.7" cy="1318.2" r="3.8" fill="#f20808"/>
<circle cx="1841.3" cy="1334.5" r="3.8" fill="#f20808"/>
<circle cx="1809.7" cy="1349.9" r="3.8" fill="#f20808"/>
<circle cx="1747.2" cy="1366.2" r="3.8" fill="#f20808"/>
<circle cx="1776.2" cy="1382.5" r="3.8" fill="#f20808"/>
<circle cx="1754.4" cy="1398.8" r="3.8" fill="#f20808"/>
<circle cx="1749.9" cy="1415.1" r="3.8" fill="#f20808"/>
<circle cx="1783.4" cy="1431.4" r="3.8" fill="#f20808"/>
<circle cx="1787.0" cy="1447.7" r="3.8" fill="#f20808"/>
<circle cx="1778.0" cy="1464.0" r="3.8" fill="#f20808"/>
<circle cx="1768.0" cy="1480.3" r="3.8" fill="#f20808"/>
<circle cx="1739.9" cy="1496.6" r="3.8" fill="#f20808"/>
<circle cx="1787.9" cy="1512.9" r="3.8" fill="#f20808"/>
<circle cx="1773.4" cy="1528.2" r="3.8" fill="#f20808"/>
<circle cx="1741.7" cy="1544.5" r="3.8" fill="#f20808"/>
<circle cx="1745.4" cy="1559.0" r="3.8" fill="#f20808"/>
<circle cx="1730.9" cy="1577.2" r="3.8" fill="#f20808"/>
<circle cx="1736.3" cy="1593.5" r="3.8" fill="#f20808"/>
<circle cx="1727.3" cy="1609.8" r="3.8" fill="#f20808"/>
<circle cx="1735.4" cy="1626.1" r="3.8" fill="#f20808"/>
<circle cx="1741.7" cy="1642.4" r="3.8" fill="#f20808"/>
<circle cx="1730.9" cy="1658.7" r="3.8" fill="#f20808"/>
<circle cx="1720.0" cy="1674.9" r="3.8" fill="#f20808"/>
<circle cx="1706.4" cy="1690.3" r="3.8" fill="#f20808"/>
<circle cx="1721.8" cy="1707.5" r="3.8" fill="#f20808"/>
<circle cx="1720.0" cy="1723.8" r="3.8" fill="#f20808"/>
<circle cx="1720.0" cy="1740.1" r="3.8" fill="#f20808"/>
<circle cx="1709.1" cy="1756.4" r="3.8" fill="#f20808"/>
<circle cx="1706.4" cy="1771.8" r="3.8" fill="#f20808"/>
<circle cx="1762.6" cy="1788.1" r="3.8" fill="#f20808"/>
<line x1="146.8" y1="148.8" x2="146.8" y2="843.4" stroke="#000" stroke-width="3.5"/>
<line x1="133.3" y1="150.6" x2="146.8" y2="150.6" stroke="#000" stroke-width="3.5"/>
<text x="124.8" y="158.8" font-size="32" text-anchor="end" fill="#000" >2050</text>
<line x1="139.8" y1="189.0" x2="146.8" y2="189.0" stroke="#000" stroke-width="3.5"/>
<line x1="133.3" y1="227.4" x2="146.8" y2="227.4" stroke="#000" stroke-width="3.5"/>
<text x="124.8" y="235.6" font-size="32" text-anchor="end" fill="#000" >2000</text>
<line x1="139.8" y1="265.8" x2="146.8" y2="265.8" stroke="#000" stroke-width="3.5"/>
<line x1="133.3" y1="304.2" x2="146.8" y2="304.2" stroke="#000" stroke-width="3.5"/>
<text x="124.8" y="312.4" font-size="32" text-anchor="end" fill="#000" >1950</text>
<line x1="139.8" y1="342.5" x2="146.8" y2="342.5" stroke="#000" stroke-width="3.5"/>
<line x1="133.3" y1="380.9" x2="146.8" y2="380.9" stroke="#000" stroke-width="3.5"/>
<text x="124.8" y="389.1" font-size="32" text-anchor="end" fill="#000" >1900</text>
<line x1="139.8" y1="419.3" x2="146.8" y2="419.3" stroke="#000" stroke-width="3.5"/>
<line x1="133.3" y1="457.7" x2="146.8" y2="457.7" stroke="#000" stroke-width="3.5"/>
<text x="124.8" y="465.9" font-size="32" text-anchor="end" fill="#000" >1850</text>
<line x1="139.8" y1="496.1" x2="146.8" y2="496.1" stroke="#000" stroke-width="3.5"/>
<line x1="133.3" y1="534.5" x2="146.8" y2="534.5" stroke="#000" stroke-width="3.5"/>
<text x="124.8" y="542.7" font-size="32" text-anchor="end" fill="#000" >1800</text>
<line x1="139.8" y1="572.9" x2="146.8" y2="572.9" stroke="#000" stroke-width="3.5"/>
<line x1="133.3" y1="611.3" x2="146.8" y2="611.3" stroke="#000" stroke-width="3.5"/>
<text x="124.8" y="619.5" font-size="32" text-anchor="end" fill="#000" >1750</text>
<line x1="139.8" y1="649.7" x2="146.8" y2="649.7" stroke="#000" stroke-width="3.5"/>
<line x1="133.3" y1="688.0" x2="146.8" y2="688.0" stroke="#000" stroke-width="3.5"/>
<text x="124.8" y="696.2" font-size="32" text-anchor="end" fill="#000" >1700</text>
<line x1="139.8" y1="726.4" x2="146.8" y2="726.4" stroke="#000" stroke-width="3.5"/>
<line x1="133.3" y1="764.8" x2="146.8" y2="764.8" stroke="#000" stroke-width="3.5"/>
<text x="124.8" y="773.0" font-size="32" text-anchor="end" fill="#000" >1650</text>
<line x1="139.8" y1="803.2" x2="146.8" y2="803.2" stroke="#000" stroke-width="3.5"/>
<line x1="133.3" y1="841.6" x2="146.8" y2="841.6" stroke="#000" stroke-width="3.5"/>
<text x="124.8" y="849.8" font-size="32" text-anchor="end" fill="#000" >1600</text>
<line x1="133.3" y1="841.6" x2="506.5" y2="841.6" stroke="#000" stroke-width="3.5"/>
<line x1="146.8" y1="841.6" x2="506.5" y2="841.6" stroke="#000" stroke-width="3.5"/>
<line x1="146.8" y1="841.6" x2="146.8" y2="855.1" stroke="#000" stroke-width="3.5"/>
<text x="145.8" y="888.7" font-size="32" text-anchor="middle" fill="#000" >0.0</text>
<line x1="218.7" y1="841.6" x2="218.7" y2="848.6" stroke="#000" stroke-width="3.5"/>
<line x1="290.7" y1="841.6" x2="290.7" y2="855.1" stroke="#000" stroke-width="3.5"/>
<text x="289.7" y="888.7" font-size="32" text-anchor="middle" fill="#000" >0.8</text>
<line x1="362.6" y1="841.6" x2="362.6" y2="848.6" stroke="#000" stroke-width="3.5"/>
<line x1="434.6" y1="841.6" x2="434.6" y2="855.1" stroke="#000" stroke-width="3.5"/>
<text x="433.6" y="888.7" font-size="32" text-anchor="middle" fill="#000" >1.6</text>
<line x1="506.5" y1="841.6" x2="506.5" y2="848.6" stroke="#000" stroke-width="3.5"/>
<line x1="527.4" y1="148.8" x2="527.4" y2="843.4" stroke="#000" stroke-width="3.5"/>
<line x1="513.9" y1="150.6" x2="527.4" y2="150.6" stroke="#000" stroke-width="3.5"/>
<line x1="520.4" y1="189.0" x2="527.4" y2="189.0" stroke="#000" stroke-width="3.5"/>
<line x1="513.9" y1="227.4" x2="527.4" y2="227.4" stroke="#000" stroke-width="3.5"/>
<line x1="520.4" y1="265.8" x2="527.4" y2="265.8" stroke="#000" stroke-width="3.5"/>
<line x1="513.9" y1="304.2" x2="527.4" y2="304.2" stroke="#000" stroke-width="3.5"/>
<line x1="520.4" y1="342.5" x2="527.4" y2="342.5" stroke="#000" stroke-width="3.5"/>
<line x1="513.9" y1="380.9" x2="527.4" y2="380.9" stroke="#000" stroke-width="3.5"/>
<line x1="520.4" y1="419.3" x2="527.4" y2="419.3" stroke="#000" stroke-width="3.5"/>
<line x1="513.9" y1="457.7" x2="527.4" y2="457.7" stroke="#000" stroke-width="3.5"/>
<line x1="520.4" y1="496.1" x2="527.4" y2="496.1" stroke="#000" stroke-width="3.5"/>
<line x1="513.9" y1="534.5" x2="527.4" y2="534.5" stroke="#000" stroke-width="3.5"/>
<line x1="520.4" y1="572.9" x2="527.4" y2="572.9" stroke="#000" stroke-width="3.5"/>
<line x1="513.9" y1="611.3" x2="527.4" y2="611.3" stroke="#000" stroke-width="3.5"/>
<line x1="520.4" y1="649.7" x2="527.4" y2="649.7" stroke="#000" stroke-width="3.5"/>
<line x1="513.9" y1="688.0" x2="527.4" y2="688.0" stroke="#000" stroke-width="3.5"/>
<line x1="520.4" y1="726.4" x2="527.4" y2="726.4" stroke="#000" stroke-width="3.5"/>
<line x1="513.9" y1="764.8" x2="527.4" y2="764.8" stroke="#000" stroke-width="3.5"/>
<line x1="520.4" y1="803.2" x2="527.4" y2="803.2" stroke="#000" stroke-width="3.5"/>
<line x1="513.9" y1="841.6" x2="527.4" y2="841.6" stroke="#000" stroke-width="3.5"/>
<line x1="513.9" y1="841.6" x2="886.6" y2="841.6" stroke="#000" stroke-width="3.5"/>
<line x1="527.4" y1="841.6" x2="886.6" y2="841.6" stroke="#000" stroke-width="3.5"/>
<line x1="527.4" y1="841.6" x2="527.4" y2="855.1" stroke="#000" stroke-width="3.5"/>
<text x="526.4" y="888.7" font-size="32" text-anchor="middle" fill="#000" >0.00</text>
<line x1="594.8" y1="841.6" x2="594.8" y2="848.6" stroke="#000" stroke-width="3.5"/>
<line x1="662.1" y1="841.6" x2="662.1" y2="855.1" stroke="#000" stroke-width="3.5"/>
<text x="661.1" y="888.7" font-size="32" text-anchor="middle" fill="#000" >0.03</text>
<line x1="729.5" y1="841.6" x2="729.5" y2="848.6" stroke="#000" stroke-width="3.5"/>
<line x1="796.8" y1="841.6" x2="796.8" y2="855.1" stroke="#000" stroke-width="3.5"/>
<text x="795.8" y="888.7" font-size="32" text-anchor="middle" fill="#000" >0.06</text>
<line x1="864.2" y1="841.6" x2="864.2" y2="848.6" stroke="#000" stroke-width="3.5"/>
<line x1="917.4" y1="148.8" x2="917.4" y2="843.4" stroke="#000" stroke-width="3.5"/>
<line x1="903.9" y1="150.6" x2="917.4" y2="150.6" stroke="#000" stroke-width="3.5"/>
<line x1="910.4" y1="189.0" x2="917.4" y2="189.0" stroke="#000" stroke-width="3.5"/>
<line x1="903.9" y1="227.4" x2="917.4" y2="227.4" stroke="#000" stroke-width="3.5"/>
<line x1="910.4" y1="265.8" x2="917.4" y2="265.8" stroke="#000" stroke-width="3.5"/>
<line x1="903.9" y1="304.2" x2="917.4" y2="304.2" stroke="#000" stroke-width="3.5"/>
<line x1="910.4" y1="342.5" x2="917.4" y2="342.5" stroke="#000" stroke-width="3.5"/>
<line x1="903.9" y1="380.9" x2="917.4" y2="380.9" stroke="#000" stroke-width="3.5"/>
<line x1="910.4" y1="419.3" x2="917.4" y2="419.3" stroke="#000" stroke-width="3.5"/>
<line x1="903.9" y1="457.7" x2="917.4" y2="457.7" stroke="#000" stroke-width="3.5"/>
<line x1="910.4" y1="496.1" x2="917.4" y2="496.1" stroke="#000" stroke-width="3.5"/>
<line x1="903.9" y1="534.5" x2="917.4" y2="534.5" stroke="#000" stroke-width="3.5"/>
<line x1="910.4" y1="572.9" x2="917.4" y2="572.9" stroke="#000" stroke-width="3.5"/>
<line x1="903.9" y1="611.3" x2="917.4" y2="611.3" stroke="#000" stroke-width="3.5"/>
<line x1="910.4" y1="649.7" x2="917.4" y2="649.7" stroke="#000" stroke-width="3.5"/>
<line x1="903.9" y1="688.0" x2="917.4" y2="688.0" stroke="#000" stroke-width="3.5"/>
<line x1="910.4" y1="726.4" x2="917.4" y2="726.4" stroke="#000" stroke-width="3.5"/>
<line x1="903.9" y1="764.8" x2="917.4" y2="764.8" stroke="#000" stroke-width="3.5"/>
<line x1="910.4" y1="803.2" x2="917.4" y2="803.2" stroke="#000" stroke-width="3.5"/>
<line x1="903.9" y1="841.6" x2="917.4" y2="841.6" stroke="#000" stroke-width="3.5"/>
<line x1="903.9" y1="841.6" x2="1277.0" y2="841.6" stroke="#000" stroke-width="3.5"/>
<line x1="917.4" y1="841.6" x2="1277.0" y2="841.6" stroke="#000" stroke-width="3.5"/>
<line x1="917.4" y1="841.6" x2="917.4" y2="855.1" stroke="#000" stroke-width="3.5"/>
<text x="915.9" y="886.7" font-size="32" text-anchor="middle" fill="#000" >0</text>
<line x1="989.3" y1="841.6" x2="989.3" y2="848.6" stroke="#000" stroke-width="3.5"/>
<line x1="1061.2" y1="841.6" x2="1061.2" y2="855.1" stroke="#000" stroke-width="3.5"/>
<text x="1059.7" y="886.7" font-size="32" text-anchor="middle" fill="#000" >2</text>
<line x1="1133.2" y1="841.6" x2="1133.2" y2="848.6" stroke="#000" stroke-width="3.5"/>
<line x1="1205.1" y1="841.6" x2="1205.1" y2="855.1" stroke="#000" stroke-width="3.5"/>
<text x="1203.6" y="886.7" font-size="32" text-anchor="middle" fill="#000" >4</text>
<line x1="1277.0" y1="841.6" x2="1277.0" y2="848.6" stroke="#000" stroke-width="3.5"/>
<line x1="1309.8" y1="148.8" x2="1309.8" y2="843.4" stroke="#000" stroke-width="3.5"/>
<line x1="1296.3" y1="150.6" x2="1309.8" y2="150.6" stroke="#000" stroke-width="3.5"/>
<line x1="1302.8" y1="189.0" x2="1309.8" y2="189.0" stroke="#000" stroke-width="3.5"/>
<line x1="1296.3" y1="227.4" x2="1309.8" y2="227.4" stroke="#000" stroke-width="3.5"/>
<line x1="1302.8" y1="265.8" x2="1309.8" y2="265.8" stroke="#000" stroke-width="3.5"/>
<line x1="1296.3" y1="304.2" x2="1309.8" y2="304.2" stroke="#000" stroke-width="3.5"/>
<line x1="1302.8" y1="342.5" x2="1309.8" y2="342.5" stroke="#000" stroke-width="3.5"/>
<line x1="1296.3" y1="380.9" x2="1309.8" y2="380.9" stroke="#000" stroke-width="3.5"/>
<line x1="1302.8" y1="419.3" x2="1309.8" y2="419.3" stroke="#000" stroke-width="3.5"/>
<line x1="1296.3" y1="457.7" x2="1309.8" y2="457.7" stroke="#000" stroke-width="3.5"/>
<line x1="1302.8" y1="496.1" x2="1309.8" y2="496.1" stroke="#000" stroke-width="3.5"/>
<line x1="1296.3" y1="534.5" x2="1309.8" y2="534.5" stroke="#000" stroke-width="3.5"/>
<line x1="1302.8" y1="572.9" x2="1309.8" y2="572.9" stroke="#000" stroke-width="3.5"/>
<line x1="1296.3" y1="611.3" x2="1309.8" y2="611.3" stroke="#000" stroke-width="3.5"/>
<line x1="1302.8" y1="649.7" x2="1309.8" y2="649.7" stroke="#000" stroke-width="3.5"/>
<line x1="1296.3" y1="688.0" x2="1309.8" y2="688.0" stroke="#000" stroke-width="3.5"/>
<line x1="1302.8" y1="726.4" x2="1309.8" y2="726.4" stroke="#000" stroke-width="3.5"/>
<line x1="1296.3" y1="764.8" x2="1309.8" y2="764.8" stroke="#000" stroke-width="3.5"/>
<line x1="1302.8" y1="803.2" x2="1309.8" y2="803.2" stroke="#000" stroke-width="3.5"/>
<line x1="1296.3" y1="841.6" x2="1309.8" y2="841.6" stroke="#000" stroke-width="3.5"/>
<line x1="1296.3" y1="841.6" x2="1671.0" y2="841.6" stroke="#000" stroke-width="3.5"/>
<line x1="1309.8" y1="841.6" x2="1671.0" y2="841.6" stroke="#000" stroke-width="3.5"/>
<line x1="1309.8" y1="841.6" x2="1309.8" y2="855.1" stroke="#000" stroke-width="3.5"/>
<text transform="translate(1308.8,885.3) scale(0.86,1)" x="0" y="0" font-size="30" text-anchor="middle" fill="#000">0</text>
<line x1="1377.1" y1="841.6" x2="1377.1" y2="848.6" stroke="#000" stroke-width="3.5"/>
<line x1="1444.5" y1="841.6" x2="1444.5" y2="855.1" stroke="#000" stroke-width="3.5"/>
<text transform="translate(1443.5,885.3) scale(0.86,1)" x="0" y="0" font-size="30" text-anchor="middle" fill="#000">600</text>
<line x1="1511.8" y1="841.6" x2="1511.8" y2="848.6" stroke="#000" stroke-width="3.5"/>
<line x1="1579.2" y1="841.6" x2="1579.2" y2="855.1" stroke="#000" stroke-width="3.5"/>
<text transform="translate(1578.2,885.3) scale(0.86,1)" x="0" y="0" font-size="30" text-anchor="middle" fill="#000">1200</text>
<line x1="1646.5" y1="841.6" x2="1646.5" y2="848.6" stroke="#000" stroke-width="3.5"/>
<line x1="1296.3" y1="150.6" x2="1309.8" y2="150.6" stroke="#000" stroke-width="3.5"/>
<line x1="1309.8" y1="150.6" x2="1671.0" y2="150.6" stroke="#ff0d0d" stroke-width="3.5"/>
<line x1="1309.8" y1="150.6" x2="1309.8" y2="164.1" stroke="#ff0d0d" stroke-width="3.5"/>
<text x="1309.8" y="129.0" font-size="27.5" text-anchor="middle" fill="#bc1230" >0</text>
<line x1="1375.5" y1="150.6" x2="1375.5" y2="157.6" stroke="#ff0d0d" stroke-width="3.5"/>
<line x1="1441.1" y1="150.6" x2="1441.1" y2="164.1" stroke="#ff0d0d" stroke-width="3.5"/>
<text x="1441.1" y="129.0" font-size="27.5" text-anchor="middle" fill="#bc1230" >40</text>
<line x1="1506.8" y1="150.6" x2="1506.8" y2="157.6" stroke="#ff0d0d" stroke-width="3.5"/>
<line x1="1572.5" y1="150.6" x2="1572.5" y2="164.1" stroke="#ff0d0d" stroke-width="3.5"/>
<text x="1572.5" y="129.0" font-size="27.5" text-anchor="middle" fill="#bc1230" >80</text>
<line x1="1638.2" y1="150.6" x2="1638.2" y2="157.6" stroke="#ff0d0d" stroke-width="3.5"/>
<line x1="1699.3" y1="148.8" x2="1699.3" y2="843.4" stroke="#000" stroke-width="3.5"/>
<line x1="1685.8" y1="150.6" x2="1699.3" y2="150.6" stroke="#000" stroke-width="3.5"/>
<line x1="1692.3" y1="186.8" x2="1699.3" y2="186.8" stroke="#000" stroke-width="3.5"/>
<line x1="1685.8" y1="222.9" x2="1699.3" y2="222.9" stroke="#000" stroke-width="3.5"/>
<line x1="1692.3" y1="259.0" x2="1699.3" y2="259.0" stroke="#000" stroke-width="3.5"/>
<line x1="1685.8" y1="295.2" x2="1699.3" y2="295.2" stroke="#000" stroke-width="3.5"/>
<line x1="1692.3" y1="331.4" x2="1699.3" y2="331.4" stroke="#000" stroke-width="3.5"/>
<line x1="1685.8" y1="367.5" x2="1699.3" y2="367.5" stroke="#000" stroke-width="3.5"/>
<line x1="1692.3" y1="403.6" x2="1699.3" y2="403.6" stroke="#000" stroke-width="3.5"/>
<line x1="1685.8" y1="439.8" x2="1699.3" y2="439.8" stroke="#000" stroke-width="3.5"/>
<line x1="1692.3" y1="475.9" x2="1699.3" y2="475.9" stroke="#000" stroke-width="3.5"/>
<line x1="1685.8" y1="512.1" x2="1699.3" y2="512.1" stroke="#000" stroke-width="3.5"/>
<line x1="1692.3" y1="548.2" x2="1699.3" y2="548.2" stroke="#000" stroke-width="3.5"/>
<line x1="1685.8" y1="584.4" x2="1699.3" y2="584.4" stroke="#000" stroke-width="3.5"/>
<line x1="1692.3" y1="620.5" x2="1699.3" y2="620.5" stroke="#000" stroke-width="3.5"/>
<line x1="1685.8" y1="656.7" x2="1699.3" y2="656.7" stroke="#000" stroke-width="3.5"/>
<line x1="1692.3" y1="692.9" x2="1699.3" y2="692.9" stroke="#000" stroke-width="3.5"/>
<line x1="1685.8" y1="729.0" x2="1699.3" y2="729.0" stroke="#000" stroke-width="3.5"/>
<line x1="1692.3" y1="765.1" x2="1699.3" y2="765.1" stroke="#000" stroke-width="3.5"/>
<line x1="1685.8" y1="801.3" x2="1699.3" y2="801.3" stroke="#000" stroke-width="3.5"/>
<line x1="1692.3" y1="837.5" x2="1699.3" y2="837.5" stroke="#000" stroke-width="3.5"/>
<line x1="1697.5" y1="841.6" x2="2059.5" y2="841.6" stroke="#000" stroke-width="3.5"/>
<line x1="1699.3" y1="841.6" x2="2059.5" y2="841.6" stroke="#000" stroke-width="3.5"/>
<line x1="1699.3" y1="841.6" x2="1699.3" y2="855.1" stroke="#000" stroke-width="3.5"/>
<text x="1698.3" y="888.7" font-size="32" text-anchor="middle" fill="#000" >0</text>
<line x1="1750.8" y1="841.6" x2="1750.8" y2="848.6" stroke="#000" stroke-width="3.5"/>
<line x1="1802.2" y1="841.6" x2="1802.2" y2="855.1" stroke="#000" stroke-width="3.5"/>
<text x="1801.2" y="888.7" font-size="32" text-anchor="middle" fill="#000" >20</text>
<line x1="1853.7" y1="841.6" x2="1853.7" y2="848.6" stroke="#000" stroke-width="3.5"/>
<line x1="1905.1" y1="841.6" x2="1905.1" y2="855.1" stroke="#000" stroke-width="3.5"/>
<text x="1904.1" y="888.7" font-size="32" text-anchor="middle" fill="#000" >40</text>
<line x1="1956.6" y1="841.6" x2="1956.6" y2="848.6" stroke="#000" stroke-width="3.5"/>
<line x1="2008.0" y1="841.6" x2="2008.0" y2="855.1" stroke="#000" stroke-width="3.5"/>
<text x="2007.0" y="888.7" font-size="32" text-anchor="middle" fill="#000" >60</text>
<line x1="2059.5" y1="841.6" x2="2059.5" y2="848.6" stroke="#000" stroke-width="3.5"/>
<line x1="1685.8" y1="150.6" x2="1699.3" y2="150.6" stroke="#000" stroke-width="3.5"/>
<line x1="1699.3" y1="150.6" x2="2059.5" y2="150.6" stroke="#ff0d0d" stroke-width="3.5"/>
<line x1="1699.3" y1="150.6" x2="1699.3" y2="164.1" stroke="#ff0d0d" stroke-width="3.5"/>
<text x="1699.3" y="129.0" font-size="27.5" text-anchor="middle" fill="#bc1230" >0</text>
<line x1="1744.3" y1="150.6" x2="1744.3" y2="157.6" stroke="#ff0d0d" stroke-width="3.5"/>
<line x1="1789.3" y1="150.6" x2="1789.3" y2="164.1" stroke="#ff0d0d" stroke-width="3.5"/>
<text x="1789.3" y="129.0" font-size="27.5" text-anchor="middle" fill="#bc1230" >1</text>
<line x1="1834.4" y1="150.6" x2="1834.4" y2="157.6" stroke="#ff0d0d" stroke-width="3.5"/>
<line x1="1879.4" y1="150.6" x2="1879.4" y2="164.1" stroke="#ff0d0d" stroke-width="3.5"/>
<text x="1879.4" y="129.0" font-size="27.5" text-anchor="middle" fill="#bc1230" >2</text>
<line x1="1924.4" y1="150.6" x2="1924.4" y2="157.6" stroke="#ff0d0d" stroke-width="3.5"/>
<line x1="1969.5" y1="150.6" x2="1969.5" y2="164.1" stroke="#ff0d0d" stroke-width="3.5"/>
<text x="1969.5" y="129.0" font-size="27.5" text-anchor="middle" fill="#bc1230" >3</text>
<line x1="2014.5" y1="150.6" x2="2014.5" y2="157.6" stroke="#ff0d0d" stroke-width="3.5"/>
<line x1="2059.5" y1="150.6" x2="2059.5" y2="164.1" stroke="#ff0d0d" stroke-width="3.5"/>
<text x="2059.5" y="129.0" font-size="27.5" text-anchor="middle" fill="#bc1230" >4</text>
<line x1="155.0" y1="1104.5" x2="155.0" y2="1799.2" stroke="#000" stroke-width="3.5"/>
<line x1="141.5" y1="1106.2" x2="155.0" y2="1106.2" stroke="#000" stroke-width="3.5"/>
<text x="133.0" y="1114.4" font-size="32" text-anchor="end" fill="#000" >2050</text>
<line x1="148.0" y1="1144.6" x2="155.0" y2="1144.6" stroke="#000" stroke-width="3.5"/>
<line x1="141.5" y1="1183.0" x2="155.0" y2="1183.0" stroke="#000" stroke-width="3.5"/>
<text x="133.0" y="1191.2" font-size="32" text-anchor="end" fill="#000" >2000</text>
<line x1="148.0" y1="1221.4" x2="155.0" y2="1221.4" stroke="#000" stroke-width="3.5"/>
<line x1="141.5" y1="1259.8" x2="155.0" y2="1259.8" stroke="#000" stroke-width="3.5"/>
<text x="133.0" y="1268.0" font-size="32" text-anchor="end" fill="#000" >1950</text>
<line x1="148.0" y1="1298.2" x2="155.0" y2="1298.2" stroke="#000" stroke-width="3.5"/>
<line x1="141.5" y1="1336.6" x2="155.0" y2="1336.6" stroke="#000" stroke-width="3.5"/>
<text x="133.0" y="1344.8" font-size="32" text-anchor="end" fill="#000" >1900</text>
<line x1="148.0" y1="1375.0" x2="155.0" y2="1375.0" stroke="#000" stroke-width="3.5"/>
<line x1="141.5" y1="1413.4" x2="155.0" y2="1413.4" stroke="#000" stroke-width="3.5"/>
<text x="133.0" y="1421.6" font-size="32" text-anchor="end" fill="#000" >1850</text>
<line x1="148.0" y1="1451.8" x2="155.0" y2="1451.8" stroke="#000" stroke-width="3.5"/>
<line x1="141.5" y1="1490.3" x2="155.0" y2="1490.3" stroke="#000" stroke-width="3.5"/>
<text x="133.0" y="1498.5" font-size="32" text-anchor="end" fill="#000" >1800</text>
<line x1="148.0" y1="1528.7" x2="155.0" y2="1528.7" stroke="#000" stroke-width="3.5"/>
<line x1="141.5" y1="1567.1" x2="155.0" y2="1567.1" stroke="#000" stroke-width="3.5"/>
<text x="133.0" y="1575.3" font-size="32" text-anchor="end" fill="#000" >1750</text>
<line x1="148.0" y1="1605.5" x2="155.0" y2="1605.5" stroke="#000" stroke-width="3.5"/>
<line x1="141.5" y1="1643.9" x2="155.0" y2="1643.9" stroke="#000" stroke-width="3.5"/>
<text x="133.0" y="1652.1" font-size="32" text-anchor="end" fill="#000" >1700</text>
<line x1="148.0" y1="1682.3" x2="155.0" y2="1682.3" stroke="#000" stroke-width="3.5"/>
<line x1="141.5" y1="1720.7" x2="155.0" y2="1720.7" stroke="#000" stroke-width="3.5"/>
<text x="133.0" y="1728.9" font-size="32" text-anchor="end" fill="#000" >1650</text>
<line x1="148.0" y1="1759.1" x2="155.0" y2="1759.1" stroke="#000" stroke-width="3.5"/>
<line x1="141.5" y1="1797.5" x2="155.0" y2="1797.5" stroke="#000" stroke-width="3.5"/>
<text x="133.0" y="1805.7" font-size="32" text-anchor="end" fill="#000" >1600</text>
<line x1="141.5" y1="1797.5" x2="517.0" y2="1797.5" stroke="#000" stroke-width="3.5"/>
<line x1="155.0" y1="1797.5" x2="517.0" y2="1797.5" stroke="#000" stroke-width="3.5"/>
<line x1="155.0" y1="1797.5" x2="155.0" y2="1811.0" stroke="#000" stroke-width="3.5"/>
<text x="154.0" y="1842.0" font-size="31" text-anchor="middle" fill="#000" >0.0</text>
<line x1="217.7" y1="1797.5" x2="217.7" y2="1804.5" stroke="#000" stroke-width="3.5"/>
<line x1="280.4" y1="1797.5" x2="280.4" y2="1811.0" stroke="#000" stroke-width="3.5"/>
<text x="279.4" y="1842.0" font-size="31" text-anchor="middle" fill="#000" >0.4</text>
<line x1="343.1" y1="1797.5" x2="343.1" y2="1804.5" stroke="#000" stroke-width="3.5"/>
<line x1="405.7" y1="1797.5" x2="405.7" y2="1811.0" stroke="#000" stroke-width="3.5"/>
<text x="404.7" y="1842.0" font-size="31" text-anchor="middle" fill="#000" >0.8</text>
<line x1="468.4" y1="1797.5" x2="468.4" y2="1804.5" stroke="#000" stroke-width="3.5"/>
<line x1="545.5" y1="1104.5" x2="545.5" y2="1799.2" stroke="#000" stroke-width="3.5"/>
<line x1="532.0" y1="1106.2" x2="545.5" y2="1106.2" stroke="#000" stroke-width="3.5"/>
<line x1="538.5" y1="1144.6" x2="545.5" y2="1144.6" stroke="#000" stroke-width="3.5"/>
<line x1="532.0" y1="1183.0" x2="545.5" y2="1183.0" stroke="#000" stroke-width="3.5"/>
<line x1="538.5" y1="1221.4" x2="545.5" y2="1221.4" stroke="#000" stroke-width="3.5"/>
<line x1="532.0" y1="1259.8" x2="545.5" y2="1259.8" stroke="#000" stroke-width="3.5"/>
<line x1="538.5" y1="1298.2" x2="545.5" y2="1298.2" stroke="#000" stroke-width="3.5"/>
<line x1="532.0" y1="1336.6" x2="545.5" y2="1336.6" stroke="#000" stroke-width="3.5"/>
<line x1="538.5" y1="1375.0" x2="545.5" y2="1375.0" stroke="#000" stroke-width="3.5"/>
<line x1="532.0" y1="1413.4" x2="545.5" y2="1413.4" stroke="#000" stroke-width="3.5"/>
<line x1="538.5" y1="1451.8" x2="545.5" y2="1451.8" stroke="#000" stroke-width="3.5"/>
<line x1="532.0" y1="1490.3" x2="545.5" y2="1490.3" stroke="#000" stroke-width="3.5"/>
<line x1="538.5" y1="1528.7" x2="545.5" y2="1528.7" stroke="#000" stroke-width="3.5"/>
<line x1="532.0" y1="1567.1" x2="545.5" y2="1567.1" stroke="#000" stroke-width="3.5"/>
<line x1="538.5" y1="1605.5" x2="545.5" y2="1605.5" stroke="#000" stroke-width="3.5"/>
<line x1="532.0" y1="1643.9" x2="545.5" y2="1643.9" stroke="#000" stroke-width="3.5"/>
<line x1="538.5" y1="1682.3" x2="545.5" y2="1682.3" stroke="#000" stroke-width="3.5"/>
<line x1="532.0" y1="1720.7" x2="545.5" y2="1720.7" stroke="#000" stroke-width="3.5"/>
<line x1="538.5" y1="1759.1" x2="545.5" y2="1759.1" stroke="#000" stroke-width="3.5"/>
<line x1="532.0" y1="1797.5" x2="545.5" y2="1797.5" stroke="#000" stroke-width="3.5"/>
<line x1="532.0" y1="1797.5" x2="905.0" y2="1797.5" stroke="#000" stroke-width="3.5"/>
<line x1="545.5" y1="1797.5" x2="905.0" y2="1797.5" stroke="#000" stroke-width="3.5"/>
<line x1="545.5" y1="1797.5" x2="545.5" y2="1811.0" stroke="#000" stroke-width="3.5"/>
<text x="544.5" y="1846.5" font-size="32" text-anchor="middle" fill="#000" >0.00</text>
<line x1="609.1" y1="1797.5" x2="609.1" y2="1804.5" stroke="#000" stroke-width="3.5"/>
<line x1="672.6" y1="1797.5" x2="672.6" y2="1811.0" stroke="#000" stroke-width="3.5"/>
<text x="671.6" y="1846.5" font-size="32" text-anchor="middle" fill="#000" >0.06</text>
<line x1="736.2" y1="1797.5" x2="736.2" y2="1804.5" stroke="#000" stroke-width="3.5"/>
<line x1="799.7" y1="1797.5" x2="799.7" y2="1811.0" stroke="#000" stroke-width="3.5"/>
<text x="798.7" y="1846.5" font-size="32" text-anchor="middle" fill="#000" >0.12</text>
<line x1="863.3" y1="1797.5" x2="863.3" y2="1804.5" stroke="#000" stroke-width="3.5"/>
<line x1="927.0" y1="1104.5" x2="927.0" y2="1799.2" stroke="#000" stroke-width="3.5"/>
<line x1="913.5" y1="1106.2" x2="927.0" y2="1106.2" stroke="#000" stroke-width="3.5"/>
<line x1="920.0" y1="1144.6" x2="927.0" y2="1144.6" stroke="#000" stroke-width="3.5"/>
<line x1="913.5" y1="1183.0" x2="927.0" y2="1183.0" stroke="#000" stroke-width="3.5"/>
<line x1="920.0" y1="1221.4" x2="927.0" y2="1221.4" stroke="#000" stroke-width="3.5"/>
<line x1="913.5" y1="1259.8" x2="927.0" y2="1259.8" stroke="#000" stroke-width="3.5"/>
<line x1="920.0" y1="1298.2" x2="927.0" y2="1298.2" stroke="#000" stroke-width="3.5"/>
<line x1="913.5" y1="1336.6" x2="927.0" y2="1336.6" stroke="#000" stroke-width="3.5"/>
<line x1="920.0" y1="1375.0" x2="927.0" y2="1375.0" stroke="#000" stroke-width="3.5"/>
<line x1="913.5" y1="1413.4" x2="927.0" y2="1413.4" stroke="#000" stroke-width="3.5"/>
<line x1="920.0" y1="1451.8" x2="927.0" y2="1451.8" stroke="#000" stroke-width="3.5"/>
<line x1="913.5" y1="1490.3" x2="927.0" y2="1490.3" stroke="#000" stroke-width="3.5"/>
<line x1="920.0" y1="1528.7" x2="927.0" y2="1528.7" stroke="#000" stroke-width="3.5"/>
<line x1="913.5" y1="1567.1" x2="927.0" y2="1567.1" stroke="#000" stroke-width="3.5"/>
<line x1="920.0" y1="1605.5" x2="927.0" y2="1605.5" stroke="#000" stroke-width="3.5"/>
<line x1="913.5" y1="1643.9" x2="927.0" y2="1643.9" stroke="#000" stroke-width="3.5"/>
<line x1="920.0" y1="1682.3" x2="927.0" y2="1682.3" stroke="#000" stroke-width="3.5"/>
<line x1="913.5" y1="1720.7" x2="927.0" y2="1720.7" stroke="#000" stroke-width="3.5"/>
<line x1="920.0" y1="1759.1" x2="927.0" y2="1759.1" stroke="#000" stroke-width="3.5"/>
<line x1="913.5" y1="1797.5" x2="927.0" y2="1797.5" stroke="#000" stroke-width="3.5"/>
<line x1="913.5" y1="1797.5" x2="1288.5" y2="1797.5" stroke="#000" stroke-width="3.5"/>
<line x1="927.0" y1="1797.5" x2="1288.5" y2="1797.5" stroke="#000" stroke-width="3.5"/>
<line x1="927.0" y1="1797.5" x2="927.0" y2="1811.0" stroke="#000" stroke-width="3.5"/>
<text x="926.0" y="1846.5" font-size="32" text-anchor="middle" fill="#000" >0</text>
<line x1="999.3" y1="1797.5" x2="999.3" y2="1804.5" stroke="#000" stroke-width="3.5"/>
<line x1="1071.6" y1="1797.5" x2="1071.6" y2="1811.0" stroke="#000" stroke-width="3.5"/>
<text x="1070.6" y="1846.5" font-size="32" text-anchor="middle" fill="#000" >2</text>
<line x1="1143.9" y1="1797.5" x2="1143.9" y2="1804.5" stroke="#000" stroke-width="3.5"/>
<line x1="1216.2" y1="1797.5" x2="1216.2" y2="1811.0" stroke="#000" stroke-width="3.5"/>
<text x="1215.2" y="1846.5" font-size="32" text-anchor="middle" fill="#000" >4</text>
<line x1="1288.5" y1="1797.5" x2="1288.5" y2="1804.5" stroke="#000" stroke-width="3.5"/>
<line x1="1309.6" y1="1104.5" x2="1309.6" y2="1799.2" stroke="#000" stroke-width="3.5"/>
<line x1="1296.1" y1="1106.2" x2="1309.6" y2="1106.2" stroke="#000" stroke-width="3.5"/>
<line x1="1302.6" y1="1144.6" x2="1309.6" y2="1144.6" stroke="#000" stroke-width="3.5"/>
<line x1="1296.1" y1="1183.0" x2="1309.6" y2="1183.0" stroke="#000" stroke-width="3.5"/>
<line x1="1302.6" y1="1221.4" x2="1309.6" y2="1221.4" stroke="#000" stroke-width="3.5"/>
<line x1="1296.1" y1="1259.8" x2="1309.6" y2="1259.8" stroke="#000" stroke-width="3.5"/>
<line x1="1302.6" y1="1298.2" x2="1309.6" y2="1298.2" stroke="#000" stroke-width="3.5"/>
<line x1="1296.1" y1="1336.6" x2="1309.6" y2="1336.6" stroke="#000" stroke-width="3.5"/>
<line x1="1302.6" y1="1375.0" x2="1309.6" y2="1375.0" stroke="#000" stroke-width="3.5"/>
<line x1="1296.1" y1="1413.4" x2="1309.6" y2="1413.4" stroke="#000" stroke-width="3.5"/>
<line x1="1302.6" y1="1451.8" x2="1309.6" y2="1451.8" stroke="#000" stroke-width="3.5"/>
<line x1="1296.1" y1="1490.3" x2="1309.6" y2="1490.3" stroke="#000" stroke-width="3.5"/>
<line x1="1302.6" y1="1528.7" x2="1309.6" y2="1528.7" stroke="#000" stroke-width="3.5"/>
<line x1="1296.1" y1="1567.1" x2="1309.6" y2="1567.1" stroke="#000" stroke-width="3.5"/>
<line x1="1302.6" y1="1605.5" x2="1309.6" y2="1605.5" stroke="#000" stroke-width="3.5"/>
<line x1="1296.1" y1="1643.9" x2="1309.6" y2="1643.9" stroke="#000" stroke-width="3.5"/>
<line x1="1302.6" y1="1682.3" x2="1309.6" y2="1682.3" stroke="#000" stroke-width="3.5"/>
<line x1="1296.1" y1="1720.7" x2="1309.6" y2="1720.7" stroke="#000" stroke-width="3.5"/>
<line x1="1302.6" y1="1759.1" x2="1309.6" y2="1759.1" stroke="#000" stroke-width="3.5"/>
<line x1="1296.1" y1="1797.5" x2="1309.6" y2="1797.5" stroke="#000" stroke-width="3.5"/>
<line x1="1296.1" y1="1797.5" x2="1669.0" y2="1797.5" stroke="#000" stroke-width="3.5"/>
<line x1="1309.6" y1="1797.5" x2="1669.0" y2="1797.5" stroke="#000" stroke-width="3.5"/>
<line x1="1309.6" y1="1797.5" x2="1309.6" y2="1811.0" stroke="#000" stroke-width="3.5"/>
<text transform="translate(1308.6,1842.0) scale(0.95,1)" x="0" y="0" font-size="31" text-anchor="middle" fill="#000">0</text>
<line x1="1357.5" y1="1797.5" x2="1357.5" y2="1804.5" stroke="#000" stroke-width="3.5"/>
<line x1="1405.3" y1="1797.5" x2="1405.3" y2="1811.0" stroke="#000" stroke-width="3.5"/>
<text transform="translate(1404.3,1842.0) scale(0.95,1)" x="0" y="0" font-size="31" text-anchor="middle" fill="#000">400</text>
<line x1="1453.2" y1="1797.5" x2="1453.2" y2="1804.5" stroke="#000" stroke-width="3.5"/>
<line x1="1501.0" y1="1797.5" x2="1501.0" y2="1811.0" stroke="#000" stroke-width="3.5"/>
<text transform="translate(1500.0,1842.0) scale(0.95,1)" x="0" y="0" font-size="31" text-anchor="middle" fill="#000">800</text>
<line x1="1548.9" y1="1797.5" x2="1548.9" y2="1804.5" stroke="#000" stroke-width="3.5"/>
<line x1="1596.7" y1="1797.5" x2="1596.7" y2="1811.0" stroke="#000" stroke-width="3.5"/>
<text transform="translate(1595.7,1842.0) scale(0.95,1)" x="0" y="0" font-size="31" text-anchor="middle" fill="#000">1200</text>
<line x1="1644.6" y1="1797.5" x2="1644.6" y2="1804.5" stroke="#000" stroke-width="3.5"/>
<line x1="1296.1" y1="1106.2" x2="1309.6" y2="1106.2" stroke="#000" stroke-width="3.5"/>
<line x1="1309.6" y1="1106.2" x2="1669.0" y2="1106.2" stroke="#ff0d0d" stroke-width="3.5"/>
<line x1="1309.6" y1="1106.2" x2="1309.6" y2="1119.7" stroke="#ff0d0d" stroke-width="3.5"/>
<text x="1309.6" y="1082.3" font-size="30" text-anchor="middle" fill="#bc1230" >0</text>
<line x1="1352.7" y1="1106.2" x2="1352.7" y2="1113.2" stroke="#ff0d0d" stroke-width="3.5"/>
<line x1="1395.9" y1="1106.2" x2="1395.9" y2="1119.7" stroke="#ff0d0d" stroke-width="3.5"/>
<text x="1395.9" y="1082.3" font-size="30" text-anchor="middle" fill="#bc1230" >60</text>
<line x1="1439.0" y1="1106.2" x2="1439.0" y2="1113.2" stroke="#ff0d0d" stroke-width="3.5"/>
<line x1="1482.1" y1="1106.2" x2="1482.1" y2="1119.7" stroke="#ff0d0d" stroke-width="3.5"/>
<text x="1482.1" y="1082.3" font-size="30" text-anchor="middle" fill="#bc1230" >120</text>
<line x1="1525.2" y1="1106.2" x2="1525.2" y2="1113.2" stroke="#ff0d0d" stroke-width="3.5"/>
<line x1="1568.4" y1="1106.2" x2="1568.4" y2="1119.7" stroke="#ff0d0d" stroke-width="3.5"/>
<text x="1568.4" y="1082.3" font-size="30" text-anchor="middle" fill="#bc1230" >180</text>
<line x1="1611.5" y1="1106.2" x2="1611.5" y2="1113.2" stroke="#ff0d0d" stroke-width="3.5"/>
<line x1="1654.6" y1="1106.2" x2="1654.6" y2="1119.7" stroke="#ff0d0d" stroke-width="3.5"/>
<text x="1654.6" y="1082.3" font-size="30" text-anchor="middle" fill="#bc1230" >240</text>
<line x1="1701.0" y1="1104.5" x2="1701.0" y2="1799.2" stroke="#000" stroke-width="3.5"/>
<line x1="1687.5" y1="1106.2" x2="1701.0" y2="1106.2" stroke="#000" stroke-width="3.5"/>
<line x1="1694.0" y1="1150.8" x2="1701.0" y2="1150.8" stroke="#000" stroke-width="3.5"/>
<line x1="1687.5" y1="1195.3" x2="1701.0" y2="1195.3" stroke="#000" stroke-width="3.5"/>
<line x1="1694.0" y1="1239.9" x2="1701.0" y2="1239.9" stroke="#000" stroke-width="3.5"/>
<line x1="1687.5" y1="1284.5" x2="1701.0" y2="1284.5" stroke="#000" stroke-width="3.5"/>
<line x1="1694.0" y1="1329.0" x2="1701.0" y2="1329.0" stroke="#000" stroke-width="3.5"/>
<line x1="1687.5" y1="1373.6" x2="1701.0" y2="1373.6" stroke="#000" stroke-width="3.5"/>
<line x1="1694.0" y1="1418.2" x2="1701.0" y2="1418.2" stroke="#000" stroke-width="3.5"/>
<line x1="1687.5" y1="1462.8" x2="1701.0" y2="1462.8" stroke="#000" stroke-width="3.5"/>
<line x1="1694.0" y1="1507.3" x2="1701.0" y2="1507.3" stroke="#000" stroke-width="3.5"/>
<line x1="1687.5" y1="1551.9" x2="1701.0" y2="1551.9" stroke="#000" stroke-width="3.5"/>
<line x1="1694.0" y1="1596.5" x2="1701.0" y2="1596.5" stroke="#000" stroke-width="3.5"/>
<line x1="1687.5" y1="1641.0" x2="1701.0" y2="1641.0" stroke="#000" stroke-width="3.5"/>
<line x1="1694.0" y1="1685.6" x2="1701.0" y2="1685.6" stroke="#000" stroke-width="3.5"/>
<line x1="1687.5" y1="1730.2" x2="1701.0" y2="1730.2" stroke="#000" stroke-width="3.5"/>
<line x1="1694.0" y1="1774.8" x2="1701.0" y2="1774.8" stroke="#000" stroke-width="3.5"/>
<line x1="1699.2" y1="1797.5" x2="2059.0" y2="1797.5" stroke="#000" stroke-width="3.5"/>
<line x1="1701.0" y1="1797.5" x2="2059.0" y2="1797.5" stroke="#000" stroke-width="3.5"/>
<line x1="1701.0" y1="1797.5" x2="1701.0" y2="1811.0" stroke="#000" stroke-width="3.5"/>
<text x="1698.5" y="1846.5" font-size="32" text-anchor="middle" fill="#000" >0</text>
<line x1="1740.8" y1="1797.5" x2="1740.8" y2="1804.5" stroke="#000" stroke-width="3.5"/>
<line x1="1780.6" y1="1797.5" x2="1780.6" y2="1811.0" stroke="#000" stroke-width="3.5"/>
<text x="1778.1" y="1846.5" font-size="32" text-anchor="middle" fill="#000" >60</text>
<line x1="1820.3" y1="1797.5" x2="1820.3" y2="1804.5" stroke="#000" stroke-width="3.5"/>
<line x1="1860.1" y1="1797.5" x2="1860.1" y2="1811.0" stroke="#000" stroke-width="3.5"/>
<text x="1857.6" y="1846.5" font-size="32" text-anchor="middle" fill="#000" >120</text>
<line x1="1899.9" y1="1797.5" x2="1899.9" y2="1804.5" stroke="#000" stroke-width="3.5"/>
<line x1="1939.7" y1="1797.5" x2="1939.7" y2="1811.0" stroke="#000" stroke-width="3.5"/>
<text x="1937.2" y="1846.5" font-size="32" text-anchor="middle" fill="#000" >180</text>
<line x1="1979.4" y1="1797.5" x2="1979.4" y2="1804.5" stroke="#000" stroke-width="3.5"/>
<line x1="2019.2" y1="1797.5" x2="2019.2" y2="1811.0" stroke="#000" stroke-width="3.5"/>
<text x="2016.7" y="1846.5" font-size="32" text-anchor="middle" fill="#000" >240</text>
<line x1="2059.0" y1="1797.5" x2="2059.0" y2="1804.5" stroke="#000" stroke-width="3.5"/>
<line x1="1687.5" y1="1106.2" x2="1701.0" y2="1106.2" stroke="#000" stroke-width="3.5"/>
<line x1="1701.0" y1="1106.2" x2="2059.0" y2="1106.2" stroke="#ff0d0d" stroke-width="3.5"/>
<line x1="1701.0" y1="1106.2" x2="1701.0" y2="1119.7" stroke="#ff0d0d" stroke-width="3.5"/>
<text x="1701.0" y="1082.3" font-size="30" text-anchor="middle" fill="#bc1230" >0</text>
<line x1="1752.1" y1="1106.2" x2="1752.1" y2="1113.2" stroke="#ff0d0d" stroke-width="3.5"/>
<line x1="1803.3" y1="1106.2" x2="1803.3" y2="1119.7" stroke="#ff0d0d" stroke-width="3.5"/>
<text x="1803.3" y="1082.3" font-size="30" text-anchor="middle" fill="#bc1230" >10</text>
<line x1="1854.4" y1="1106.2" x2="1854.4" y2="1113.2" stroke="#ff0d0d" stroke-width="3.5"/>
<line x1="1905.6" y1="1106.2" x2="1905.6" y2="1119.7" stroke="#ff0d0d" stroke-width="3.5"/>
<text x="1905.6" y="1082.3" font-size="30" text-anchor="middle" fill="#bc1230" >20</text>
<line x1="1956.7" y1="1106.2" x2="1956.7" y2="1113.2" stroke="#ff0d0d" stroke-width="3.5"/>
<line x1="2007.9" y1="1106.2" x2="2007.9" y2="1119.7" stroke="#ff0d0d" stroke-width="3.5"/>
<text x="2007.9" y="1082.3" font-size="30" text-anchor="middle" fill="#bc1230" >30</text>
<line x1="2059.0" y1="1106.2" x2="2059.0" y2="1113.2" stroke="#ff0d0d" stroke-width="3.5"/>
<line x1="279.0" y1="444.1" x2="351.5" y2="444.1" stroke="#000000" stroke-width="3"/>
<polygon points="315.2,438.7 319.5,444.1 315.2,449.5 311.0,444.1" fill="#000000"/>
<line x1="279.0" y1="484.1" x2="351.5" y2="484.1" stroke="#0505e8" stroke-width="3"/>
<polygon points="315.2,478.7 319.5,484.1 315.2,489.5 311.0,484.1" fill="#0505e8"/>
<line x1="279.0" y1="524.1" x2="351.5" y2="524.1" stroke="#f20808" stroke-width="3"/>
<polygon points="315.2,518.7 319.5,524.1 315.2,529.5 311.0,524.1" fill="#f20808"/>
<line x1="1356.6" y1="451.0" x2="1429.6" y2="451.0" stroke="#333" stroke-width="2.2"/>
<polygon points="1393.1,446.8 1396.4,451.0 1393.1,455.2 1389.8,451.0" fill="#333"/>
<line x1="1356.6" y1="495.3" x2="1429.6" y2="495.3" stroke="#0505e8" stroke-width="3.5"/>
<polygon points="1393.1,489.9 1397.4,495.3 1393.1,500.7 1388.8,495.3" fill="#0505e8"/>
<line x1="1356.6" y1="529.6" x2="1429.6" y2="529.6" stroke="#b01818" stroke-width="3"/>
<polygon points="1393.1,524.2 1397.4,529.6 1393.1,535.0 1388.8,529.6" fill="#b01818"/>
<line x1="341.1" y1="1351.0" x2="415.1" y2="1351.0" stroke="#000000" stroke-width="3.2"/>
<polygon points="378.1,1345.6 382.4,1351.0 378.1,1356.4 373.8,1351.0" fill="#000000"/>
<line x1="341.1" y1="1391.1" x2="415.1" y2="1391.1" stroke="#0505e8" stroke-width="3.5"/>
<polygon points="378.1,1385.7 382.4,1391.1 378.1,1396.5 373.8,1391.1" fill="#0505e8"/>
<line x1="341.1" y1="1431.3" x2="415.1" y2="1431.3" stroke="#f20808" stroke-width="3.5"/>
<polygon points="378.1,1429.5 379.5,1431.3 378.1,1433.1 376.7,1431.3" fill="#f20808"/>
<line x1="1391.4" y1="1575.4" x2="1462.9" y2="1575.4" stroke="#333" stroke-width="2.2"/>
<polygon points="1427.2,1571.2 1430.5,1575.4 1427.2,1579.6 1423.8,1575.4" fill="#333"/>
<line x1="1391.4" y1="1619.4" x2="1462.9" y2="1619.4" stroke="#0505e8" stroke-width="3.5"/>
<polygon points="1427.2,1614.0 1431.4,1619.4 1427.2,1624.8 1422.9,1619.4" fill="#0505e8"/>
<line x1="1391.4" y1="1660.8" x2="1462.9" y2="1660.8" stroke="#c01818" stroke-width="3"/>
<rect x="1423.2" y="1656.8" width="8.0" height="8.0" fill="#c01818"/>
<text id="t_A1" x="168.5" y="54.3" font-size="35" fill="#000" textLength="66.7" lengthAdjust="spacing">(A1)</text>
<text id="t_A2" x="568.5" y="54.1" font-size="35" fill="#000" textLength="64.7" lengthAdjust="spacing">(A2)</text>
<text id="t_A3" x="938.5" y="50.3" font-size="35" fill="#000" textLength="66.7" lengthAdjust="spacing">(A3)</text>
<text id="t_A4" x="1380.0" y="30.2" font-size="35" fill="#000" textLength="65.7" lengthAdjust="spacing">(A4)</text>
<text id="t_A5" x="1732.5" y="34.2" font-size="35" fill="#000" textLength="65.1" lengthAdjust="spacing">(A5)</text>
<text id="t_B1" x="164.0" y="1009.8" font-size="34" fill="#000" textLength="63.4" lengthAdjust="spacing">(B1)</text>
<text id="t_B2" x="568.0" y="1008.9" font-size="34" fill="#000" textLength="64.8" lengthAdjust="spacing">(B2)</text>
<text id="t_B3" x="938.0" y="1008.9" font-size="34" fill="#000" textLength="66.0" lengthAdjust="spacing">(B3)</text>
<text id="t_B4" x="1402.5" y="991.6" font-size="34" fill="#000" textLength="63.8" lengthAdjust="spacing">(B4)</text>
<text id="t_B5" x="1735.5" y="988.0" font-size="34" fill="#000" textLength="63.6" lengthAdjust="spacing">(B5)</text>
<text id="t_tA4" x="1358.0" y="85.5" font-size="32" fill="#bc1230" textLength="222.3" lengthAdjust="spacing">Σ4AZAs (ng g<tspan font-size="17" dy="-13">-1</tspan><tspan dy="13"> </tspan>)</text>
<text id="t_tA5" x="1679.0" y="84.9" font-size="32" fill="#bc1230" textLength="411.5" lengthAdjust="spacing">Σ4AZAs MAR (ng cm<tspan font-size="17" dy="-13">-2</tspan><tspan dy="13"> </tspan> yr<tspan font-size="17" dy="-13">-1</tspan><tspan dy="13"> </tspan>)</text>
<text id="t_tB4" x="1367.0" y="1033.4" font-size="32" fill="#bc1230" textLength="243.7" lengthAdjust="spacing">Σ4AZAs (ng g<tspan font-size="17" dy="-13">-1</tspan><tspan dy="13"> </tspan>)</text>
<text id="t_tB5" x="1684.5" y="1039.1" font-size="32" fill="#bc1230" textLength="390.3" lengthAdjust="spacing">ΣAZAs MAR (ng cm<tspan font-size="17" dy="-13">-2</tspan><tspan dy="13"> </tspan> yr<tspan font-size="17" dy="-13">-1</tspan><tspan dy="13"> </tspan>)</text>
<text id="t_bB1a" x="78.0" y="1892.7" font-size="33" fill="#000" textLength="457.8" lengthAdjust="spacing">BC, Char, Soot Concentration</text>
<text id="t_bB1b" x="251.0" y="1944.5" font-size="33" fill="#000" textLength="122.6" lengthAdjust="spacing">(mg g<tspan font-size="17" dy="-13">-1</tspan><tspan dy="13"> </tspan>)</text>
<text id="t_bB2a" x="566.0" y="1896.5" font-size="33" fill="#000" textLength="319.0" lengthAdjust="spacing">BC, Char, Soot MAR</text>
<text id="t_bB2b" x="624.0" y="1947.5" font-size="33" fill="#000" textLength="201.9" lengthAdjust="spacing">(mg cm<tspan font-size="17" dy="-13">-2</tspan><tspan dy="13"> </tspan> yr<tspan font-size="17" dy="-13">-1</tspan><tspan dy="13"> </tspan>)</text>
<text id="t_bB3" x="944.5" y="1909.4" font-size="33" fill="#000" textLength="233.4" lengthAdjust="spacing">Char/Soot ratio</text>
<text id="t_bB4a" x="1320.5" y="1900.2" font-size="32" fill="#000" textLength="336.3" lengthAdjust="spacing">Σ28PAHs, Σ15OPAHs</text>
<text id="t_bB4b" x="1322.5" y="1950.5" font-size="32" fill="#000" textLength="334.7" lengthAdjust="spacing">Concentration (ng g<tspan font-size="17" dy="-13">-1</tspan><tspan dy="13"> </tspan>)</text>
<text id="t_bB5a" x="1706.5" y="1900.2" font-size="32" fill="#000" textLength="336.7" lengthAdjust="spacing">Σ28PAHs, Σ15OPAHs</text>
<text id="t_bB5b" x="1740.5" y="1950.5" font-size="32" fill="#000" textLength="280.0" lengthAdjust="spacing">MAR (ng cm<tspan font-size="17" dy="-13">-2</tspan><tspan dy="13"> </tspan> yr<tspan font-size="17" dy="-13">-1</tspan><tspan dy="13"> </tspan>)</text>
<text id="t_lA1a" x="356.5" y="455.2" font-size="31" fill="#000" textLength="43.7" lengthAdjust="spacing">BC</text>
<text id="t_lA1b" x="357.5" y="495.2" font-size="31" fill="#000" textLength="68.8" lengthAdjust="spacing">Char</text>
<text id="t_lA1c" x="357.5" y="534.7" font-size="31" fill="#000" textLength="62.4" lengthAdjust="spacing">Soot</text>
<text id="t_lA4a" x="1436.5" y="460.4" font-size="31" fill="#000" textLength="135.6" lengthAdjust="spacing">Σ28PAHs</text>
<text id="t_lA4b" x="1436.5" y="504.1" font-size="31" fill="#2323c8" textLength="158.7" lengthAdjust="spacing">Σ15OPAHs</text>
<text id="t_lA4c" x="1434.5" y="540.1" font-size="31" fill="#bc1230" textLength="113.2" lengthAdjust="spacing">Σ4AZAs</text>
<text id="t_lB1a" x="420.0" y="1361.6" font-size="31" fill="#000" textLength="43.9" lengthAdjust="spacing">BC</text>
<text id="t_lB1b" x="421.0" y="1401.0" font-size="31" fill="#000" textLength="68.0" lengthAdjust="spacing">Char</text>
<text id="t_lB1c" x="421.0" y="1441.2" font-size="31" fill="#000" textLength="63.6" lengthAdjust="spacing">Soot</text>
<text id="t_lB4a" x="1471.5" y="1584.4" font-size="31" fill="#000" textLength="133.2" lengthAdjust="spacing">Σ28PAHs</text>
<text id="t_lB4b" x="1471.5" y="1628.2" font-size="31" fill="#2323c8" textLength="156.3" lengthAdjust="spacing">Σ15OPAHs</text>
<text id="t_lB4c" x="1471.5" y="1669.9" font-size="31" fill="#bc1230" textLength="109.4" lengthAdjust="spacing">Σ4AZAs</text>
<text x="0" y="0" font-size="32" font-weight="bold" text-anchor="middle" transform="translate(25.5,526.7) rotate(-90)">Year</text>
<text x="0" y="0" font-size="32" font-weight="bold" text-anchor="middle" transform="translate(45.3,1330) rotate(-90)">Year</text>
</svg></body></html>
